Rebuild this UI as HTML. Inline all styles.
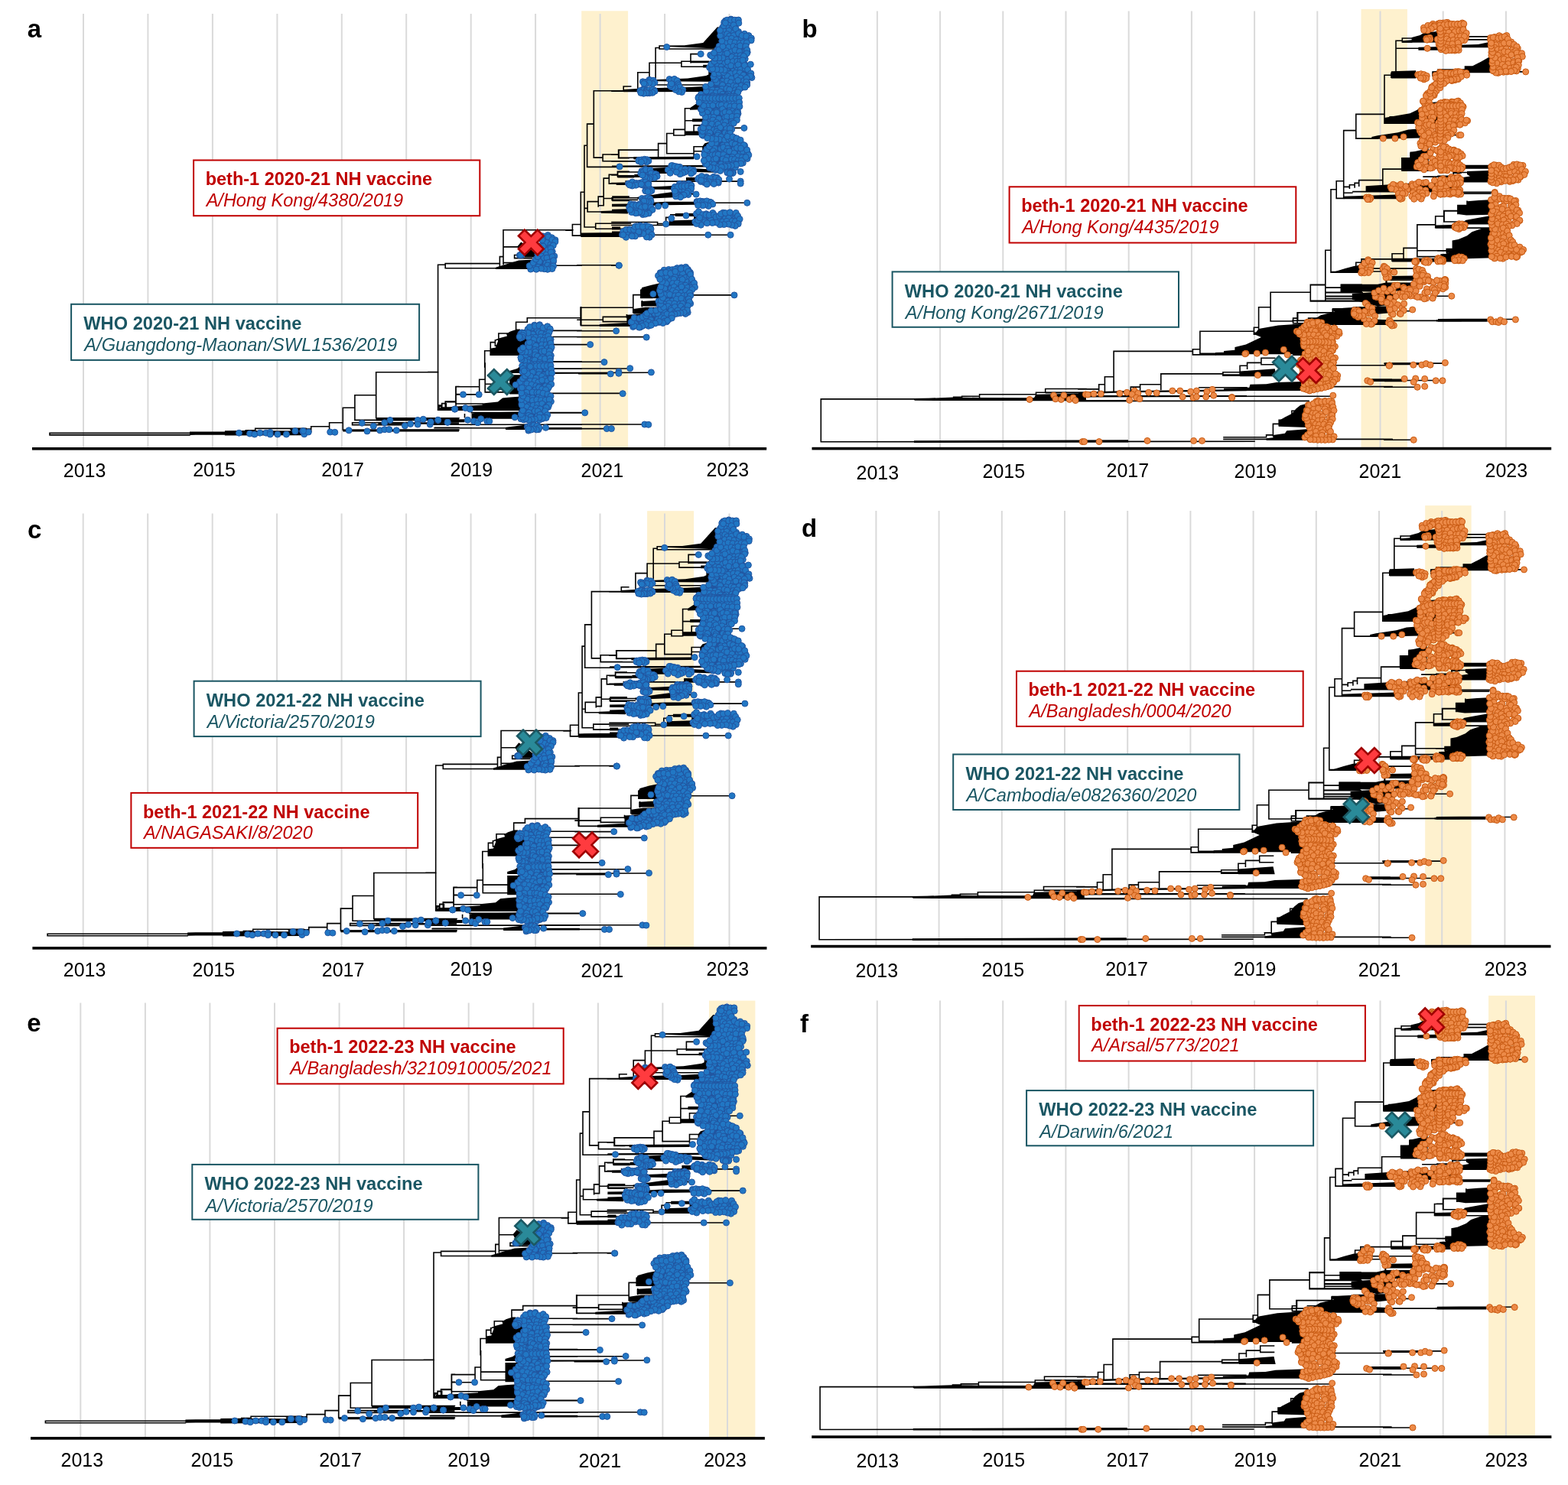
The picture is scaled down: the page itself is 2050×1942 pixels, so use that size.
<!DOCTYPE html>
<html><head><meta charset="utf-8"><title>Phylogenetic trees</title>
<style>
html,body{margin:0;padding:0;background:#fff;}
svg{display:block;}
text{font-family:"Liberation Sans",Arial,sans-serif;}
.yl{font-size:25px;fill:#000;}
.pl{font-size:33px;font-weight:bold;fill:#000;}
.b1{font-size:23.5px;font-weight:bold;}
.b2{font-size:23.5px;font-style:italic;}
</style></head><body>
<svg xmlns="http://www.w3.org/2000/svg" width="2050" height="1942" viewBox="0 0 2050 1942">
<rect width="2050" height="1942" fill="#fff"/>
<rect x="760.2" y="14.3" width="60.9" height="570.7" fill="#FEF1CE"/>
<line x1="109" y1="18.1" x2="109" y2="586.8" stroke="#DADADA" stroke-width="2"/>
<line x1="193.4" y1="18.1" x2="193.4" y2="586.8" stroke="#DADADA" stroke-width="2"/>
<line x1="277.9" y1="18.1" x2="277.9" y2="586.8" stroke="#DADADA" stroke-width="2"/>
<line x1="362.4" y1="18.1" x2="362.4" y2="586.8" stroke="#DADADA" stroke-width="2"/>
<line x1="446.8" y1="18.1" x2="446.8" y2="586.8" stroke="#DADADA" stroke-width="2"/>
<line x1="531.2" y1="18.1" x2="531.2" y2="586.8" stroke="#DADADA" stroke-width="2"/>
<line x1="615.7" y1="18.1" x2="615.7" y2="586.8" stroke="#DADADA" stroke-width="2"/>
<line x1="700.1" y1="18.1" x2="700.1" y2="586.8" stroke="#DADADA" stroke-width="2"/>
<line x1="784.6" y1="18.1" x2="784.6" y2="586.8" stroke="#DADADA" stroke-width="2"/>
<line x1="869.1" y1="18.1" x2="869.1" y2="586.8" stroke="#DADADA" stroke-width="2"/>
<line x1="953.5" y1="18.1" x2="953.5" y2="586.8" stroke="#DADADA" stroke-width="2"/>
<rect x="1779.5" y="11.9" width="60.4" height="572.9" fill="#FEF1CE"/>
<line x1="1146.9" y1="14.5" x2="1146.9" y2="586.6" stroke="#DADADA" stroke-width="2"/>
<line x1="1229.1" y1="14.5" x2="1229.1" y2="586.6" stroke="#DADADA" stroke-width="2"/>
<line x1="1311.3" y1="14.5" x2="1311.3" y2="586.6" stroke="#DADADA" stroke-width="2"/>
<line x1="1393.5" y1="14.5" x2="1393.5" y2="586.6" stroke="#DADADA" stroke-width="2"/>
<line x1="1475.7" y1="14.5" x2="1475.7" y2="586.6" stroke="#DADADA" stroke-width="2"/>
<line x1="1557.9" y1="14.5" x2="1557.9" y2="586.6" stroke="#DADADA" stroke-width="2"/>
<line x1="1640.1" y1="14.5" x2="1640.1" y2="586.6" stroke="#DADADA" stroke-width="2"/>
<line x1="1722.3" y1="14.5" x2="1722.3" y2="586.6" stroke="#DADADA" stroke-width="2"/>
<line x1="1804.5" y1="14.5" x2="1804.5" y2="586.6" stroke="#DADADA" stroke-width="2"/>
<line x1="1886.7" y1="14.5" x2="1886.7" y2="586.6" stroke="#DADADA" stroke-width="2"/>
<line x1="1968.9" y1="14.5" x2="1968.9" y2="586.6" stroke="#DADADA" stroke-width="2"/>
<rect x="846.1" y="668.2" width="61" height="569.9" fill="#FEF1CE"/>
<line x1="108.7" y1="671.5" x2="108.7" y2="1239.9" stroke="#DADADA" stroke-width="2"/>
<line x1="193.2" y1="671.5" x2="193.2" y2="1239.9" stroke="#DADADA" stroke-width="2"/>
<line x1="277.7" y1="671.5" x2="277.7" y2="1239.9" stroke="#DADADA" stroke-width="2"/>
<line x1="362.1" y1="671.5" x2="362.1" y2="1239.9" stroke="#DADADA" stroke-width="2"/>
<line x1="446.6" y1="671.5" x2="446.6" y2="1239.9" stroke="#DADADA" stroke-width="2"/>
<line x1="531.1" y1="671.5" x2="531.1" y2="1239.9" stroke="#DADADA" stroke-width="2"/>
<line x1="615.6" y1="671.5" x2="615.6" y2="1239.9" stroke="#DADADA" stroke-width="2"/>
<line x1="700.1" y1="671.5" x2="700.1" y2="1239.9" stroke="#DADADA" stroke-width="2"/>
<line x1="784.5" y1="671.5" x2="784.5" y2="1239.9" stroke="#DADADA" stroke-width="2"/>
<line x1="869" y1="671.5" x2="869" y2="1239.9" stroke="#DADADA" stroke-width="2"/>
<line x1="953.5" y1="671.5" x2="953.5" y2="1239.9" stroke="#DADADA" stroke-width="2"/>
<rect x="1863.2" y="661.1" width="60.4" height="574.7" fill="#FEF1CE"/>
<line x1="1145.4" y1="668" x2="1145.4" y2="1237.6" stroke="#DADADA" stroke-width="2"/>
<line x1="1227.6" y1="668" x2="1227.6" y2="1237.6" stroke="#DADADA" stroke-width="2"/>
<line x1="1309.8" y1="668" x2="1309.8" y2="1237.6" stroke="#DADADA" stroke-width="2"/>
<line x1="1392" y1="668" x2="1392" y2="1237.6" stroke="#DADADA" stroke-width="2"/>
<line x1="1474.2" y1="668" x2="1474.2" y2="1237.6" stroke="#DADADA" stroke-width="2"/>
<line x1="1556.4" y1="668" x2="1556.4" y2="1237.6" stroke="#DADADA" stroke-width="2"/>
<line x1="1638.6" y1="668" x2="1638.6" y2="1237.6" stroke="#DADADA" stroke-width="2"/>
<line x1="1720.8" y1="668" x2="1720.8" y2="1237.6" stroke="#DADADA" stroke-width="2"/>
<line x1="1803" y1="668" x2="1803" y2="1237.6" stroke="#DADADA" stroke-width="2"/>
<line x1="1885.2" y1="668" x2="1885.2" y2="1237.6" stroke="#DADADA" stroke-width="2"/>
<line x1="1967.4" y1="668" x2="1967.4" y2="1237.6" stroke="#DADADA" stroke-width="2"/>
<rect x="927" y="1308.6" width="60.4" height="570.5" fill="#FEF1CE"/>
<line x1="105.3" y1="1311.5" x2="105.3" y2="1880.9" stroke="#DADADA" stroke-width="2"/>
<line x1="189.9" y1="1311.5" x2="189.9" y2="1880.9" stroke="#DADADA" stroke-width="2"/>
<line x1="274.4" y1="1311.5" x2="274.4" y2="1880.9" stroke="#DADADA" stroke-width="2"/>
<line x1="359" y1="1311.5" x2="359" y2="1880.9" stroke="#DADADA" stroke-width="2"/>
<line x1="443.6" y1="1311.5" x2="443.6" y2="1880.9" stroke="#DADADA" stroke-width="2"/>
<line x1="528.1" y1="1311.5" x2="528.1" y2="1880.9" stroke="#DADADA" stroke-width="2"/>
<line x1="612.7" y1="1311.5" x2="612.7" y2="1880.9" stroke="#DADADA" stroke-width="2"/>
<line x1="697.3" y1="1311.5" x2="697.3" y2="1880.9" stroke="#DADADA" stroke-width="2"/>
<line x1="781.9" y1="1311.5" x2="781.9" y2="1880.9" stroke="#DADADA" stroke-width="2"/>
<line x1="866.4" y1="1311.5" x2="866.4" y2="1880.9" stroke="#DADADA" stroke-width="2"/>
<line x1="951" y1="1311.5" x2="951" y2="1880.9" stroke="#DADADA" stroke-width="2"/>
<rect x="1946.1" y="1302" width="60.9" height="575.3" fill="#FEF1CE"/>
<line x1="1146.8" y1="1308.4" x2="1146.8" y2="1879.1" stroke="#DADADA" stroke-width="2"/>
<line x1="1229" y1="1308.4" x2="1229" y2="1879.1" stroke="#DADADA" stroke-width="2"/>
<line x1="1311.2" y1="1308.4" x2="1311.2" y2="1879.1" stroke="#DADADA" stroke-width="2"/>
<line x1="1393.4" y1="1308.4" x2="1393.4" y2="1879.1" stroke="#DADADA" stroke-width="2"/>
<line x1="1475.6" y1="1308.4" x2="1475.6" y2="1879.1" stroke="#DADADA" stroke-width="2"/>
<line x1="1557.8" y1="1308.4" x2="1557.8" y2="1879.1" stroke="#DADADA" stroke-width="2"/>
<line x1="1640.1" y1="1308.4" x2="1640.1" y2="1879.1" stroke="#DADADA" stroke-width="2"/>
<line x1="1722.3" y1="1308.4" x2="1722.3" y2="1879.1" stroke="#DADADA" stroke-width="2"/>
<line x1="1804.5" y1="1308.4" x2="1804.5" y2="1879.1" stroke="#DADADA" stroke-width="2"/>
<line x1="1886.7" y1="1308.4" x2="1886.7" y2="1879.1" stroke="#DADADA" stroke-width="2"/>
<line x1="1968.9" y1="1308.4" x2="1968.9" y2="1879.1" stroke="#DADADA" stroke-width="2"/>
<defs>
<g id="tb">
<path d="M800 119.1 L815.2 119.1 M815.2 119.1 L815.2 113 L824.7 113 M833.8 117.1 L833.8 94.8 L849 94.8 M849 103.9 L849 82.2 L890.9 82.2 M890.9 80.2 L890.9 87.3 L919.7 87.3 M890.9 80.2 L903 80.2 M903 81.7 L903 70.6 L916.2 70.6 M857.1 103.9 L857.1 62.5 L862.1 62.5 M862.1 60 L862.1 64 L936.4 64 M862.1 60 L870.7 60 M859.6 111 L934.3 111 M951.5 122.1 L963.6 122.1 M971.7 84.2 L980.8 84.2 M800 202.3 L809.1 202.3 M809.1 196.2 L809.1 206.3 L907.1 206.3 M809.1 196.2 L860.6 196.2 M860.6 205.3 L860.6 187.6 L871.7 187.6 M871.7 200.8 L871.7 174.5 L880.8 174.5 M871.7 200.8 L907.1 200.8 M880.8 169.4 L880.8 177 L895.5 177 M880.8 169.4 L895.5 169.4 M895.5 176.5 L895.5 141.7 L903 141.7 M895.5 157.8 L905.1 157.8 M907.1 163.9 L907.1 172.5 L916.2 172.5 M907.1 163.9 L916.2 163.9 M907.1 204.8 L907.1 191.7 L918.2 191.7 M907.1 197.7 L921.2 197.7 M957.6 167.4 L971.7 167.4 M807.6 225 L807.6 231.1 L860.6 231.1 M807.6 225 L833.3 225 M818.2 237.1 L963.6 237.1 M800 239.6 L818.2 239.6 M800 210.9 L830.3 210.9 M800 229 L807.6 229 M800 258.7 L833.3 258.7 M800 261.4 L833.3 261.4 M935.4 265.3 L976.8 265.3 M876.8 280.9 L882.8 280.9 M870.7 289.5 L870.7 284.4 L876.8 284.4 M859.6 290.5 L859.6 294.5 L874.7 294.5 M859.6 292.5 L874.7 292.5 M800 290.5 L859.6 290.5 M800 294.5 L859.6 294.5 M830.3 307.2 L955.1 307.2 M800 347.1 L809.1 347.1 M901 253.6 L910.1 254.1 M740 301.1 L748.4 301.1 M759.3 293.5 L748.4 293.5 L748.4 308.1 L759.3 308.1 M759.3 308.1 L759.3 251.2 L764 251.2 M778.7 297 L764 297 L764 190.3 L767.6 190.3 M824.4 292.3 L778.7 292.3 L778.7 299.3 L824.4 299.3 M776.3 218.4 L767.6 218.4 L767.6 162.1 L776.3 162.1 M815 118.8 L776.3 118.8 L776.3 206.1 L788.1 206.1 M808.6 202 L788.1 202 L788.1 210.8 L816.2 210.8 M860.8 196.1 L808.6 196.1 L808.6 206.7 L822.1 206.7 M767.6 218.4 L805.7 218.4 M796.3 233.1 L789.2 233.1 L789.2 268.8 L782.2 268.8 M807.4 228.4 L796.3 228.4 L796.3 240.1 L805.7 240.1 M822.1 224.3 L807.4 224.3 L807.4 230.1 L822.1 230.1 M789.2 257.1 L782.2 257.1 L782.2 270 M801 259.5 L789.2 259.5 M822.1 257.1 L801 257.1 L801 262.4 L822.1 262.4 M782.2 263.6 L768.1 263.6 L768.1 277 L785.7 277 M764 272.4 L768.1 272.4 M572.6 400 L572.6 346.2 L582.2 346.2 M652.9 344.6 L582.2 344.6 L582.2 350.7 L648.9 350.7 M657.5 335.6 L653.4 335.6 L653.4 349.7 M748.9 300.7 L658 300.7 L658 345.7 M658 322.9 L676.2 322.9 M695.4 333.5 L672.6 333.5 L672.6 337.6 L695.4 337.6 M658 343.6 L678.2 343.6 M725.7 347.2 L760 347.2 M759.5 415.8 L689.3 415.8 L689.3 421.3 L674.6 421.3 L674.6 431.4 L679.2 431.4 M721.6 432.4 L760 432.4 M721.6 440.5 L760 440.5 M721.6 450.6 L760 450.6 M721.6 472.8 L760 472.8 M663 436 L651.9 436 L651.9 445.1 M647.4 445.1 L647.4 452.1 L661 452.1 M651.9 443.5 L647.4 445.1 M641.3 447.6 L641.3 464.2 M641.3 447.6 L647.4 447.6 M641.3 458.7 L633.7 458.7 L633.7 480 M560 486.6 L572.6 486.6 M572.6 475 L572.6 536.1 L681.2 536.1 M634.2 475 L634.2 512.9 L679.2 512.9 M634.2 502.3 L671.1 502.3 M634.2 496.2 L626.7 496.2 L626.7 513.4 M626.7 505.8 L595.9 505.8 L595.9 528 L630.7 528 M595.9 515.9 L625.7 515.9 M595.9 525 L582.2 525 L582.2 531.6 M582.2 527.5 L577.7 527.5 L577.7 532.6 M577.7 531.1 L574.1 531.1 L574.1 534.6 M616.6 539.6 L760 539.6 M607.5 541.7 L607.5 545.7 M560 555.3 L760 555.3 M568.1 559.8 L760 559.8 M721.6 482.1 L760 482.1 M721.6 488.1 L760 488.1 M721.6 514.4 L760 514.4 M716.6 560.9 L760 560.9 M755 346.7 L809.4 346.7 M827.8 402.2 L759.4 402.2 L759.4 425.6 L823.9 425.6 M837.8 385.6 L827.8 385.6 L827.8 408.9 M843.9 379.4 L837.8 379.4 L837.8 389.4 L852.8 389.4 M819.4 414.4 L788.3 414.4 L788.3 420.6 L821.7 420.6 M755 418.3 L788.3 418.3 M819.4 411.7 L819.4 415 M755 432.8 L805 432.8 M755 440.6 L845 440.6 M755 450.6 L771.7 450.6 M903.9 385.9 L959.4 385.9 M839.4 393.9 L839.4 400.6 M715 473.3 L789.4 473.3 M715 482 L823.3 482 M715 487.6 L851.1 487.2 M715 514.4 L813.9 514.4 M715 540 L764.4 540 M715 555 L847.2 555 M715 560.6 L799.4 560.6 M572.8 486.7 L491.7 486.7 L491.7 546.7 L600 546.7 M491.7 516.7 L463.9 516.7 L463.9 549.4 L535.6 549.4 M463.9 533.3 L448.3 533.3 L448.3 562.2 L600 562.2 M448.3 552.8 L430.6 552.8 L430.6 562.2 M460.6 552.8 L460.6 555.6 L535.6 555.6 M460.6 552.8 L535.6 552.8 M430.6 557.8 L406.7 557.8 L406.7 563.9 M380 561.1 L406.7 561.1 M380 564.4 L406.7 564.4 M568.9 559.4 L600 559.4 M573.9 536.1 L573.9 530 L577.8 530 L577.8 534.4 M577.8 527.8 L583.3 527.8 L583.3 532.2 M583.3 525.6 L595.6 525.6 M596.1 505.6 L596.1 532.2 M596.1 505.6 L600 505.6 M596.1 515.6 L600 515.6 M65 566.4 L248 566.4 M65 568.9 L248 568.9 M65 566.4 L65 568.9 M321.3 565.4 L321.3 562.7 L333.7 562.7 M333.7 562.7 L333.7 560.4 L400 560.4 M572.6 346.2 L572.6 536.1" fill="none" stroke="#000" stroke-width="1.6" stroke-linecap="square"/>
<path d="M870.7 59.5 L894.9 59.3 L919.2 56 L929.3 44.8 L937.9 35.3 L943.4 36.3 L946 62.5 L936.4 63.5 L911.1 62.5 L894.9 62 L870.7 61Z M926.3 80.7 L951.5 66.6 L951.5 97.9 L926.3 97.9Z M903 79.5 L927.3 79.5 L927.3 82.3 L903 82.3Z M919.2 84.7 L927.3 84.7 L927.3 88.4 L919.2 88.4Z M858.6 103.9 L899 102.4 L923.2 98.9 L927.3 96.9 L947.5 96.9 L947.5 107 L858.6 106.2Z M815.2 117.1 L840.4 115.6 L901 114 L919.2 113 L951.5 114 L951.5 120.1 L815.2 120.3Z M902 141.2 L911.1 135.1 L916.2 134.1 L917.2 143.2 L902 143.7Z M905.1 155.3 L921.2 155.3 L921.2 159.3 L905.1 159.3Z M895.5 171.5 L916.2 171.5 L916.2 177 L895.5 177Z M918.2 191.7 L921.2 187.6 L930.3 184.6 L931.3 199.7 L918.2 199.7Z M828.3 205.3 L907.1 204.8 L907.1 208.3 L828.3 208.6Z M800 216.4 L921.2 215.9 L921.2 218.4 L800 218.7Z M838.4 220.5 L870.7 218.9 L911.1 220.5 L941.4 222 L941.4 226 L911.1 225 L870.7 227 L838.4 227Z M897 232.1 L911.1 232.1 L911.1 236.1 L897 236.1Z M829.3 228 L860.6 228 L860.6 231.1 L829.3 231.1Z M843.4 244.5 L864.6 243.8 L879.8 243 L879.8 248.1 L843.4 247.6Z M833.3 257.7 L850.5 255.2 L864.6 253.1 L879.8 251.1 L879.8 258.2 L833.3 260.2Z M800 266.8 L820.2 266.5 L870.7 263.7 L909.1 263.7 L909.1 267.8 L870.7 268.3 L820.2 270.3 L800 270.3Z M800 273.8 L820.2 273.3 L820.2 278.4 L800 278.4Z M882.8 278.9 L907.1 278.9 L907.1 282.9 L882.8 282.9Z M874.7 288.5 L907.1 287.5 L907.1 295.1 L874.7 295.1Z M907.1 278.4 L943.4 280.4 L943.4 287.5 L907.1 287.5Z M800 302.6 L812.1 302.6 L812.1 309.2 L800 309.2Z M800 296.6 L811.1 296.6 L811.1 300.6 L800 300.6Z M759.3 304.6 L811.5 304 L811.5 309.9 L759.3 309.9Z M785.7 275.9 L820.9 274.7 L820.9 279.4 L785.7 278.8Z M805.7 238.9 L822.1 238.4 L822.1 241.9 L805.7 241.9Z M807.4 229 L829.1 229 L829.1 232.5 L807.4 232.5Z M647.9 349.7 L661 345.7 L678.2 340.6 L697.4 339.6 L697.4 351.9 L647.9 351.9Z M676.2 322.4 L681.2 316.4 L684.2 318.4 L699.4 330.5 L699.4 336.6 L686.3 336.6 L679.2 328.5Z M758.5 401.1 L760.5 401.1 L760.5 425.4 L758.5 425.4Z M662 436.5 L667.1 433.4 L673.1 431.4 L689.3 430.9 L689.3 464.9 L640.8 464.9 L640.8 455.7 L647.9 454.6 L650.9 446.6 L651.9 442.5 L663 439.5Z M679.2 476.9 L689.3 475.9 L689.3 480 L679.2 480Z M666.1 485.1 L676.2 482.1 L681.2 478 L684.2 476 L691.3 475 L691.3 488.1 L666.1 488.1Z M666.1 490.2 L686.3 490.2 L686.3 515.4 L666.1 515.4Z M630.7 527.5 L650.9 525.5 L657 520.5 L667.1 519.4 L681.2 518.4 L681.2 536.8 L573.1 536.8 L573.1 533.6 L596.4 531.6 L630.7 529.5Z M616.6 540.7 L624.6 539.6 L681.2 538.6 L681.2 547.7 L616.6 547.7Z M560 548.7 L607.5 548.2 L607.5 552.3 L560 552.6Z M661 558.8 L686.3 555.8 L686.3 562.1 L661 562.1Z M828.3 403.9 L843.9 401.7 L866.1 401.7 L866.1 410.6 L828.3 410.6Z M838.3 393.9 L860.6 392.8 L860.6 400.6 L838.3 400.6Z M837.8 379.4 L839.4 376.1 L851.7 372.8 L861.7 370.6 L862.8 361.7 L877.2 359.4 L877.2 390.6 L869.4 390.6 L837.8 389.4Z M783.9 423.9 L823.9 421.7 L823.9 426.9 L783.9 426.9Z M819.4 411.7 L841.7 410.6 L860.6 411.7 L860.6 422.8 L819.4 422.8Z M756.1 487.3 L795 487.3 L795 489.6 L756.1 489.6Z M448.3 561.7 L600 561.3 L600 564.4 L448.3 564.4Z M494.4 552.2 L600 552 L600 554.7 L494.4 554.7Z M491.7 546.4 L600 546.2 L600 550.2 L491.7 550.2Z M380 561.7 L406.7 561.7 L406.7 565 L380 565Z M575.6 532.2 L600 532.2 L600 536.7 L575.6 536.7Z M248 564.6 L293.9 564.3 L293.9 568.5 L248 568.9Z M293.9 563.2 L322.2 562.9 L400 563.6 L400 569.2 L293.9 569.6Z" fill="#000"/>
<path d="M950.5 22.6 L966.2 22.6 L966.7 26.7 L959.6 29.2 L962.6 34.2 L966.7 40.3 L971.7 43.3 L977.8 44.3 L984.8 47.4 L984.8 50.4 L978.8 53.4 L977.8 58.5 L979.8 63.5 L979.8 68.6 L975.8 72.6 L974.7 78.7 L976.8 86.8 L980.8 92.8 L984.8 97.9 L983.8 101.9 L978.8 104.9 L977.8 110 L978.8 114 L975.8 117.1 L967.7 120.1 L965.7 124.1 L961.6 130 L911.1 130 L914.1 126.2 L921.2 122.1 L920.2 116.1 L927.3 113 L935.4 111 L933.3 107 L930.3 102.9 L931.3 98.9 L944.4 97.9 L945.5 94.8 L928.3 91.8 L926.3 84.7 L930.3 80.7 L937.4 79.7 L941.4 74.6 L931.3 75.7 L927.3 72.6 L930.3 67.6 L937.4 62.5 L943.4 57.5 L942.4 50.4 L940.4 43.3 L940.4 36.3 L945.5 30.2Z M839.4 107 L844.4 104.9 L852.5 101.9 L857.6 103.9 L859.6 108 L856.6 111 L848.5 112 L840.4 112 L838.4 110Z M833.3 118.1 L838.4 116.1 L847.5 115.1 L856.6 116.1 L859.6 119.1 L856.6 122.1 L847.5 125.2 L838.4 124.1 L834.3 122.1Z M874.7 102.9 L880.8 99.9 L885.9 101.9 L888.9 107 L890.9 111 L891.9 115.1 L896 119.1 L893.9 123.1 L888.9 123.1 L882.8 121.1 L879.8 117.1 L875.8 115.1 L872.7 112 L874.7 108Z M911.1 125 L967.7 125 L968.7 136.1 L965.7 144.2 L965.7 154.3 L961.6 158.3 L956.6 165.4 L957.6 172.5 L954.5 177.5 L961.6 178.5 L971.7 183.6 L975.8 190.7 L971.7 195.7 L979.8 197.7 L981.8 204.8 L977.8 207.8 L971.7 212.9 L970.7 216.9 L957.6 219.9 L943.4 222 L941.4 227 L935.4 224 L926.3 222 L922.2 217.9 L918.2 212.9 L918.2 204.8 L921.2 197.7 L927.3 189.6 L932.3 182.6 L921.2 180.6 L914.1 175.5 L916.2 165.4 L919.2 158.3 L920.2 150.3 L916.2 145.2 L915.2 140.2 L918.2 135.1 L912.1 131.1Z M831.3 210.9 L835.4 207.8 L843.4 204.8 L849.5 207.8 L851.5 210.9 L848.5 213.9 L835.4 213.9Z M834.3 226 L842.4 218.9 L850.5 218.9 L853.5 224 L860.6 227 L862.6 231.1 L858.6 234.1 L851.5 235.1 L848.5 237.1 L843.4 236.1 L836.4 229Z M869.7 222 L874.7 214.9 L883.8 215.9 L890.9 217.9 L899 219.9 L907.1 222 L910.1 225 L907.1 228 L899 226 L894.9 229 L887.9 231.1 L880.8 226 L872.7 227Z M910.1 232.1 L914.1 229 L921.2 231.1 L931.3 231.1 L939.4 232.1 L943.4 235.1 L941.4 239.1 L931.3 241.2 L921.2 241.2 L913.1 236.1Z M818.2 240.2 L823.2 237.1 L828.3 239.1 L838.4 237.1 L847.5 237.1 L851.5 240.2 L847.5 243.2 L838.4 243.2 L823.2 244.2Z M878.8 245 L885.9 240.2 L896 238.1 L904 239.1 L907.1 242.2 L905.1 245Z M947.5 225 L953.5 222 L959.6 224 L961.6 227 L957.6 229 L951.5 229Z M840.4 250.1 L844.4 246.1 L851.5 245.1 L855.6 249.1 L852.5 253.1 L844.4 253.1Z M877.8 246.1 L883.8 242 L890.9 240 L907.1 241 L907.1 245.1 L903 250.1 L901 254.1 L896 258.2 L888.9 261.2 L880.8 259.2 L879.8 254.1 L878.8 250.1Z M837.4 261.2 L842.4 256.2 L848.5 255.2 L853.5 259.2 L854.5 264.2 L849.5 267.3 L842.4 266.3 L838.4 264.2Z M819.2 270.3 L824.2 266.3 L834.3 265.3 L840.4 268.3 L846.5 268.3 L854.5 270.3 L856.6 274.3 L851.5 280.4 L846.5 282.4 L840.4 281.4 L834.3 280.4 L828.3 280.9 L822.2 278.4 L820.2 274.3Z M908.1 264.2 L912.1 261.2 L926.3 260.2 L933.3 264.2 L935.4 267.3 L929.3 271.3 L916.2 271.3 L909.1 269.3Z M907.1 278.4 L910.1 275.4 L915.2 279.4 L924.2 279.4 L932.3 277.4 L937.4 280.4 L943.4 280.4 L945.5 277.4 L957.6 276.4 L965.7 277.4 L970.7 286.5 L968.7 293.5 L964.6 296.6 L955.6 294.5 L943.4 296.6 L937.4 294.5 L929.3 294.5 L921.2 293.5 L913.1 295.6 L907.1 293.5 L909.1 288.5 L911.1 284.4Z M811.1 302.6 L815.2 299.6 L825.3 298.6 L828.3 293.5 L834.3 292.5 L842.4 293.5 L850.5 294.5 L854.5 298.6 L851.5 303.6 L855.6 307.7 L852.5 311.7 L848.5 311.7 L844.4 306.7 L832.3 305.7 L828.3 311.7 L823.2 310.7 L815.2 311.7 L811.1 307.7Z M859.6 357.2 L864.6 353.1 L870.7 352.1 L879.8 352.1 L886.9 350.1 L893.9 348.1 L900 348.1 L903 352.1 L906.1 357.2 L905.1 360 L859.6 360Z M709.5 305.3 L717.6 306.3 L723.6 310.3 L728.2 313.3 L725.7 318.4 L722.6 322.4 L723.6 328.5 L725.7 336.6 L726.7 342.6 L725.7 350.7 L723.6 354.7 L716.6 355.8 L706.5 354.7 L699.4 355.3 L691.3 354.7 L689.3 349.7 L694.3 345.7 L697.4 340.6 L699.4 336.6 L703.4 330.5 L707.5 324.4 L709.5 318.4 L708.5 310.3Z M677.2 332.5 L680.2 329.5 L684.2 330.5 L685.3 335.1 L681.2 337.1 L677.7 335.6Z M688.3 427.4 L691.3 424.3 L699.4 422.8 L705.5 422.3 L711.5 425.4 L717.6 423.8 L721.6 427.4 L720.6 432.4 L719.6 437.5 L721.6 442.5 L723.6 448.6 L724.6 454.6 L721.6 460.7 L720.6 465.8 L721.6 470.8 L721.6 480 L689.3 480 L688.3 476.9 L679.2 472.8 L678.2 469.8 L685.3 466.8 L690.3 464.7 L689.3 462.7 L679.2 461.7 L677.2 458.7 L680.2 455.7 L688.3 454.6 L688.8 446.6 L688.3 438.5 L688.3 432.4Z M677.2 440.5 L680.2 437.5 L679.2 433.4 L683.2 431.4 L687.3 433.4 L687.3 438.5 L684.2 444.5 L679.2 445.6 L676.2 442.5Z M681.2 475 L721.6 475 L723.6 485.1 L722.6 492.2 L723.6 500.3 L720.6 504.3 L716.6 508.3 L713.5 513.4 L719.6 515.4 L723.6 518.4 L721.6 523.5 L720.6 531.6 L716.6 535.6 L714.5 540.7 L717.6 545.7 L715.6 549.7 L705.5 549.7 L699.4 551.8 L690.3 552.8 L681.2 548.7 L679.2 544.7 L681.2 539.6 L679.2 531.6 L678.2 523.5 L680.2 518.4 L678.2 513.4 L679.2 505.3 L677.2 497.2 L681.2 492.2 L688.3 485.1 L681.2 483.1 L682.2 479Z M686.3 557.8 L690.3 554.8 L699.4 552.8 L705.5 555.8 L708.5 559.8 L704.4 563.9 L692.3 564.9 L687.3 561.9Z M859.4 357.2 L863.9 353.9 L870.6 352.8 L877.2 353.9 L883.9 351.7 L891.7 348.3 L899.4 348.3 L905 356.1 L907.2 362.8 L910.6 368.3 L911.7 373.9 L908.3 377.2 L905 381.7 L906.1 386.1 L903.9 390.6 L905 395 L902.8 400.6 L901.7 407.2 L897.2 410.6 L888.3 412.8 L879.4 415 L879.4 419.4 L872.8 422.8 L866.1 426.1 L860.6 423.9 L855 426.1 L849.4 428.3 L841.7 427.2 L832.8 430.6 L826.1 428.3 L822.8 422.8 L826.1 417.2 L832.8 418.3 L841.7 415 L842.8 411.7 L848.3 408.3 L855 408.3 L861.7 407.2 L866.1 405 L860.6 399.4 L860.6 392.8 L863.9 387.2 L861.7 381.7 L860.6 377.2 L862.8 371.7 L865 365 L861.7 361.7Z" fill="#2255A0" stroke="none" transform="translate(0,0)"/>
<g fill="#2177C4" stroke="#2255A0" stroke-width="1"><circle cx="948.5" cy="27.1" r="4"/><circle cx="955.7" cy="25.1" r="4"/><circle cx="962.6" cy="28" r="4"/><circle cx="946.7" cy="29.2" r="4"/><circle cx="953.2" cy="30.7" r="4"/><circle cx="959.4" cy="31.8" r="4"/><circle cx="944.4" cy="36.3" r="4"/><circle cx="950.7" cy="36.3" r="4"/><circle cx="957.1" cy="36.6" r="4"/><circle cx="961.4" cy="35.9" r="4"/><circle cx="942.3" cy="42.9" r="4"/><circle cx="946.7" cy="40.7" r="4"/><circle cx="953.1" cy="40.3" r="4"/><circle cx="959.3" cy="42.6" r="4"/><circle cx="965.5" cy="41.5" r="4"/><circle cx="944.8" cy="45.5" r="4"/><circle cx="950.7" cy="44.6" r="4"/><circle cx="953.8" cy="47" r="4"/><circle cx="959.2" cy="46.5" r="4"/><circle cx="968.4" cy="46.3" r="4"/><circle cx="973.3" cy="44.3" r="4"/><circle cx="978.9" cy="46.6" r="4"/><circle cx="947.7" cy="53" r="4"/><circle cx="950.4" cy="50.9" r="4"/><circle cx="956.5" cy="50.3" r="4"/><circle cx="962.8" cy="51.8" r="4"/><circle cx="969.1" cy="49.9" r="4"/><circle cx="975.5" cy="49.4" r="4"/><circle cx="945" cy="55.6" r="4"/><circle cx="948.4" cy="56.6" r="4"/><circle cx="955" cy="54.9" r="4"/><circle cx="960.9" cy="55.9" r="4"/><circle cx="967.1" cy="56.3" r="4"/><circle cx="971.8" cy="55.7" r="4"/><circle cx="940.1" cy="60.4" r="4"/><circle cx="945.9" cy="63" r="4"/><circle cx="952.8" cy="61.7" r="4"/><circle cx="959" cy="60.8" r="4"/><circle cx="963.6" cy="61.9" r="4"/><circle cx="967.7" cy="60" r="4"/><circle cx="974.8" cy="60.2" r="4"/><circle cx="937.6" cy="65.3" r="4"/><circle cx="942.2" cy="66.4" r="4"/><circle cx="949.3" cy="66.5" r="4"/><circle cx="956.2" cy="67.8" r="4"/><circle cx="961" cy="65.5" r="4"/><circle cx="966.7" cy="67.5" r="4"/><circle cx="974.1" cy="67.5" r="4"/><circle cx="977.2" cy="68.3" r="4"/><circle cx="928.7" cy="72" r="4"/><circle cx="934.2" cy="70.2" r="4"/><circle cx="941.6" cy="69.3" r="4"/><circle cx="947.8" cy="71.4" r="4"/><circle cx="950.7" cy="69.8" r="4"/><circle cx="958.7" cy="72.8" r="4"/><circle cx="963" cy="73.2" r="4"/><circle cx="968.1" cy="72.7" r="4"/><circle cx="975.1" cy="69.6" r="4"/><circle cx="933.5" cy="75.4" r="4"/><circle cx="935.9" cy="74.5" r="4"/><circle cx="944.3" cy="76.6" r="4"/><circle cx="951.2" cy="78.1" r="4"/><circle cx="956.8" cy="74.5" r="4"/><circle cx="962" cy="77.1" r="4"/><circle cx="967.4" cy="77.2" r="4"/><circle cx="974.2" cy="76.9" r="4"/><circle cx="935.8" cy="80.7" r="4"/><circle cx="941.2" cy="79.5" r="4"/><circle cx="945.2" cy="83.3" r="4"/><circle cx="951.5" cy="80.9" r="4"/><circle cx="958.3" cy="80.5" r="4"/><circle cx="963.8" cy="80.3" r="4"/><circle cx="967.9" cy="80.1" r="4"/><circle cx="927.6" cy="88.3" r="4"/><circle cx="931.4" cy="86.3" r="4"/><circle cx="938.6" cy="86.1" r="4"/><circle cx="942.8" cy="87.3" r="4"/><circle cx="951" cy="88.1" r="4"/><circle cx="955.7" cy="85.9" r="4"/><circle cx="962.9" cy="86.9" r="4"/><circle cx="965.1" cy="84.7" r="4"/><circle cx="973.6" cy="84.6" r="4"/><circle cx="976.4" cy="85.9" r="4"/><circle cx="929.8" cy="91.1" r="4"/><circle cx="939.7" cy="92.5" r="4"/><circle cx="946.2" cy="90.8" r="4"/><circle cx="950.6" cy="92.9" r="4"/><circle cx="958.9" cy="93" r="4"/><circle cx="963.7" cy="92.1" r="4"/><circle cx="968.2" cy="91" r="4"/><circle cx="974.3" cy="89.6" r="4"/><circle cx="945.1" cy="96.4" r="4"/><circle cx="951.1" cy="95.7" r="4"/><circle cx="955.2" cy="96.4" r="4"/><circle cx="961.7" cy="95.2" r="4"/><circle cx="967.2" cy="95.3" r="4"/><circle cx="972" cy="98.3" r="4"/><circle cx="980" cy="97.7" r="4"/><circle cx="935.8" cy="102.7" r="4"/><circle cx="939" cy="99.8" r="4"/><circle cx="948" cy="99.6" r="4"/><circle cx="951.2" cy="99.6" r="4"/><circle cx="956.2" cy="102.8" r="4"/><circle cx="963.2" cy="100.1" r="4"/><circle cx="968.3" cy="102.1" r="4"/><circle cx="977.4" cy="101.5" r="4"/><circle cx="982.9" cy="101.5" r="4"/><circle cx="933.6" cy="105.3" r="4"/><circle cx="937.9" cy="106.9" r="4"/><circle cx="944.9" cy="106.4" r="4"/><circle cx="950.6" cy="106" r="4"/><circle cx="955.5" cy="107.9" r="4"/><circle cx="962.2" cy="107.1" r="4"/><circle cx="964.8" cy="105.2" r="4"/><circle cx="972.6" cy="105.5" r="4"/><circle cx="976.7" cy="107.9" r="4"/><circle cx="942" cy="109.7" r="4"/><circle cx="944.6" cy="111.2" r="4"/><circle cx="952.3" cy="112.9" r="4"/><circle cx="959" cy="112.2" r="4"/><circle cx="962.5" cy="113.4" r="4"/><circle cx="969.3" cy="111.9" r="4"/><circle cx="975" cy="109.7" r="4"/><circle cx="926.4" cy="115.9" r="4"/><circle cx="931.5" cy="117.6" r="4"/><circle cx="937.8" cy="118" r="4"/><circle cx="944" cy="116.4" r="4"/><circle cx="949.9" cy="115.9" r="4"/><circle cx="953.7" cy="117.2" r="4"/><circle cx="961.5" cy="117.7" r="4"/><circle cx="965.3" cy="118.2" r="4"/><circle cx="924.4" cy="120.3" r="4"/><circle cx="930.2" cy="121.3" r="4"/><circle cx="935.9" cy="121.4" r="4"/><circle cx="941.9" cy="119.8" r="4"/><circle cx="944.7" cy="123.3" r="4"/><circle cx="952.2" cy="123.1" r="4"/><circle cx="959.9" cy="122.2" r="4"/><circle cx="964.2" cy="120.4" r="4"/><circle cx="920.1" cy="126.8" r="4"/><circle cx="927.9" cy="128.3" r="4"/><circle cx="931.7" cy="125" r="4"/><circle cx="938.9" cy="127.5" r="4"/><circle cx="941.7" cy="126.3" r="4"/><circle cx="950.1" cy="124.7" r="4"/><circle cx="956.9" cy="128.4" r="4"/><circle cx="961.9" cy="124.9" r="4"/><circle cx="950.7" cy="26.2" r="4"/><circle cx="955.6" cy="26.2" r="4"/><circle cx="960.5" cy="26.2" r="4"/><circle cx="965.4" cy="26.1" r="4"/><circle cx="965.8" cy="30.2" r="4"/><circle cx="959.2" cy="32.8" r="4"/><circle cx="961.9" cy="37.7" r="4"/><circle cx="965.6" cy="43.7" r="4"/><circle cx="970.1" cy="46.5" r="4"/><circle cx="975.7" cy="47.3" r="4"/><circle cx="982.3" cy="50" r="4"/><circle cx="982.1" cy="52.8" r="4"/><circle cx="976.3" cy="56" r="4"/><circle cx="975" cy="60.8" r="4"/><circle cx="976.7" cy="65.3" r="4"/><circle cx="976.4" cy="69.9" r="4"/><circle cx="972.3" cy="73.5" r="4"/><circle cx="971.1" cy="78.7" r="4"/><circle cx="973.4" cy="85.6" r="4"/><circle cx="977.6" cy="91.1" r="4"/><circle cx="981.8" cy="96" r="4"/><circle cx="981" cy="99.7" r="4"/><circle cx="976.3" cy="102.3" r="4"/><circle cx="975.6" cy="107.1" r="4"/><circle cx="976.7" cy="111.1" r="4"/><circle cx="974" cy="114" r="4"/><circle cx="966.6" cy="116.7" r="4"/><circle cx="964.8" cy="120.6" r="4"/><circle cx="961.1" cy="126.4" r="4"/><circle cx="956.8" cy="126.4" r="4"/><circle cx="952.5" cy="126.4" r="4"/><circle cx="948.3" cy="126.4" r="4"/><circle cx="944" cy="126.5" r="4"/><circle cx="939.7" cy="126.5" r="4"/><circle cx="935.4" cy="126.6" r="4"/><circle cx="931" cy="126.7" r="4"/><circle cx="926.6" cy="126.9" r="4"/><circle cx="922.3" cy="127" r="4"/><circle cx="917.8" cy="127.1" r="4"/><circle cx="913.4" cy="127.2" r="4"/><circle cx="916.4" cy="123.4" r="4"/><circle cx="923.4" cy="119.2" r="4"/><circle cx="922.6" cy="113.4" r="4"/><circle cx="929.5" cy="110.2" r="4"/><circle cx="937.2" cy="107.9" r="4"/><circle cx="935.4" cy="104.1" r="4"/><circle cx="932.8" cy="100.3" r="4"/><circle cx="934" cy="96.5" r="4"/><circle cx="940.1" cy="95.6" r="4"/><circle cx="946" cy="94.7" r="4"/><circle cx="947.2" cy="91.6" r="4"/><circle cx="942.2" cy="91.2" r="4"/><circle cx="937" cy="90.7" r="4"/><circle cx="931.5" cy="90.1" r="4"/><circle cx="929.8" cy="83.9" r="4"/><circle cx="933.9" cy="80.4" r="4"/><circle cx="941" cy="79.4" r="4"/><circle cx="944.8" cy="75.7" r="4"/><circle cx="939.9" cy="75.8" r="4"/><circle cx="934.9" cy="76.1" r="4"/><circle cx="930.8" cy="73.4" r="4"/><circle cx="933.6" cy="69.1" r="4"/><circle cx="940" cy="65" r="4"/><circle cx="945" cy="60.7" r="4"/><circle cx="943.8" cy="53.7" r="4"/><circle cx="941.7" cy="46.7" r="4"/><circle cx="941.5" cy="39.7" r="4"/><circle cx="946.1" cy="33.7" r="4"/><circle cx="948.4" cy="30" r="4"/><circle cx="840.4" cy="106.8" r="4"/><circle cx="848.8" cy="104.4" r="4"/><circle cx="853.5" cy="105.2" r="4"/><circle cx="843" cy="107.3" r="4"/><circle cx="847.3" cy="107" r="4"/><circle cx="850.5" cy="104.9" r="4"/><circle cx="854.3" cy="105.3" r="4"/><circle cx="856" cy="108" r="4"/><circle cx="853.2" cy="109.7" r="4"/><circle cx="848.6" cy="108.4" r="4"/><circle cx="843.6" cy="110.4" r="4"/><circle cx="841.9" cy="109.3" r="4"/><circle cx="838.6" cy="120.4" r="4"/><circle cx="840.8" cy="116.9" r="4"/><circle cx="849.7" cy="119.5" r="4"/><circle cx="854.9" cy="117.8" r="4"/><circle cx="836.9" cy="118.6" r="4"/><circle cx="841.6" cy="117.7" r="4"/><circle cx="845" cy="118.6" r="4"/><circle cx="846.3" cy="118.5" r="4"/><circle cx="849.1" cy="117.6" r="4"/><circle cx="853.2" cy="117.3" r="4"/><circle cx="856" cy="119.3" r="4"/><circle cx="853.1" cy="121.3" r="4"/><circle cx="849" cy="121.8" r="4"/><circle cx="846.4" cy="121.8" r="4"/><circle cx="844.8" cy="121.5" r="4"/><circle cx="841.5" cy="122.3" r="4"/><circle cx="837.8" cy="121.4" r="4"/><circle cx="875.2" cy="103.6" r="4"/><circle cx="881.5" cy="103.8" r="4"/><circle cx="877.2" cy="109.8" r="4"/><circle cx="883.9" cy="107.4" r="4"/><circle cx="877.5" cy="113.4" r="4"/><circle cx="882.6" cy="112" r="4"/><circle cx="888.3" cy="114.9" r="4"/><circle cx="885.6" cy="116.7" r="4"/><circle cx="891.7" cy="118.8" r="4"/><circle cx="877.2" cy="105.5" r="4"/><circle cx="881.7" cy="103.4" r="4"/><circle cx="885.3" cy="105.5" r="4"/><circle cx="886.6" cy="109.7" r="4"/><circle cx="887.4" cy="111.8" r="4"/><circle cx="888.5" cy="114" r="4"/><circle cx="892.8" cy="117.4" r="4"/><circle cx="891.4" cy="120.5" r="4"/><circle cx="887.4" cy="119.8" r="4"/><circle cx="883.4" cy="117.5" r="4"/><circle cx="882.3" cy="114.5" r="4"/><circle cx="879.2" cy="114.1" r="4"/><circle cx="876.3" cy="112.2" r="4"/><circle cx="877.9" cy="109.6" r="4"/><circle cx="913.5" cy="126.9" r="4"/><circle cx="920" cy="127.1" r="4"/><circle cx="924.5" cy="128.1" r="4"/><circle cx="933.7" cy="129.7" r="4"/><circle cx="938.9" cy="127.4" r="4"/><circle cx="943.7" cy="127.6" r="4"/><circle cx="948.1" cy="126.9" r="4"/><circle cx="954.1" cy="130.2" r="4"/><circle cx="962.3" cy="129.7" r="4"/><circle cx="919" cy="131.9" r="4"/><circle cx="923.7" cy="134.2" r="4"/><circle cx="929.1" cy="132.2" r="4"/><circle cx="934.8" cy="131.9" r="4"/><circle cx="942.4" cy="135" r="4"/><circle cx="946.7" cy="132.7" r="4"/><circle cx="953.9" cy="133.8" r="4"/><circle cx="959.6" cy="134.9" r="4"/><circle cx="963.9" cy="133.2" r="4"/><circle cx="918.6" cy="139.1" r="4"/><circle cx="925.3" cy="138.7" r="4"/><circle cx="931.9" cy="137.9" r="4"/><circle cx="939.8" cy="137.3" r="4"/><circle cx="943.3" cy="137.4" r="4"/><circle cx="949.9" cy="137.7" r="4"/><circle cx="954.6" cy="139.5" r="4"/><circle cx="960.3" cy="138.8" r="4"/><circle cx="916.4" cy="142.9" r="4"/><circle cx="922" cy="143.4" r="4"/><circle cx="927.3" cy="144.4" r="4"/><circle cx="936.5" cy="145.4" r="4"/><circle cx="941.6" cy="145.4" r="4"/><circle cx="944.6" cy="142.7" r="4"/><circle cx="954.2" cy="144.7" r="4"/><circle cx="957.7" cy="145.3" r="4"/><circle cx="964.4" cy="144.8" r="4"/><circle cx="919.7" cy="146.6" r="4"/><circle cx="924.4" cy="147.3" r="4"/><circle cx="933.1" cy="148" r="4"/><circle cx="937" cy="147" r="4"/><circle cx="945.5" cy="148.3" r="4"/><circle cx="948.2" cy="146.8" r="4"/><circle cx="953.4" cy="147.3" r="4"/><circle cx="961.7" cy="147.2" r="4"/><circle cx="965" cy="148.6" r="4"/><circle cx="925.3" cy="153.5" r="4"/><circle cx="928.1" cy="153.3" r="4"/><circle cx="933" cy="153.3" r="4"/><circle cx="939.7" cy="155.2" r="4"/><circle cx="947.8" cy="153.6" r="4"/><circle cx="950.4" cy="152.6" r="4"/><circle cx="957.1" cy="152.4" r="4"/><circle cx="962.8" cy="155.1" r="4"/><circle cx="922" cy="159.3" r="4"/><circle cx="927.4" cy="159.6" r="4"/><circle cx="932" cy="157" r="4"/><circle cx="936.6" cy="160.1" r="4"/><circle cx="945.2" cy="160.3" r="4"/><circle cx="948.7" cy="159.3" r="4"/><circle cx="956.4" cy="159.2" r="4"/><circle cx="919.4" cy="165.5" r="4"/><circle cx="924" cy="161.8" r="4"/><circle cx="930.7" cy="162.2" r="4"/><circle cx="936.8" cy="164.3" r="4"/><circle cx="938.9" cy="162.3" r="4"/><circle cx="947" cy="163.9" r="4"/><circle cx="953.3" cy="165.4" r="4"/><circle cx="957" cy="161.7" r="4"/><circle cx="916.1" cy="168.9" r="4"/><circle cx="921.9" cy="167.5" r="4"/><circle cx="926.9" cy="168" r="4"/><circle cx="933.6" cy="169.8" r="4"/><circle cx="937.7" cy="168.8" r="4"/><circle cx="941.7" cy="166.8" r="4"/><circle cx="949.8" cy="168.6" r="4"/><circle cx="956.7" cy="169.1" r="4"/><circle cx="917.7" cy="173.2" r="4"/><circle cx="924.4" cy="172.9" r="4"/><circle cx="928" cy="173.7" r="4"/><circle cx="936.8" cy="172.1" r="4"/><circle cx="939.2" cy="174.2" r="4"/><circle cx="948" cy="173.8" r="4"/><circle cx="952" cy="175.1" r="4"/><circle cx="919.1" cy="177.3" r="4"/><circle cx="926.2" cy="178.1" r="4"/><circle cx="932.2" cy="180.3" r="4"/><circle cx="938.6" cy="176.8" r="4"/><circle cx="942.8" cy="178.9" r="4"/><circle cx="949.3" cy="179.6" r="4"/><circle cx="960" cy="180.1" r="4"/><circle cx="936" cy="184.2" r="4"/><circle cx="940.5" cy="182.3" r="4"/><circle cx="947.6" cy="183.2" r="4"/><circle cx="952.9" cy="182.3" r="4"/><circle cx="956.4" cy="182.3" r="4"/><circle cx="965.1" cy="182.5" r="4"/><circle cx="931.3" cy="188" r="4"/><circle cx="935.9" cy="186.9" r="4"/><circle cx="945.4" cy="190.1" r="4"/><circle cx="950.6" cy="190" r="4"/><circle cx="957" cy="187.4" r="4"/><circle cx="961.3" cy="188.8" r="4"/><circle cx="967.1" cy="190.5" r="4"/><circle cx="973.6" cy="190.6" r="4"/><circle cx="923.8" cy="195.1" r="4"/><circle cx="928.3" cy="195.5" r="4"/><circle cx="934.5" cy="194.2" r="4"/><circle cx="942.3" cy="194.6" r="4"/><circle cx="945.7" cy="192.7" r="4"/><circle cx="951.6" cy="194.3" r="4"/><circle cx="960.1" cy="195.4" r="4"/><circle cx="963.5" cy="193.4" r="4"/><circle cx="971" cy="192.9" r="4"/><circle cx="921.2" cy="199.3" r="4"/><circle cx="925.7" cy="200.6" r="4"/><circle cx="932.5" cy="197.4" r="4"/><circle cx="936.1" cy="200.7" r="4"/><circle cx="945.6" cy="200.5" r="4"/><circle cx="949.8" cy="198.1" r="4"/><circle cx="953.6" cy="197.9" r="4"/><circle cx="959.9" cy="200.5" r="4"/><circle cx="968.4" cy="199.9" r="4"/><circle cx="971.2" cy="197.8" r="4"/><circle cx="977.6" cy="200.6" r="4"/><circle cx="924" cy="204" r="4"/><circle cx="930.9" cy="202.9" r="4"/><circle cx="935" cy="202.5" r="4"/><circle cx="939.1" cy="202" r="4"/><circle cx="945.8" cy="202.3" r="4"/><circle cx="950.5" cy="205.8" r="4"/><circle cx="957.3" cy="205.4" r="4"/><circle cx="964.7" cy="204.8" r="4"/><circle cx="970.3" cy="205.7" r="4"/><circle cx="977" cy="204.7" r="4"/><circle cx="921.3" cy="209.1" r="4"/><circle cx="926.2" cy="207.5" r="4"/><circle cx="933.4" cy="208.8" r="4"/><circle cx="936.1" cy="207.5" r="4"/><circle cx="945.1" cy="207.9" r="4"/><circle cx="949" cy="209.6" r="4"/><circle cx="956.6" cy="208.2" r="4"/><circle cx="960.5" cy="208.6" r="4"/><circle cx="964.9" cy="210.4" r="4"/><circle cx="970.7" cy="210.7" r="4"/><circle cx="977" cy="207.5" r="4"/><circle cx="922.2" cy="214.1" r="4"/><circle cx="929" cy="214.8" r="4"/><circle cx="933.6" cy="215.2" r="4"/><circle cx="942.7" cy="214.7" r="4"/><circle cx="948.2" cy="215.6" r="4"/><circle cx="951.8" cy="215.3" r="4"/><circle cx="959.4" cy="214.2" r="4"/><circle cx="962.3" cy="214.4" r="4"/><circle cx="971.3" cy="213.1" r="4"/><circle cx="927.6" cy="219.6" r="4"/><circle cx="931.2" cy="220.5" r="4"/><circle cx="938.3" cy="218.3" r="4"/><circle cx="944.9" cy="220.5" r="4"/><circle cx="951" cy="220.4" r="4"/><circle cx="955.8" cy="219.7" r="4"/><circle cx="961.4" cy="219" r="4"/><circle cx="935.7" cy="222.4" r="4"/><circle cx="912.9" cy="128.1" r="4"/><circle cx="917.4" cy="128.2" r="4"/><circle cx="921.9" cy="128.3" r="4"/><circle cx="926.4" cy="128.4" r="4"/><circle cx="930.8" cy="128.5" r="4"/><circle cx="935.3" cy="128.6" r="4"/><circle cx="939.7" cy="128.6" r="4"/><circle cx="944.1" cy="128.6" r="4"/><circle cx="948.5" cy="128.6" r="4"/><circle cx="952.9" cy="128.5" r="4"/><circle cx="957.4" cy="128.5" r="4"/><circle cx="961.8" cy="128.4" r="4"/><circle cx="966.3" cy="128.3" r="4"/><circle cx="966.6" cy="133.8" r="4"/><circle cx="966.9" cy="139.2" r="4"/><circle cx="963.8" cy="147.3" r="4"/><circle cx="963.6" cy="152.2" r="4"/><circle cx="963.4" cy="157.1" r="4"/><circle cx="959.3" cy="161.1" r="4"/><circle cx="954.3" cy="168.1" r="4"/><circle cx="954.5" cy="174.3" r="4"/><circle cx="951" cy="178.4" r="4"/><circle cx="958" cy="178.9" r="4"/><circle cx="963.1" cy="180.9" r="4"/><circle cx="968.1" cy="183.2" r="4"/><circle cx="972.4" cy="189.6" r="4"/><circle cx="968.6" cy="194" r="4"/><circle cx="976.6" cy="196.1" r="4"/><circle cx="978.8" cy="202.8" r="4"/><circle cx="975" cy="205.5" r="4"/><circle cx="969.4" cy="210.2" r="4"/><circle cx="968.6" cy="214" r="4"/><circle cx="962.5" cy="215.2" r="4"/><circle cx="956.4" cy="216.5" r="4"/><circle cx="952.1" cy="217.1" r="4"/><circle cx="947.8" cy="217.7" r="4"/><circle cx="943.4" cy="218.4" r="4"/><circle cx="941.6" cy="223.4" r="4"/><circle cx="936.1" cy="220.5" r="4"/><circle cx="931.9" cy="219.6" r="4"/><circle cx="927.7" cy="218.7" r="4"/><circle cx="924" cy="214.8" r="4"/><circle cx="920.4" cy="210.1" r="4"/><circle cx="920.8" cy="202.3" r="4"/><circle cx="924.1" cy="195.5" r="4"/><circle cx="927.2" cy="191.6" r="4"/><circle cx="930.4" cy="187.8" r="4"/><circle cx="935.8" cy="181.9" r="4"/><circle cx="930.3" cy="181.3" r="4"/><circle cx="924.8" cy="180.5" r="4"/><circle cx="917.7" cy="176.1" r="4"/><circle cx="918.6" cy="171.6" r="4"/><circle cx="919.4" cy="167.1" r="4"/><circle cx="921.9" cy="160.7" r="4"/><circle cx="922.4" cy="153.1" r="4"/><circle cx="918.4" cy="148" r="4"/><circle cx="917.3" cy="143.1" r="4"/><circle cx="920" cy="138.2" r="4"/><circle cx="914.1" cy="134.1" r="4"/><circle cx="835.3" cy="209.3" r="4"/><circle cx="841.8" cy="210.1" r="4"/><circle cx="847.4" cy="210" r="4"/><circle cx="834.9" cy="210.6" r="4"/><circle cx="838.8" cy="208.9" r="4"/><circle cx="842.6" cy="208.3" r="4"/><circle cx="846.1" cy="208.8" r="4"/><circle cx="847.9" cy="210.6" r="4"/><circle cx="845.4" cy="212" r="4"/><circle cx="842.1" cy="210.3" r="4"/><circle cx="838.5" cy="212.1" r="4"/><circle cx="839" cy="223.7" r="4"/><circle cx="843.5" cy="221.4" r="4"/><circle cx="847.4" cy="223.1" r="4"/><circle cx="840.2" cy="228.5" r="4"/><circle cx="845.6" cy="228.6" r="4"/><circle cx="853.2" cy="227.1" r="4"/><circle cx="858.3" cy="228.2" r="4"/><circle cx="844.8" cy="231.5" r="4"/><circle cx="850.6" cy="233.2" r="4"/><circle cx="856.6" cy="231.8" r="4"/><circle cx="837.8" cy="226.7" r="4"/><circle cx="841.5" cy="224.3" r="4"/><circle cx="844.5" cy="221.9" r="4"/><circle cx="850.1" cy="222.5" r="4"/><circle cx="851.1" cy="226.7" r="4"/><circle cx="857" cy="227.6" r="4"/><circle cx="859.1" cy="230.5" r="4"/><circle cx="855.5" cy="232.3" r="4"/><circle cx="850.3" cy="231.7" r="4"/><circle cx="848.8" cy="233.5" r="4"/><circle cx="845.7" cy="233.3" r="4"/><circle cx="843.2" cy="231.2" r="4"/><circle cx="840" cy="229" r="4"/><circle cx="879.6" cy="216.7" r="4"/><circle cx="884.9" cy="217.9" r="4"/><circle cx="888.8" cy="218.4" r="4"/><circle cx="875.8" cy="224.7" r="4"/><circle cx="880.4" cy="222.3" r="4"/><circle cx="888.2" cy="225.2" r="4"/><circle cx="893.8" cy="223" r="4"/><circle cx="901.2" cy="221.6" r="4"/><circle cx="906.5" cy="222.6" r="4"/><circle cx="873.3" cy="222.2" r="4"/><circle cx="877.9" cy="216.6" r="4"/><circle cx="882.2" cy="217.5" r="4"/><circle cx="886.2" cy="218.6" r="4"/><circle cx="890.7" cy="221.5" r="4"/><circle cx="895.7" cy="221.3" r="4"/><circle cx="903.5" cy="222.3" r="4"/><circle cx="906.5" cy="224.7" r="4"/><circle cx="903.6" cy="227" r="4"/><circle cx="895.6" cy="225" r="4"/><circle cx="892.7" cy="226.2" r="4"/><circle cx="889.1" cy="227.7" r="4"/><circle cx="884.3" cy="225.1" r="4"/><circle cx="876.2" cy="226.3" r="4"/><circle cx="912.5" cy="234.3" r="4"/><circle cx="917.9" cy="233.3" r="4"/><circle cx="923.5" cy="231.5" r="4"/><circle cx="933" cy="231.3" r="4"/><circle cx="937.4" cy="232.3" r="4"/><circle cx="916.3" cy="237.5" r="4"/><circle cx="921.1" cy="238.8" r="4"/><circle cx="926.5" cy="236.5" r="4"/><circle cx="932" cy="236.6" r="4"/><circle cx="939.3" cy="239.1" r="4"/><circle cx="913.7" cy="232.7" r="4"/><circle cx="917.4" cy="230.5" r="4"/><circle cx="924.2" cy="233.1" r="4"/><circle cx="926.6" cy="234.7" r="4"/><circle cx="928.5" cy="233.3" r="4"/><circle cx="935.9" cy="232.8" r="4"/><circle cx="939.8" cy="235" r="4"/><circle cx="937.9" cy="238.1" r="4"/><circle cx="933.2" cy="238.4" r="4"/><circle cx="929.2" cy="238.3" r="4"/><circle cx="926.5" cy="237.6" r="4"/><circle cx="923.5" cy="238.5" r="4"/><circle cx="920.5" cy="237.3" r="4"/><circle cx="916.7" cy="235.8" r="4"/><circle cx="821.6" cy="240.1" r="4"/><circle cx="826.1" cy="242.1" r="4"/><circle cx="831.3" cy="240.6" r="4"/><circle cx="840.7" cy="238.9" r="4"/><circle cx="845.1" cy="241.1" r="4"/><circle cx="821.8" cy="240.2" r="4"/><circle cx="826.7" cy="238" r="4"/><circle cx="831.9" cy="239.6" r="4"/><circle cx="835.7" cy="240.8" r="4"/><circle cx="835.8" cy="239.6" r="4"/><circle cx="839.6" cy="238.4" r="4"/><circle cx="844" cy="238" r="4"/><circle cx="847.9" cy="240.2" r="4"/><circle cx="844" cy="242.3" r="4"/><circle cx="839.6" cy="241.9" r="4"/><circle cx="835.8" cy="240.7" r="4"/><circle cx="835" cy="240.4" r="4"/><circle cx="831.4" cy="242.2" r="4"/><circle cx="826.6" cy="243" r="4"/><circle cx="888.4" cy="240.4" r="4"/><circle cx="895.2" cy="242.9" r="4"/><circle cx="900.3" cy="240.2" r="4"/><circle cx="882.3" cy="244.3" r="4"/><circle cx="889.5" cy="240.7" r="4"/><circle cx="894.2" cy="240.7" r="4"/><circle cx="896.2" cy="241.7" r="4"/><circle cx="900.6" cy="240.2" r="4"/><circle cx="903.5" cy="242" r="4"/><circle cx="901.7" cy="243.7" r="4"/><circle cx="897.2" cy="242.6" r="4"/><circle cx="896.1" cy="241.7" r="4"/><circle cx="892.5" cy="243.4" r="4"/><circle cx="887.5" cy="244" r="4"/><circle cx="950.8" cy="225.7" r="4"/><circle cx="958.5" cy="225.4" r="4"/><circle cx="951.1" cy="225.5" r="4"/><circle cx="954.9" cy="225.3" r="4"/><circle cx="956.3" cy="225.5" r="4"/><circle cx="958" cy="226.4" r="4"/><circle cx="955.4" cy="226.2" r="4"/><circle cx="954.3" cy="226.7" r="4"/><circle cx="843.8" cy="249.2" r="4"/><circle cx="850.4" cy="247.2" r="4"/><circle cx="844" cy="249.8" r="4"/><circle cx="847.1" cy="248.5" r="4"/><circle cx="849.3" cy="247.9" r="4"/><circle cx="852" cy="249.3" r="4"/><circle cx="849.7" cy="250.8" r="4"/><circle cx="847" cy="250.6" r="4"/><circle cx="887.8" cy="244.9" r="4"/><circle cx="891.6" cy="242.4" r="4"/><circle cx="897.3" cy="242.4" r="4"/><circle cx="885.1" cy="247" r="4"/><circle cx="890.1" cy="247.4" r="4"/><circle cx="895" cy="248.2" r="4"/><circle cx="903" cy="249" r="4"/><circle cx="885.7" cy="255" r="4"/><circle cx="894.1" cy="254.8" r="4"/><circle cx="900" cy="254.5" r="4"/><circle cx="881.3" cy="247.1" r="4"/><circle cx="886.2" cy="244.6" r="4"/><circle cx="891" cy="243.6" r="4"/><circle cx="894.6" cy="243.5" r="4"/><circle cx="899" cy="243.1" r="4"/><circle cx="904" cy="242.8" r="4"/><circle cx="903.7" cy="246.2" r="4"/><circle cx="899.4" cy="250.1" r="4"/><circle cx="897.7" cy="252.7" r="4"/><circle cx="894.2" cy="255.1" r="4"/><circle cx="889.6" cy="257.7" r="4"/><circle cx="883.5" cy="256.8" r="4"/><circle cx="883.2" cy="252.9" r="4"/><circle cx="882.4" cy="250.1" r="4"/><circle cx="839.3" cy="259.5" r="4"/><circle cx="847.3" cy="260.5" r="4"/><circle cx="842.9" cy="262.7" r="4"/><circle cx="850.5" cy="264.4" r="4"/><circle cx="841" cy="261.4" r="4"/><circle cx="844.3" cy="259.3" r="4"/><circle cx="847.1" cy="258.5" r="4"/><circle cx="850.1" cy="260.3" r="4"/><circle cx="851" cy="263.2" r="4"/><circle cx="847.5" cy="264.3" r="4"/><circle cx="844.6" cy="263.4" r="4"/><circle cx="841.8" cy="263.1" r="4"/><circle cx="824.6" cy="266.8" r="4"/><circle cx="829.4" cy="267.4" r="4"/><circle cx="836.2" cy="266.9" r="4"/><circle cx="841.6" cy="269.5" r="4"/><circle cx="847.3" cy="270.8" r="4"/><circle cx="826.4" cy="272.9" r="4"/><circle cx="830.5" cy="272.7" r="4"/><circle cx="838.6" cy="275.3" r="4"/><circle cx="844.2" cy="272.7" r="4"/><circle cx="850.5" cy="273.9" r="4"/><circle cx="828.2" cy="277.2" r="4"/><circle cx="834.6" cy="278.3" r="4"/><circle cx="840.4" cy="280.6" r="4"/><circle cx="846.5" cy="278.5" r="4"/><circle cx="822.7" cy="271.1" r="4"/><circle cx="827.2" cy="268.2" r="4"/><circle cx="831.7" cy="268.5" r="4"/><circle cx="835.4" cy="268.7" r="4"/><circle cx="838.7" cy="271.5" r="4"/><circle cx="843.5" cy="270.3" r="4"/><circle cx="851" cy="271.1" r="4"/><circle cx="853" cy="274.3" r="4"/><circle cx="848.2" cy="279" r="4"/><circle cx="843.8" cy="280.1" r="4"/><circle cx="838.9" cy="278.1" r="4"/><circle cx="835.8" cy="277.1" r="4"/><circle cx="831.2" cy="278.8" r="4"/><circle cx="825.7" cy="277.5" r="4"/><circle cx="823.8" cy="274.3" r="4"/><circle cx="911" cy="263.6" r="4"/><circle cx="917.1" cy="263.5" r="4"/><circle cx="922.8" cy="264.3" r="4"/><circle cx="928" cy="264.2" r="4"/><circle cx="911.7" cy="264.7" r="4"/><circle cx="915.3" cy="262.9" r="4"/><circle cx="919.1" cy="263.6" r="4"/><circle cx="921.3" cy="264.1" r="4"/><circle cx="924" cy="262.9" r="4"/><circle cx="929.7" cy="264.8" r="4"/><circle cx="931.8" cy="267" r="4"/><circle cx="926.3" cy="269.4" r="4"/><circle cx="921.7" cy="267.8" r="4"/><circle cx="918.7" cy="268.7" r="4"/><circle cx="912.6" cy="268.4" r="4"/><circle cx="910.7" cy="280.1" r="4"/><circle cx="923.3" cy="279.7" r="4"/><circle cx="931.9" cy="278.4" r="4"/><circle cx="945.4" cy="278.2" r="4"/><circle cx="952.6" cy="280.7" r="4"/><circle cx="956.6" cy="280.9" r="4"/><circle cx="961" cy="280.2" r="4"/><circle cx="915" cy="282.5" r="4"/><circle cx="920.1" cy="284.2" r="4"/><circle cx="926.9" cy="282.8" r="4"/><circle cx="931.1" cy="285.5" r="4"/><circle cx="937.3" cy="283.2" r="4"/><circle cx="940.8" cy="285.7" r="4"/><circle cx="948.2" cy="285.9" r="4"/><circle cx="952.7" cy="285.2" r="4"/><circle cx="961.2" cy="285.6" r="4"/><circle cx="963.8" cy="283.4" r="4"/><circle cx="908.8" cy="290" r="4"/><circle cx="915.8" cy="290.8" r="4"/><circle cx="921.7" cy="290" r="4"/><circle cx="929.5" cy="287.9" r="4"/><circle cx="934" cy="290.8" r="4"/><circle cx="939.7" cy="288.4" r="4"/><circle cx="944.5" cy="290.1" r="4"/><circle cx="950" cy="289.4" r="4"/><circle cx="957.2" cy="289.2" r="4"/><circle cx="961.3" cy="289.6" r="4"/><circle cx="910.6" cy="279.4" r="4"/><circle cx="913.4" cy="276.8" r="4"/><circle cx="918.6" cy="280.6" r="4"/><circle cx="923" cy="280.8" r="4"/><circle cx="927.3" cy="281.3" r="4"/><circle cx="933.4" cy="280.8" r="4"/><circle cx="936" cy="283.7" r="4"/><circle cx="940.4" cy="282.4" r="4"/><circle cx="942.7" cy="279.7" r="4"/><circle cx="948.4" cy="278.6" r="4"/><circle cx="954.3" cy="277.8" r="4"/><circle cx="962.2" cy="278.4" r="4"/><circle cx="964.6" cy="282.4" r="4"/><circle cx="967.1" cy="286.5" r="4"/><circle cx="965.2" cy="292.7" r="4"/><circle cx="961.2" cy="295.4" r="4"/><circle cx="956.7" cy="294.3" r="4"/><circle cx="952.3" cy="293.1" r="4"/><circle cx="946.5" cy="293.6" r="4"/><circle cx="941.1" cy="293.8" r="4"/><circle cx="936.4" cy="291" r="4"/><circle cx="931.3" cy="291.5" r="4"/><circle cx="924.4" cy="291.8" r="4"/><circle cx="916.4" cy="294.2" r="4"/><circle cx="910.6" cy="292.6" r="4"/><circle cx="912.7" cy="288.2" r="4"/><circle cx="914.7" cy="284.7" r="4"/><circle cx="831.9" cy="295.8" r="4"/><circle cx="836.9" cy="295" r="4"/><circle cx="844.4" cy="295.3" r="4"/><circle cx="850.1" cy="297.1" r="4"/><circle cx="819" cy="302.8" r="4"/><circle cx="822.2" cy="300" r="4"/><circle cx="830" cy="301.3" r="4"/><circle cx="833.7" cy="301.7" r="4"/><circle cx="842.2" cy="302.4" r="4"/><circle cx="845.4" cy="300.2" r="4"/><circle cx="850.3" cy="302.9" r="4"/><circle cx="813.5" cy="307" r="4"/><circle cx="820.6" cy="306.4" r="4"/><circle cx="826.3" cy="307.3" r="4"/><circle cx="832.4" cy="305.3" r="4"/><circle cx="836.3" cy="306" r="4"/><circle cx="845.3" cy="304.6" r="4"/><circle cx="850.1" cy="306.6" r="4"/><circle cx="814.7" cy="302.7" r="4"/><circle cx="818.7" cy="300.3" r="4"/><circle cx="823.7" cy="300.1" r="4"/><circle cx="828.5" cy="300.3" r="4"/><circle cx="830.2" cy="296.5" r="4"/><circle cx="834.4" cy="296.1" r="4"/><circle cx="840.2" cy="296.3" r="4"/><circle cx="847.4" cy="296.3" r="4"/><circle cx="851" cy="299.5" r="4"/><circle cx="847.9" cy="303.6" r="4"/><circle cx="852.1" cy="307" r="4"/><circle cx="849.2" cy="310.2" r="4"/><circle cx="845.4" cy="309.9" r="4"/><circle cx="841" cy="305.6" r="4"/><circle cx="835.5" cy="304" r="4"/><circle cx="834.9" cy="303.2" r="4"/><circle cx="830.5" cy="308.9" r="4"/><circle cx="826.2" cy="308.8" r="4"/><circle cx="818.5" cy="310.3" r="4"/><circle cx="814.6" cy="307.1" r="4"/><circle cx="874.3" cy="353.6" r="4"/><circle cx="885.3" cy="350.6" r="4"/><circle cx="891.4" cy="350.7" r="4"/><circle cx="896.3" cy="350.9" r="4"/><circle cx="865.2" cy="356.9" r="4"/><circle cx="870.6" cy="354.9" r="4"/><circle cx="876.4" cy="356.8" r="4"/><circle cx="883" cy="357.6" r="4"/><circle cx="890.4" cy="356.3" r="4"/><circle cx="893.4" cy="357.5" r="4"/><circle cx="901.8" cy="356.2" r="4"/><circle cx="863.2" cy="356.7" r="4"/><circle cx="868.2" cy="353.2" r="4"/><circle cx="874.3" cy="352.5" r="4"/><circle cx="878.8" cy="352.7" r="4"/><circle cx="883.2" cy="353.2" r="4"/><circle cx="884.9" cy="353.1" r="4"/><circle cx="890.8" cy="349.9" r="4"/><circle cx="896.6" cy="349.3" r="4"/><circle cx="899.4" cy="352.4" r="4"/><circle cx="902.5" cy="356.6" r="4"/><circle cx="901.7" cy="358.9" r="4"/><circle cx="897.2" cy="358.7" r="4"/><circle cx="892.8" cy="358.3" r="4"/><circle cx="888.8" cy="357.6" r="4"/><circle cx="885.6" cy="356.6" r="4"/><circle cx="883.5" cy="356.6" r="4"/><circle cx="880.4" cy="357.5" r="4"/><circle cx="876.4" cy="358.2" r="4"/><circle cx="872" cy="358.7" r="4"/><circle cx="867.6" cy="358.9" r="4"/><circle cx="863.1" cy="359.1" r="4"/><circle cx="711.8" cy="310.3" r="4"/><circle cx="716.3" cy="307.5" r="4"/><circle cx="721.4" cy="310.8" r="4"/><circle cx="714.7" cy="313.2" r="4"/><circle cx="718.6" cy="314.3" r="4"/><circle cx="725.9" cy="313.8" r="4"/><circle cx="709.3" cy="319.6" r="4"/><circle cx="714.7" cy="317.3" r="4"/><circle cx="719.9" cy="319.7" r="4"/><circle cx="711.6" cy="324.5" r="4"/><circle cx="719.3" cy="323.7" r="4"/><circle cx="705.9" cy="329.7" r="4"/><circle cx="712.2" cy="329.2" r="4"/><circle cx="715.4" cy="327.4" r="4"/><circle cx="722.2" cy="329" r="4"/><circle cx="702.9" cy="332.4" r="4"/><circle cx="708.8" cy="331.9" r="4"/><circle cx="713.7" cy="333.2" r="4"/><circle cx="719.8" cy="335.7" r="4"/><circle cx="724.8" cy="335" r="4"/><circle cx="703.7" cy="337.2" r="4"/><circle cx="711.2" cy="337.3" r="4"/><circle cx="715" cy="337.3" r="4"/><circle cx="722.4" cy="338.1" r="4"/><circle cx="700.4" cy="344" r="4"/><circle cx="705.3" cy="342.1" r="4"/><circle cx="713.8" cy="344.1" r="4"/><circle cx="717.4" cy="343.2" r="4"/><circle cx="723.2" cy="343.1" r="4"/><circle cx="692.4" cy="347.9" r="4"/><circle cx="697.4" cy="347.9" r="4"/><circle cx="703.6" cy="349.2" r="4"/><circle cx="711.7" cy="349.6" r="4"/><circle cx="715.8" cy="347" r="4"/><circle cx="720.6" cy="349.5" r="4"/><circle cx="709.8" cy="308.9" r="4"/><circle cx="716.9" cy="309.8" r="4"/><circle cx="722" cy="313.5" r="4"/><circle cx="725.9" cy="316.1" r="4"/><circle cx="723.3" cy="321" r="4"/><circle cx="720.1" cy="325" r="4"/><circle cx="720.3" cy="329.9" r="4"/><circle cx="722.2" cy="335.8" r="4"/><circle cx="723.7" cy="340.7" r="4"/><circle cx="723.5" cy="347.9" r="4"/><circle cx="721.9" cy="351.5" r="4"/><circle cx="715.9" cy="352.3" r="4"/><circle cx="711.6" cy="351.7" r="4"/><circle cx="707.4" cy="351.2" r="4"/><circle cx="701.2" cy="352.2" r="4"/><circle cx="693.8" cy="352.1" r="4"/><circle cx="692.2" cy="347.6" r="4"/><circle cx="697.2" cy="343.6" r="4"/><circle cx="700.6" cy="339" r="4"/><circle cx="702.9" cy="335.7" r="4"/><circle cx="706.8" cy="331.6" r="4"/><circle cx="709.1" cy="327.6" r="4"/><circle cx="710.1" cy="322" r="4"/><circle cx="709" cy="313.9" r="4"/><circle cx="679.4" cy="333.8" r="4"/><circle cx="680.7" cy="333.3" r="4"/><circle cx="680.9" cy="333" r="4"/><circle cx="681.5" cy="332.9" r="4"/><circle cx="682" cy="333.8" r="4"/><circle cx="681" cy="333.5" r="4"/><circle cx="680.7" cy="333.6" r="4"/><circle cx="698.7" cy="425.2" r="4"/><circle cx="705.5" cy="424.7" r="4"/><circle cx="715.9" cy="427.5" r="4"/><circle cx="690.9" cy="431.2" r="4"/><circle cx="694.4" cy="429.6" r="4"/><circle cx="702.4" cy="431.2" r="4"/><circle cx="708.6" cy="431.9" r="4"/><circle cx="714.4" cy="431.1" r="4"/><circle cx="719.2" cy="431.3" r="4"/><circle cx="694.1" cy="436.4" r="4"/><circle cx="696.7" cy="437.1" r="4"/><circle cx="704.6" cy="434.6" r="4"/><circle cx="707.9" cy="436" r="4"/><circle cx="713.6" cy="437.5" r="4"/><circle cx="691.1" cy="440.1" r="4"/><circle cx="694.7" cy="441.2" r="4"/><circle cx="700.2" cy="441.3" r="4"/><circle cx="707" cy="440.6" r="4"/><circle cx="713.3" cy="441" r="4"/><circle cx="716.8" cy="442.9" r="4"/><circle cx="694.1" cy="445.9" r="4"/><circle cx="697.7" cy="444.3" r="4"/><circle cx="705.5" cy="444.6" r="4"/><circle cx="709.9" cy="445.3" r="4"/><circle cx="714.8" cy="445.3" r="4"/><circle cx="720.1" cy="444" r="4"/><circle cx="690" cy="449.7" r="4"/><circle cx="696" cy="449.1" r="4"/><circle cx="700.6" cy="452.2" r="4"/><circle cx="708.5" cy="450.8" r="4"/><circle cx="714" cy="450.9" r="4"/><circle cx="718.5" cy="451.3" r="4"/><circle cx="682.7" cy="456.9" r="4"/><circle cx="686.4" cy="456.8" r="4"/><circle cx="692.9" cy="455.4" r="4"/><circle cx="699.2" cy="457.2" r="4"/><circle cx="704.3" cy="457.7" r="4"/><circle cx="707.8" cy="455.9" r="4"/><circle cx="716" cy="455.3" r="4"/><circle cx="720" cy="456.7" r="4"/><circle cx="683.3" cy="460" r="4"/><circle cx="694.6" cy="459.4" r="4"/><circle cx="699.9" cy="460" r="4"/><circle cx="708.3" cy="459.7" r="4"/><circle cx="711.7" cy="459.3" r="4"/><circle cx="718.3" cy="459.8" r="4"/><circle cx="688.2" cy="467.3" r="4"/><circle cx="690.5" cy="465.5" r="4"/><circle cx="699.5" cy="464.1" r="4"/><circle cx="702.7" cy="465.9" r="4"/><circle cx="709.2" cy="467" r="4"/><circle cx="716.4" cy="465.8" r="4"/><circle cx="720.3" cy="464.9" r="4"/><circle cx="682.7" cy="469.3" r="4"/><circle cx="690.1" cy="469.6" r="4"/><circle cx="696.8" cy="471.6" r="4"/><circle cx="699.2" cy="471" r="4"/><circle cx="707.2" cy="469.2" r="4"/><circle cx="712.5" cy="469.1" r="4"/><circle cx="719.5" cy="469" r="4"/><circle cx="687.9" cy="475" r="4"/><circle cx="692.4" cy="474.6" r="4"/><circle cx="697.5" cy="477.5" r="4"/><circle cx="705.2" cy="474.1" r="4"/><circle cx="709.2" cy="476.6" r="4"/><circle cx="714.2" cy="477.2" r="4"/><circle cx="690" cy="430.6" r="4"/><circle cx="692.5" cy="427.7" r="4"/><circle cx="699.6" cy="426.4" r="4"/><circle cx="704.9" cy="425.8" r="4"/><circle cx="710.1" cy="428.7" r="4"/><circle cx="715.7" cy="426.8" r="4"/><circle cx="719.2" cy="430.1" r="4"/><circle cx="717.9" cy="434.8" r="4"/><circle cx="716.6" cy="439.5" r="4"/><circle cx="718.2" cy="443.8" r="4"/><circle cx="720" cy="448.9" r="4"/><circle cx="721.1" cy="454" r="4"/><circle cx="718.4" cy="459.1" r="4"/><circle cx="717.8" cy="463.6" r="4"/><circle cx="719" cy="468.3" r="4"/><circle cx="719.3" cy="472.6" r="4"/><circle cx="719.5" cy="477.1" r="4"/><circle cx="715.3" cy="476.8" r="4"/><circle cx="711.1" cy="476.6" r="4"/><circle cx="706.9" cy="476.5" r="4"/><circle cx="702.8" cy="476.4" r="4"/><circle cx="698.8" cy="476.4" r="4"/><circle cx="694.7" cy="476.5" r="4"/><circle cx="690.6" cy="476.6" r="4"/><circle cx="689.8" cy="473.6" r="4"/><circle cx="685.8" cy="471.9" r="4"/><circle cx="681.7" cy="470.2" r="4"/><circle cx="680.9" cy="467.4" r="4"/><circle cx="687.8" cy="464.2" r="4"/><circle cx="692.4" cy="461.8" r="4"/><circle cx="691.7" cy="460" r="4"/><circle cx="687.2" cy="460.1" r="4"/><circle cx="682.4" cy="460" r="4"/><circle cx="680.6" cy="457.5" r="4"/><circle cx="683.7" cy="454.8" r="4"/><circle cx="691.7" cy="453.4" r="4"/><circle cx="692.2" cy="447.7" r="4"/><circle cx="690.9" cy="441" r="4"/><circle cx="690.4" cy="435.4" r="4"/><circle cx="681.4" cy="436.7" r="4"/><circle cx="684.2" cy="438.3" r="4"/><circle cx="680.5" cy="439.1" r="4"/><circle cx="683" cy="439.8" r="4"/><circle cx="680.7" cy="436.7" r="4"/><circle cx="682.4" cy="434.9" r="4"/><circle cx="684.6" cy="435.8" r="4"/><circle cx="683.7" cy="438.6" r="4"/><circle cx="682.7" cy="441.2" r="4"/><circle cx="680.3" cy="442.2" r="4"/><circle cx="679.1" cy="440.4" r="4"/><circle cx="685.2" cy="480.5" r="4"/><circle cx="691.1" cy="479.2" r="4"/><circle cx="696.5" cy="479.5" r="4"/><circle cx="702.5" cy="479.3" r="4"/><circle cx="710.6" cy="479.6" r="4"/><circle cx="715.3" cy="480" r="4"/><circle cx="685.6" cy="482" r="4"/><circle cx="689.5" cy="485.4" r="4"/><circle cx="696.2" cy="483.3" r="4"/><circle cx="700.2" cy="485.3" r="4"/><circle cx="705.1" cy="484.6" r="4"/><circle cx="714" cy="482.2" r="4"/><circle cx="717.7" cy="482.7" r="4"/><circle cx="688.1" cy="490.2" r="4"/><circle cx="691.6" cy="490.1" r="4"/><circle cx="696.4" cy="486.9" r="4"/><circle cx="704.6" cy="489.7" r="4"/><circle cx="711" cy="490.5" r="4"/><circle cx="716.9" cy="487.6" r="4"/><circle cx="684.6" cy="495.3" r="4"/><circle cx="687.8" cy="493.5" r="4"/><circle cx="693.8" cy="492.1" r="4"/><circle cx="700.9" cy="494.2" r="4"/><circle cx="708.7" cy="492.1" r="4"/><circle cx="712.6" cy="495.6" r="4"/><circle cx="719.5" cy="493.7" r="4"/><circle cx="679.7" cy="499.1" r="4"/><circle cx="685.5" cy="499.2" r="4"/><circle cx="692.9" cy="498.2" r="4"/><circle cx="699.3" cy="498.2" r="4"/><circle cx="703.8" cy="499.9" r="4"/><circle cx="708.7" cy="497.3" r="4"/><circle cx="715.8" cy="498.3" r="4"/><circle cx="685.1" cy="502.6" r="4"/><circle cx="688.9" cy="501.8" r="4"/><circle cx="695" cy="502.9" r="4"/><circle cx="700.8" cy="504.7" r="4"/><circle cx="704.9" cy="505.6" r="4"/><circle cx="713.4" cy="504.9" r="4"/><circle cx="718.6" cy="503.9" r="4"/><circle cx="680.3" cy="508.2" r="4"/><circle cx="685.4" cy="507.8" r="4"/><circle cx="691.5" cy="508" r="4"/><circle cx="699.7" cy="509.8" r="4"/><circle cx="704.5" cy="506.7" r="4"/><circle cx="708.7" cy="508.8" r="4"/><circle cx="716.3" cy="508.3" r="4"/><circle cx="684.1" cy="515.3" r="4"/><circle cx="688.5" cy="513.2" r="4"/><circle cx="696.2" cy="512.9" r="4"/><circle cx="701.9" cy="513.2" r="4"/><circle cx="704.9" cy="513.5" r="4"/><circle cx="710.9" cy="514.8" r="4"/><circle cx="682.3" cy="517.5" r="4"/><circle cx="686.3" cy="517.4" r="4"/><circle cx="690.5" cy="520" r="4"/><circle cx="696.3" cy="520.4" r="4"/><circle cx="704.1" cy="519.5" r="4"/><circle cx="707.9" cy="520.3" r="4"/><circle cx="716.7" cy="517.1" r="4"/><circle cx="682.3" cy="522.3" r="4"/><circle cx="689.4" cy="522" r="4"/><circle cx="696.4" cy="523.7" r="4"/><circle cx="701.8" cy="522.7" r="4"/><circle cx="707.4" cy="523.5" r="4"/><circle cx="713.2" cy="523.3" r="4"/><circle cx="720.4" cy="525.1" r="4"/><circle cx="682" cy="528.1" r="4"/><circle cx="685.3" cy="527.3" r="4"/><circle cx="690.8" cy="530.6" r="4"/><circle cx="697.2" cy="530.2" r="4"/><circle cx="702.8" cy="529.2" r="4"/><circle cx="708.7" cy="528" r="4"/><circle cx="716.5" cy="529.2" r="4"/><circle cx="685.4" cy="532.7" r="4"/><circle cx="688.5" cy="532" r="4"/><circle cx="694.1" cy="535.7" r="4"/><circle cx="701.3" cy="533.7" r="4"/><circle cx="706.2" cy="534.8" r="4"/><circle cx="713.4" cy="532.4" r="4"/><circle cx="716.6" cy="532.4" r="4"/><circle cx="682" cy="539.7" r="4"/><circle cx="685.4" cy="537.7" r="4"/><circle cx="691.5" cy="539.5" r="4"/><circle cx="699.1" cy="537.7" r="4"/><circle cx="703.2" cy="537.7" r="4"/><circle cx="711.5" cy="539" r="4"/><circle cx="684.1" cy="544.1" r="4"/><circle cx="691.1" cy="543.3" r="4"/><circle cx="694.1" cy="545.1" r="4"/><circle cx="702.8" cy="543.8" r="4"/><circle cx="706.1" cy="542.1" r="4"/><circle cx="712.4" cy="545.5" r="4"/><circle cx="681" cy="547.8" r="4"/><circle cx="684.9" cy="548.9" r="4"/><circle cx="694.2" cy="550.3" r="4"/><circle cx="697.3" cy="550" r="4"/><circle cx="705.2" cy="549.2" r="4"/><circle cx="709.1" cy="547.6" r="4"/><circle cx="682.7" cy="478.3" r="4"/><circle cx="687.4" cy="478.4" r="4"/><circle cx="692.1" cy="478.5" r="4"/><circle cx="696.7" cy="478.6" r="4"/><circle cx="701.3" cy="478.6" r="4"/><circle cx="705.9" cy="478.6" r="4"/><circle cx="710.6" cy="478.5" r="4"/><circle cx="715.3" cy="478.4" r="4"/><circle cx="720" cy="478.2" r="4"/><circle cx="720.7" cy="483.1" r="4"/><circle cx="721.5" cy="488" r="4"/><circle cx="720.2" cy="494.9" r="4"/><circle cx="720.7" cy="502.4" r="4"/><circle cx="717.5" cy="506.2" r="4"/><circle cx="713.4" cy="509.9" r="4"/><circle cx="710" cy="514.3" r="4"/><circle cx="716" cy="515.6" r="4"/><circle cx="720" cy="518.1" r="4"/><circle cx="718.2" cy="522.4" r="4"/><circle cx="717.7" cy="529.4" r="4"/><circle cx="714.3" cy="532.9" r="4"/><circle cx="712.7" cy="537.6" r="4"/><circle cx="715.8" cy="542.6" r="4"/><circle cx="714.1" cy="546.4" r="4"/><circle cx="709.5" cy="546.3" r="4"/><circle cx="705" cy="546.1" r="4"/><circle cx="699.5" cy="548.2" r="4"/><circle cx="695.4" cy="548.7" r="4"/><circle cx="691.3" cy="549.3" r="4"/><circle cx="687.2" cy="547.4" r="4"/><circle cx="683.1" cy="545.6" r="4"/><circle cx="681.4" cy="541.8" r="4"/><circle cx="683.5" cy="536.8" r="4"/><circle cx="682.1" cy="529.5" r="4"/><circle cx="681.6" cy="522.4" r="4"/><circle cx="683.8" cy="518.1" r="4"/><circle cx="681.8" cy="513.9" r="4"/><circle cx="682.4" cy="507" r="4"/><circle cx="680" cy="499.5" r="4"/><circle cx="683.4" cy="495" r="4"/><circle cx="686.5" cy="491.8" r="4"/><circle cx="689.6" cy="488.5" r="4"/><circle cx="683" cy="486.2" r="4"/><circle cx="683.8" cy="482.2" r="4"/><circle cx="689.3" cy="558" r="4"/><circle cx="697" cy="555.2" r="4"/><circle cx="702.9" cy="556.8" r="4"/><circle cx="690.9" cy="563.1" r="4"/><circle cx="697.5" cy="560.5" r="4"/><circle cx="704" cy="561.7" r="4"/><circle cx="689.9" cy="558.2" r="4"/><circle cx="693.3" cy="556.8" r="4"/><circle cx="696.1" cy="557.2" r="4"/><circle cx="698" cy="556.1" r="4"/><circle cx="702.1" cy="557" r="4"/><circle cx="704.9" cy="559.5" r="4"/><circle cx="701.4" cy="561.9" r="4"/><circle cx="697.3" cy="560.9" r="4"/><circle cx="694.5" cy="562" r="4"/><circle cx="690.7" cy="560.8" r="4"/><circle cx="882.8" cy="352.2" r="4"/><circle cx="891.5" cy="353.6" r="4"/><circle cx="895.4" cy="353.1" r="4"/><circle cx="899.8" cy="353.7" r="4"/><circle cx="865.8" cy="356.4" r="4"/><circle cx="869.5" cy="356.9" r="4"/><circle cx="873.8" cy="355.1" r="4"/><circle cx="881.6" cy="357.7" r="4"/><circle cx="885.4" cy="356.4" r="4"/><circle cx="892.5" cy="357.9" r="4"/><circle cx="900.8" cy="355.2" r="4"/><circle cx="868.6" cy="362.6" r="4"/><circle cx="872.1" cy="361.7" r="4"/><circle cx="878.1" cy="360" r="4"/><circle cx="882.5" cy="362.1" r="4"/><circle cx="890.2" cy="363.7" r="4"/><circle cx="896.4" cy="363.1" r="4"/><circle cx="901.6" cy="362.2" r="4"/><circle cx="869.8" cy="368.6" r="4"/><circle cx="876.2" cy="367.1" r="4"/><circle cx="881" cy="365.3" r="4"/><circle cx="889.1" cy="366.6" r="4"/><circle cx="892.2" cy="365.5" r="4"/><circle cx="899.2" cy="368.8" r="4"/><circle cx="904.2" cy="368.1" r="4"/><circle cx="868.6" cy="372.7" r="4"/><circle cx="871.1" cy="370.7" r="4"/><circle cx="879.5" cy="370.5" r="4"/><circle cx="885.2" cy="370" r="4"/><circle cx="890.6" cy="372.6" r="4"/><circle cx="896.1" cy="373.1" r="4"/><circle cx="903.5" cy="373.8" r="4"/><circle cx="905.7" cy="371.8" r="4"/><circle cx="863" cy="378" r="4"/><circle cx="868.9" cy="377.5" r="4"/><circle cx="877.5" cy="377.2" r="4"/><circle cx="881.3" cy="375.1" r="4"/><circle cx="886.2" cy="378.7" r="4"/><circle cx="891.2" cy="375.1" r="4"/><circle cx="899.2" cy="376.1" r="4"/><circle cx="905" cy="375.8" r="4"/><circle cx="868.5" cy="383.9" r="4"/><circle cx="873.7" cy="383.7" r="4"/><circle cx="879.7" cy="380.2" r="4"/><circle cx="883.8" cy="382.5" r="4"/><circle cx="890.9" cy="383" r="4"/><circle cx="896.7" cy="380.4" r="4"/><circle cx="901.3" cy="383.7" r="4"/><circle cx="865.7" cy="387.6" r="4"/><circle cx="869.2" cy="385.5" r="4"/><circle cx="875.6" cy="385.2" r="4"/><circle cx="882.5" cy="386.8" r="4"/><circle cx="887" cy="386.2" r="4"/><circle cx="893.8" cy="386.7" r="4"/><circle cx="898.6" cy="385.8" r="4"/><circle cx="902.9" cy="385.3" r="4"/><circle cx="860.9" cy="393.9" r="4"/><circle cx="866.9" cy="391.1" r="4"/><circle cx="873.4" cy="393.8" r="4"/><circle cx="879" cy="393.7" r="4"/><circle cx="884.5" cy="391.2" r="4"/><circle cx="890.7" cy="390.3" r="4"/><circle cx="897.8" cy="392" r="4"/><circle cx="899.8" cy="391.2" r="4"/><circle cx="862.1" cy="398.4" r="4"/><circle cx="869.3" cy="398" r="4"/><circle cx="875" cy="396.5" r="4"/><circle cx="881.8" cy="397.1" r="4"/><circle cx="888.9" cy="397.4" r="4"/><circle cx="892.4" cy="397.2" r="4"/><circle cx="899.8" cy="398" r="4"/><circle cx="902.7" cy="397.1" r="4"/><circle cx="866.7" cy="400.7" r="4"/><circle cx="873.2" cy="400.6" r="4"/><circle cx="877.1" cy="403.8" r="4"/><circle cx="882.4" cy="401.4" r="4"/><circle cx="890.1" cy="400.4" r="4"/><circle cx="895.3" cy="403.6" r="4"/><circle cx="863.2" cy="408.9" r="4"/><circle cx="868" cy="406.5" r="4"/><circle cx="877.5" cy="406.1" r="4"/><circle cx="882.1" cy="408.5" r="4"/><circle cx="886.1" cy="405.9" r="4"/><circle cx="893.7" cy="405.3" r="4"/><circle cx="899.2" cy="408.6" r="4"/><circle cx="843.8" cy="411.8" r="4"/><circle cx="848.2" cy="413.4" r="4"/><circle cx="856" cy="410.2" r="4"/><circle cx="859.9" cy="410.2" r="4"/><circle cx="867.1" cy="412.9" r="4"/><circle cx="872.1" cy="410.8" r="4"/><circle cx="878.1" cy="412.5" r="4"/><circle cx="882.5" cy="410.4" r="4"/><circle cx="896.2" cy="410.4" r="4"/><circle cx="828.2" cy="418.9" r="4"/><circle cx="842.8" cy="416.9" r="4"/><circle cx="845.9" cy="416.2" r="4"/><circle cx="851" cy="418.4" r="4"/><circle cx="860" cy="417.5" r="4"/><circle cx="864.5" cy="415.5" r="4"/><circle cx="868.1" cy="416.6" r="4"/><circle cx="873.8" cy="417.9" r="4"/><circle cx="825.2" cy="421.3" r="4"/><circle cx="830.5" cy="423.5" r="4"/><circle cx="839.4" cy="423.5" r="4"/><circle cx="845.3" cy="420.2" r="4"/><circle cx="847.9" cy="421.3" r="4"/><circle cx="853.9" cy="422.8" r="4"/><circle cx="861.5" cy="421.5" r="4"/><circle cx="868.9" cy="420.2" r="4"/><circle cx="871.5" cy="420.8" r="4"/><circle cx="827.6" cy="427.4" r="4"/><circle cx="836.9" cy="428" r="4"/><circle cx="840.2" cy="426.2" r="4"/><circle cx="847.8" cy="426.3" r="4"/><circle cx="860.5" cy="360.6" r="4"/><circle cx="864.6" cy="357.4" r="4"/><circle cx="870.7" cy="356.4" r="4"/><circle cx="876.7" cy="357.5" r="4"/><circle cx="882.9" cy="355.1" r="4"/><circle cx="890.2" cy="351.6" r="4"/><circle cx="897.5" cy="351.4" r="4"/><circle cx="900" cy="355.1" r="4"/><circle cx="902.6" cy="358.8" r="4"/><circle cx="904.5" cy="365.1" r="4"/><circle cx="907.6" cy="370.2" r="4"/><circle cx="908.5" cy="375.5" r="4"/><circle cx="905" cy="378.6" r="4"/><circle cx="901.6" cy="382.9" r="4"/><circle cx="902.6" cy="386.8" r="4"/><circle cx="900.3" cy="390.9" r="4"/><circle cx="901.4" cy="394.8" r="4"/><circle cx="899.3" cy="399.8" r="4"/><circle cx="898.4" cy="405.7" r="4"/><circle cx="894.2" cy="408.6" r="4"/><circle cx="890" cy="409.4" r="4"/><circle cx="885.9" cy="410.1" r="4"/><circle cx="882" cy="410.8" r="4"/><circle cx="878.2" cy="411.6" r="4"/><circle cx="878.3" cy="416" r="4"/><circle cx="872.6" cy="419.2" r="4"/><circle cx="866.7" cy="422.5" r="4"/><circle cx="861.8" cy="420.5" r="4"/><circle cx="856.6" cy="422.9" r="4"/><circle cx="851.3" cy="425.3" r="4"/><circle cx="844.1" cy="424.5" r="4"/><circle cx="839.7" cy="426.3" r="4"/><circle cx="835.4" cy="428.1" r="4"/><circle cx="829" cy="426.1" r="4"/><circle cx="825.9" cy="420.9" r="4"/><circle cx="829.3" cy="415.5" r="4"/><circle cx="835.8" cy="416.3" r="4"/><circle cx="840.2" cy="414.6" r="4"/><circle cx="844.6" cy="412.9" r="4"/><circle cx="845.8" cy="409.8" r="4"/><circle cx="851.3" cy="406.3" r="4"/><circle cx="857.7" cy="405.9" r="4"/><circle cx="863.8" cy="404.3" r="4"/><circle cx="867.6" cy="401.7" r="4"/><circle cx="863.7" cy="397.6" r="4"/><circle cx="864.2" cy="393" r="4"/><circle cx="866.7" cy="389.5" r="4"/><circle cx="864" cy="384.5" r="4"/><circle cx="862.6" cy="380.2" r="4"/><circle cx="864.1" cy="375" r="4"/><circle cx="865.8" cy="368.5" r="4"/><circle cx="862.8" cy="365.1" r="4"/><circle cx="871.7" cy="61.5" r="4"/><circle cx="916.2" cy="70.6" r="4"/><circle cx="981.3" cy="84.2" r="4"/><circle cx="968.2" cy="224.5" r="4"/><circle cx="953.5" cy="234.1" r="4"/><circle cx="968.2" cy="237.1" r="4"/><circle cx="810.1" cy="217.9" r="4"/><circle cx="972.9" cy="167.4" r="4"/><circle cx="911.1" cy="204.8" r="4"/><circle cx="910.1" cy="254.1" r="4"/><circle cx="860.6" cy="269.8" r="4"/><circle cx="869.7" cy="268.8" r="4"/><circle cx="976.8" cy="265.3" r="4"/><circle cx="897" cy="281.9" r="4"/><circle cx="877.8" cy="285.5" r="4"/><circle cx="870.7" cy="293" r="4"/><circle cx="925.8" cy="307.2" r="4"/><circle cx="955.1" cy="307.2" r="4"/><circle cx="809.1" cy="347.1" r="4"/><circle cx="823.2" cy="242" r="4"/><circle cx="838.4" cy="241" r="4"/><circle cx="847.5" cy="241" r="4"/><circle cx="924.2" cy="241" r="4"/><circle cx="933.3" cy="240.5" r="4"/><circle cx="968.2" cy="240" r="4"/><circle cx="713.5" cy="559.3" r="4"/><circle cx="673.1" cy="545.7" r="4"/><circle cx="674.1" cy="503.3" r="4"/><circle cx="685.3" cy="485.1" r="4"/><circle cx="693.3" cy="479.5" r="4"/><circle cx="594.8" cy="535.1" r="4"/><circle cx="608.5" cy="533.6" r="4"/><circle cx="614.5" cy="535.1" r="4"/><circle cx="605.5" cy="515.9" r="4"/><circle cx="626.2" cy="515.9" r="4"/><circle cx="563" cy="552.3" r="4"/><circle cx="572.6" cy="549.2" r="4"/><circle cx="585.3" cy="552.3" r="4"/><circle cx="611.5" cy="549.2" r="4"/><circle cx="619.6" cy="550.8" r="4"/><circle cx="624.6" cy="552.8" r="4"/><circle cx="628.7" cy="547.7" r="4"/><circle cx="636.8" cy="550.8" r="4"/><circle cx="639.8" cy="550.8" r="4"/><circle cx="809.4" cy="347.2" r="4"/><circle cx="853.9" cy="384.4" r="4"/><circle cx="805.6" cy="432.8" r="4"/><circle cx="845.2" cy="441.1" r="4"/><circle cx="771.7" cy="450.6" r="4"/><circle cx="960" cy="385.9" r="4"/><circle cx="790" cy="473.6" r="4"/><circle cx="823.7" cy="481.7" r="4"/><circle cx="798.3" cy="488.9" r="4"/><circle cx="808.9" cy="486.1" r="4"/><circle cx="808.9" cy="488.3" r="4"/><circle cx="851.4" cy="486.9" r="4"/><circle cx="814.2" cy="514.7" r="4"/><circle cx="764.7" cy="539.8" r="4"/><circle cx="842.8" cy="555" r="4"/><circle cx="847.8" cy="555.3" r="4"/><circle cx="793.3" cy="560.6" r="4"/><circle cx="799.4" cy="560.6" r="4"/><circle cx="386.1" cy="563.9" r="4"/><circle cx="395.6" cy="563.9" r="4"/><circle cx="397.8" cy="567.8" r="4"/><circle cx="403.3" cy="565" r="4"/><circle cx="431.7" cy="565" r="4"/><circle cx="437.8" cy="565.3" r="4"/><circle cx="456.1" cy="562.8" r="4"/><circle cx="473.3" cy="553.3" r="4"/><circle cx="480" cy="563.9" r="4"/><circle cx="488.3" cy="557.2" r="4"/><circle cx="496.7" cy="562.8" r="4"/><circle cx="502.8" cy="552.8" r="4"/><circle cx="502.8" cy="561.7" r="4"/><circle cx="510" cy="549.4" r="4"/><circle cx="508.9" cy="561.7" r="4"/><circle cx="518.3" cy="562.8" r="4"/><circle cx="529.4" cy="556.7" r="4"/><circle cx="536.7" cy="554.4" r="4"/><circle cx="546.1" cy="549.4" r="4"/><circle cx="546.1" cy="555" r="4"/><circle cx="553.3" cy="548.3" r="4"/><circle cx="562.2" cy="555" r="4"/><circle cx="563.3" cy="551.7" r="4"/><circle cx="572.8" cy="549.4" r="4"/><circle cx="585" cy="552.2" r="4"/><circle cx="594.4" cy="535" r="4"/><circle cx="312.5" cy="566.2" r="4"/><circle cx="326.6" cy="567.1" r="4"/><circle cx="332.8" cy="568" r="4"/><circle cx="339.9" cy="566.2" r="4"/><circle cx="347.9" cy="566.2" r="4"/><circle cx="353.2" cy="565.4" r="4"/><circle cx="353.2" cy="568" r="4"/><circle cx="362.9" cy="568" r="4"/><circle cx="374.4" cy="568" r="4"/><circle cx="385.9" cy="563.6" r="4"/><circle cx="396.5" cy="563.6" r="4"/></g>
</g>
<g id="to">
<path d="M1810 140 L1810 98.3 L1818.9 98.3 M1828.9 95.6 L1818.9 95.6 L1818.9 101.1 L1851.1 101.1 M1825 97.8 L1825 53.3 L1833.3 53.3 M1825 63.3 L1854.4 63.3 M1845.6 50 L1833.3 50 L1833.3 55 L1845.6 55 M1884.4 91.1 L1910 91.1 M1917.2 47.9 L1960.8 47.9 M1915.6 51.9 L1946.3 51.9 M1972.9 71.7 L1979.4 71.7 M1982.6 93.9 L1994.7 93.9 M1880 91.1 L1914.7 91.1 M1810 135 L1810 161.1 L1852.2 161.1 M1810 149.4 L1772.8 149.4 L1772.8 181.1 L1801.1 181.1 M1772.8 170.6 L1756.7 170.6 L1756.7 255 M1756.7 236.7 L1747.2 236.7 L1747.2 255 M1747.2 247.8 L1740 247.8 L1740 255 M1832.2 221.1 L1807.8 221.1 L1807.8 241.7 M1832.8 221.7 L1832.8 206.7 L1844.4 206.7 M1844.4 206.1 L1844.4 199.4 L1856.7 199.4 M1807.8 235.6 L1776.7 235.6 L1776.7 243.3 M1776.7 239.4 L1771.1 239.4 L1771.1 245 M1771.1 241.7 L1764.4 241.7 L1764.4 246.1 M1764.4 244.4 L1756.7 244.4 M1817.2 152.8 L1843.3 152.8 M1817.2 156.1 L1828.9 156.1 M1861.1 231.1 L1910 231.1 M1900 226.1 L1910 226.1 M1768.9 250.6 L1910 250.6 M1897.8 176.7 L1907.8 176.7 M1832.2 221.1 L1851.1 221.1 M1900.2 176.6 L1909.9 176.6 M1946.3 217.4 L1977 217.4 M1918 225.5 L1900.2 225.5 L1900.2 229.5 M1880 230.4 L1900.2 230.4 M1880 251.4 L1954.3 251.4 M1880 221.9 L1912.3 221.9 M1740 250 L1740 356.1 L1776.7 356.1 M1740 327.2 L1732.8 327.2 L1732.8 370 M1747.2 250 L1747.2 259.4 L1756.7 259.4 M1756.7 250 L1756.7 258.9 L1826.7 258.3 M1756.7 252.2 L1767.8 252.2 M1876.7 293.9 L1852.8 293.9 L1852.8 335.6 L1910 335.6 M1887.8 282.8 L1876.7 282.8 L1876.7 297.8 L1898.9 297.8 M1906.1 275.6 L1887.8 275.6 L1887.8 290 L1910 290 M1910 268.9 L1906.1 268.9 L1906.1 278.9 L1910 278.9 M1852.8 324.4 L1835 324.4 L1835 338.9 M1835 331.7 L1820 331.7 L1820 341.1 L1910 341.1 M1820 338.9 L1780 338.9 L1780 343.3 M1780 343.3 L1772.8 343.3 L1772.8 350 M1852.8 327.8 L1891.1 327.8 M1910 325.6 L1891.7 325.6 L1891.7 330 M1795.6 351.1 L1850 351.1 M1794.4 355 L1818.9 355 M1886.7 366.1 L1812.2 366.1 L1812.2 370 M1880 282.7 L1888.1 282.7 M1905.9 275.9 L1888.1 275.9 L1888.1 290 L1915.6 290 M1918 268.6 L1905.9 268.6 L1905.9 279.5 M1918 263.3 L1918 271 M1887.3 253.2 L1948.7 253.2 M1918.8 298.1 L1951.1 298.1 M1880 328 L1891.3 328 M1891.3 325.6 L1891.3 330.8 M1975.4 334.8 L1979.4 334.8 M1977 326.4 L1981.8 326.4 M1880 366 L1888.1 366 M1732.8 365 L1732.8 391.7 M1732.8 372.8 L1713.3 372.8 L1713.3 393.3 L1781.1 393.3 M1690 382.2 L1713.3 382.2 M1732.8 376.1 L1753.3 376.1 M1762.2 372.2 L1753.3 372.2 L1753.3 380 L1778.9 380 M1732.8 382.8 L1781.1 382.8 M1732.8 387.2 L1812.2 387.2 M1732.8 390.6 L1781.1 390.6 M1812.8 365 L1812.8 369.4 M1878.9 387.2 L1897.8 387.2 M1742.8 408.9 L1696.1 408.9 L1696.1 422.8 M1778.9 403.9 L1742.8 403.9 L1742.8 410.6 M1727.8 412.8 L1756.7 412.8 M1710.6 416.1 L1727.8 416.1 M1690 419.4 L1910 419.4 M1831.1 406.7 L1845.6 406.7 M1726.7 477.8 L1812.2 477.8 M1812.2 475 L1889.4 475 M1730 433.3 L1750 433.3 M1968.9 417.5 L1981.4 417.5 M1600 433.3 L1639.4 433.3 L1639.4 430 M1639.4 433.3 L1639.4 436.7 L1666.7 436.7 M1600 490 L1621.1 490 L1621.1 478.3 L1630.6 478.3 M1630.6 482.2 L1630.6 474.4 L1648.9 474.4 M1666.7 468.3 L1648.9 468.3 L1648.9 476.7 L1666.7 476.7 M1600 486.7 L1621.1 486.7 M1744.4 477.8 L1815.6 477.8 M1743.3 505.6 L1820 505.6 M1600 518.3 L1738.9 518.3 M1600 524.4 L1711.1 524.4 M1600 574.4 L1820 574.4 M1600 571.7 L1655.6 571.7 L1655.6 568.9 L1664.4 568.9 M1664.4 570 L1664.4 554.4 L1672.2 554.4 M1672.2 556.7 L1672.2 549.4 L1677.8 549.4 M1677.8 547.8 L1688.9 547.8 L1688.9 537.2 L1694.4 537.2 M1810 475.2 L1889.2 475.2 M1810 497.5 L1886 497.5 M1810 506.3 L1849.6 506.3 M1810 575.3 L1848.2 575.3 M1180 521.8 L1195.8 521.8 M1354.5 515.8 L1280.6 515.8 L1280.6 520.6 M1257.6 518.2 L1280.6 518.2 M1246.7 519.4 L1257.6 519.4 M1354.5 517 L1354.5 513.3 L1366.7 513.3 L1366.7 508.5 L1420 508.5 M1366.7 513.3 L1420 513.3 M1456.1 511.1 L1456.1 459.4 L1559.4 459.4 M1568.9 456.7 L1559.4 456.7 L1559.4 463.9 L1588.9 463.9 M1568.9 462.2 L1568.9 433.3 L1630 433.3 M1568.9 462.2 L1588.9 462.2 M1456.1 492.8 L1444.4 492.8 L1444.4 512.2 M1444.4 502.8 L1436.7 502.8 L1436.7 512.2 M1410 508.9 L1436.7 508.9 M1517.8 509.4 L1517.8 488.9 L1598.9 488.9 M1598.9 486.7 L1598.9 491.1 L1621.1 491.1 M1598.9 486.7 L1621.1 486.7 M1621.1 491.1 L1621.1 478.3 L1630 478.3 M1517.8 502.8 L1490.6 502.8 L1490.6 510 M1490.6 506.1 L1478.3 506.1 L1478.3 511.1 M1567.8 506.7 L1630 506.7 M1410 524.4 L1630 524.4 M1568.9 450 L1568.9 433.3 L1639.4 433.3 M1645.6 428.3 L1639.4 428.3 L1639.4 437.2 L1660 437.2 M1645.6 430 L1645.6 401.7 L1661.1 401.7 M1713.3 382.2 L1661.1 382.2 L1661.1 420 L1690.6 420 M1696.7 416.1 L1690.6 416.1 L1690.6 422.8 L1704.4 422.8 M1696.7 418.9 L1696.7 408.9 L1742.2 408.9 M1742.2 404.4 L1742.2 410 L1760 410 M1732.8 372.2 L1713.3 372.2 L1713.3 393.9 L1780 393.9 M1732.8 330 L1732.8 393.3 M1740 330 L1740 355.6 L1780 355.6 M1732.8 376.1 L1753.3 376.1 M1780 372.2 L1753.3 372.2 L1753.3 380.6 L1780 380.6 M1732.8 382.2 L1780 382.2 M1732.8 387.8 L1780 387.8 M1196 521.9 L1073.3 521.9 L1073.3 577.8 L1640 577.3" fill="none" stroke="#000" stroke-width="1.6" stroke-linecap="square"/>
<path d="M1818.9 93.3 L1851.1 92.2 L1851.1 102.4 L1818.9 102.4Z M1845.6 48.9 L1856.7 46.1 L1861.1 43.3 L1894.4 38.9 L1894.4 55.6 L1833.3 55.8 L1833.3 53.3 L1845.6 52.2Z M1854.4 61.7 L1883.3 61.1 L1883.3 65.8 L1854.4 65.8Z M1872.2 93.3 L1910 91.1 L1910 96.7 L1872.2 100Z M1863.3 134.4 L1910 131.1 L1910 140 L1863.3 140Z M1914.7 86.3 L1925.3 86.3 L1930.1 83.8 L1936.6 80.6 L1947.9 74.1 L1951.1 76.6 L1951.1 95.2 L1920.4 95.2 L1914.7 92.7Z M1932.5 58 L1944.6 55.6 L1947.1 55.6 L1947.1 62.2 L1907.5 62.2 L1907.5 58.8Z M1810 153.9 L1843.3 148.3 L1852.2 143.9 L1858.9 139.4 L1867.8 135 L1910 135 L1910 161.9 L1810 161.9Z M1793.3 178.9 L1801.1 177.2 L1827.8 173.3 L1841.1 169.4 L1856.7 168.3 L1856.7 180.6 L1793.3 181.9Z M1843.3 199.4 L1867.8 193.9 L1867.8 223.9 L1832.2 223.9 L1832.2 207.2 L1843.3 206.1Z M1785.6 243.3 L1845.6 239.4 L1910 238.3 L1910 250.6 L1785.6 250.6Z M1913.1 215.8 L1946.3 215.8 L1946.3 220.7 L1913.1 220.7Z M1918 223.9 L1946.3 223.1 L1946.3 238.4 L1912.3 238.4 L1912.3 232 L1922 230.4 L1918 227.9Z M1756.7 256.7 L1826.7 254.4 L1826.7 260.2 L1756.7 260.2Z M1758.9 352.2 L1770 348.9 L1773.3 347.8 L1776.7 346.7 L1776.7 356.9 L1740 356.9 L1740 355 L1758.9 354.4Z M1876.7 294.4 L1898.9 293.9 L1898.9 298.6 L1876.7 298.6Z M1883.3 332.2 L1910 331.1 L1910 338.9 L1883.3 338.9Z M1820 337.8 L1910 337.8 L1910 342.4 L1820 342.4Z M1891.1 325.6 L1910 324.4 L1910 331.1 L1891.1 330Z M1816.7 361.1 L1850 360.6 L1850 365.2 L1816.7 365.2Z M1898.9 314.4 L1910 313.3 L1910 323.3 L1898.9 323.3Z M1918 263.3 L1933.3 262.1 L1947.9 261.3 L1947.9 280.7 L1917.2 281.5 L1905.9 279.9 L1905.9 268.6 L1918 268.6Z M1915.6 288 L1933.3 284.7 L1947.9 282.3 L1947.9 293.6 L1915.6 293.6Z M1880 295.3 L1898.6 295.3 L1898.6 298.6 L1880 298.6Z M1898.6 314.6 L1906.7 313 L1918 308.2 L1924.4 303.3 L1938.2 298.5 L1951.1 297.7 L1951.1 337.3 L1891.3 338.9 L1891.3 326 L1898.6 325.2Z M1753.3 371.7 L1801.1 371.7 L1812.2 369.4 L1847.8 369.4 L1847.8 379.4 L1801.1 381.7 L1753.3 380.6Z M1767.8 383.9 L1801.1 381.7 L1823.3 381.7 L1823.3 398.3 L1801.1 400.6 L1767.8 391.7Z M1743.3 403.9 L1756.7 402.8 L1790 400.6 L1814.4 400.6 L1814.4 409.4 L1790 411.7 L1743.3 407.2Z M1710 418.3 L1767.8 416.1 L1812.2 418.3 L1812.2 425 L1710 425Z M1690 423.9 L1704.4 422.8 L1704.4 465 L1690 465Z M1877.8 418.3 L1910 418.1 L1910 420.6 L1877.8 420.6Z M1880 417.1 L1910.7 416.7 L1944.6 416.7 L1944.6 420.8 L1880 420.8Z M1639.4 434.4 L1705.6 433.3 L1706.7 463.3 L1600 463.3 L1600 458.9 L1614.4 457.8 L1614.4 453.9 L1628.9 450.6 L1648.9 441.1 L1639.4 436.9Z M1621.1 485.6 L1666.7 482.2 L1668.9 492.2 L1621.1 492.2Z M1793.3 495.3 L1820 495.3 L1820 499.1 L1793.3 499.1Z M1600 507.8 L1633.3 506.7 L1634.4 502.8 L1655.6 502.2 L1668.9 500 L1703.3 498.9 L1703.3 511.1 L1600 511.1Z M1664.4 568.9 L1680 566.7 L1682.2 563.3 L1711.1 561.1 L1711.1 575.8 L1655.6 575.8 L1655.6 573.3 L1664.4 572.2Z M1672.2 550 L1680 545.6 L1688.9 541.1 L1694.4 534.4 L1700 530 L1708.9 527.8 L1708.9 558.9 L1672.2 557.8Z M1810 474.5 L1873.6 474.5 L1873.6 477.3 L1810 477.3Z M1810 495.4 L1838.3 495.4 L1838.3 499.3 L1810 499.3Z M1195.8 521.2 L1223.6 520.4 L1246.7 519.6 L1280.6 520 L1420 520.6 L1420 524 L1195.8 524Z M1354.5 515.8 L1420 514.5 L1420 524.2 L1349.7 524.2Z M1366.7 512.7 L1420 512.7 L1420 514.5 L1366.7 514.5Z M1588.9 461.1 L1630 460 L1630 464.7 L1588.9 464.7Z M1621.1 486.1 L1630 485.6 L1630 491.1 L1621.1 491.1Z M1410 512.8 L1476.7 511.1 L1630 508.9 L1630 511.3 L1476.7 513.3 L1410 515.3Z M1410 516.9 L1630 516.9 L1630 519.1 L1410 519.4Z M1410 523.3 L1472.2 523.1 L1472.2 525.3 L1410 525.3Z M1645.6 430 L1671.1 425.6 L1704.4 423.3 L1704.4 438 L1639.4 438Z M1648.9 441.1 L1671.1 440 L1702.2 438.9 L1702.2 450 L1648.9 450Z M1726.7 412.2 L1771.1 401.1 L1780 401.1 L1780 424.4 L1715.6 424.4 L1715.6 418.9Z M1758.9 351.1 L1771.1 347.8 L1780 347.8 L1780 356.7 L1740 356.7Z M1767.8 386.1 L1780 385.6 L1780 390 L1767.8 390Z M1195 521 L1223 520.6 L1223 523.4 L1195 523.2Z M1195 576.3 L1475 575.3 L1475 578.6 L1195 578.9Z" fill="#000"/>
<g fill="#EC8A48" stroke="#C85A12" stroke-width="1"><circle cx="1873.3" cy="31.4" r="4"/><circle cx="1880.4" cy="31" r="4"/><circle cx="1885.2" cy="32.1" r="4"/><circle cx="1892.9" cy="31.8" r="4"/><circle cx="1863.4" cy="38" r="4"/><circle cx="1870.8" cy="36" r="4"/><circle cx="1861.4" cy="36.3" r="4"/><circle cx="1866.8" cy="33.4" r="4"/><circle cx="1871.5" cy="33.3" r="4"/><circle cx="1874.6" cy="34" r="4"/><circle cx="1876.7" cy="32.6" r="4"/><circle cx="1881.4" cy="30.8" r="4"/><circle cx="1886.7" cy="30" r="4"/><circle cx="1892.2" cy="29.4" r="4"/><circle cx="1892" cy="35.5" r="4"/><circle cx="1886.4" cy="35.6" r="4"/><circle cx="1880.8" cy="35.7" r="4"/><circle cx="1875.7" cy="35.3" r="4"/><circle cx="1875.1" cy="34.7" r="4"/><circle cx="1871.2" cy="37.6" r="4"/><circle cx="1866.4" cy="39.9" r="4"/><circle cx="1861.7" cy="39.4" r="4"/><circle cx="1893.9" cy="38.5" r="4"/><circle cx="1899" cy="39.4" r="4"/><circle cx="1907.7" cy="35.7" r="4"/><circle cx="1886.9" cy="42.3" r="4"/><circle cx="1890" cy="42.5" r="4"/><circle cx="1895.2" cy="41.7" r="4"/><circle cx="1902.9" cy="42.8" r="4"/><circle cx="1887" cy="47.8" r="4"/><circle cx="1893.3" cy="46.1" r="4"/><circle cx="1901.5" cy="48.2" r="4"/><circle cx="1906.7" cy="46.7" r="4"/><circle cx="1881.1" cy="54.6" r="4"/><circle cx="1883.6" cy="52.5" r="4"/><circle cx="1892" cy="54" r="4"/><circle cx="1898.8" cy="52.9" r="4"/><circle cx="1904.4" cy="53.9" r="4"/><circle cx="1881.3" cy="58.7" r="4"/><circle cx="1889.6" cy="59.8" r="4"/><circle cx="1894.1" cy="58.7" r="4"/><circle cx="1898.2" cy="57.4" r="4"/><circle cx="1907.3" cy="58" r="4"/><circle cx="1885.9" cy="64.3" r="4"/><circle cx="1890.6" cy="63.3" r="4"/><circle cx="1897.1" cy="64.7" r="4"/><circle cx="1903.2" cy="63.1" r="4"/><circle cx="1883.6" cy="44.8" r="4"/><circle cx="1888.5" cy="42.4" r="4"/><circle cx="1894.6" cy="39" r="4"/><circle cx="1898.7" cy="36.6" r="4"/><circle cx="1903.1" cy="34.1" r="4"/><circle cx="1907.7" cy="31.7" r="4"/><circle cx="1907.4" cy="36.2" r="4"/><circle cx="1907" cy="40.7" r="4"/><circle cx="1906.7" cy="45" r="4"/><circle cx="1906.5" cy="49" r="4"/><circle cx="1906.4" cy="53" r="4"/><circle cx="1906.6" cy="57" r="4"/><circle cx="1906.9" cy="61.2" r="4"/><circle cx="1907.2" cy="65.5" r="4"/><circle cx="1902.1" cy="66.1" r="4"/><circle cx="1897.9" cy="65.9" r="4"/><circle cx="1893.9" cy="65.7" r="4"/><circle cx="1890.1" cy="65.8" r="4"/><circle cx="1885.1" cy="61.3" r="4"/><circle cx="1881.1" cy="56.4" r="4"/><circle cx="1879.2" cy="51.4" r="4"/><circle cx="1884.5" cy="50.1" r="4"/><circle cx="1866.4" cy="52" r="4"/><circle cx="1864.7" cy="50.4" r="4"/><circle cx="1866.9" cy="50" r="4"/><circle cx="1869.3" cy="49.3" r="4"/><circle cx="1869.8" cy="51.4" r="4"/><circle cx="1867.4" cy="51.1" r="4"/><circle cx="1865.2" cy="52" r="4"/><circle cx="1853.6" cy="97.6" r="4"/><circle cx="1860.1" cy="97.8" r="4"/><circle cx="1858.1" cy="100.9" r="4"/><circle cx="1861.7" cy="103.9" r="4"/><circle cx="1854.6" cy="98.6" r="4"/><circle cx="1857.8" cy="96.7" r="4"/><circle cx="1861.6" cy="97.6" r="4"/><circle cx="1865.3" cy="99.3" r="4"/><circle cx="1864.7" cy="102.5" r="4"/><circle cx="1860.6" cy="102" r="4"/><circle cx="1857.3" cy="102.2" r="4"/><circle cx="1882.4" cy="94.3" r="4"/><circle cx="1887.1" cy="95.3" r="4"/><circle cx="1896.5" cy="96.9" r="4"/><circle cx="1901.9" cy="94.6" r="4"/><circle cx="1906.9" cy="94.8" r="4"/><circle cx="1878.5" cy="99.3" r="4"/><circle cx="1884.7" cy="102.6" r="4"/><circle cx="1893.1" cy="102.1" r="4"/><circle cx="1899" cy="99.7" r="4"/><circle cx="1903" cy="101.4" r="4"/><circle cx="1876.9" cy="98.2" r="4"/><circle cx="1882.1" cy="95" r="4"/><circle cx="1886.9" cy="95.9" r="4"/><circle cx="1890.4" cy="96.9" r="4"/><circle cx="1893.4" cy="96.2" r="4"/><circle cx="1898" cy="95.2" r="4"/><circle cx="1906.6" cy="93.5" r="4"/><circle cx="1906.4" cy="98.6" r="4"/><circle cx="1906.5" cy="103.6" r="4"/><circle cx="1902.2" cy="104.7" r="4"/><circle cx="1898.2" cy="105.6" r="4"/><circle cx="1893.7" cy="104.7" r="4"/><circle cx="1890.3" cy="104.2" r="4"/><circle cx="1886.9" cy="104" r="4"/><circle cx="1882.1" cy="104" r="4"/><circle cx="1876.9" cy="101.7" r="4"/><circle cx="1874.3" cy="111.9" r="4"/><circle cx="1877.4" cy="110.1" r="4"/><circle cx="1871.9" cy="113.8" r="4"/><circle cx="1876.2" cy="114.4" r="4"/><circle cx="1866.4" cy="122.3" r="4"/><circle cx="1874.4" cy="119.2" r="4"/><circle cx="1864.8" cy="124.3" r="4"/><circle cx="1868.3" cy="127.3" r="4"/><circle cx="1875.1" cy="124.6" r="4"/><circle cx="1860.5" cy="132.8" r="4"/><circle cx="1867.5" cy="131.7" r="4"/><circle cx="1865.9" cy="135.4" r="4"/><circle cx="1877.3" cy="109.9" r="4"/><circle cx="1883.1" cy="110.4" r="4"/><circle cx="1880.7" cy="114.6" r="4"/><circle cx="1878.1" cy="118.7" r="4"/><circle cx="1875.4" cy="122.1" r="4"/><circle cx="1873.3" cy="124.4" r="4"/><circle cx="1870.4" cy="127.5" r="4"/><circle cx="1868.5" cy="134.3" r="4"/><circle cx="1862.9" cy="136.9" r="4"/><circle cx="1860.6" cy="132.1" r="4"/><circle cx="1864.5" cy="125.6" r="4"/><circle cx="1869.5" cy="122.3" r="4"/><circle cx="1870.1" cy="119.1" r="4"/><circle cx="1871.8" cy="114.7" r="4"/><circle cx="1883.6" cy="135.9" r="4"/><circle cx="1888.3" cy="133.6" r="4"/><circle cx="1892.4" cy="135.3" r="4"/><circle cx="1900.3" cy="135.6" r="4"/><circle cx="1905.9" cy="135.7" r="4"/><circle cx="1882.5" cy="135.5" r="4"/><circle cx="1888" cy="134.3" r="4"/><circle cx="1893.1" cy="134" r="4"/><circle cx="1894.8" cy="135.2" r="4"/><circle cx="1898" cy="133" r="4"/><circle cx="1906.5" cy="132" r="4"/><circle cx="1906.6" cy="138.9" r="4"/><circle cx="1901.6" cy="138.4" r="4"/><circle cx="1897.1" cy="137.4" r="4"/><circle cx="1894.7" cy="136.4" r="4"/><circle cx="1891.9" cy="137.6" r="4"/><circle cx="1887.3" cy="138.5" r="4"/><circle cx="1882.3" cy="138.9" r="4"/><circle cx="1882.8" cy="30.2" r="4"/><circle cx="1890.1" cy="29.9" r="4"/><circle cx="1895.6" cy="31.1" r="4"/><circle cx="1899.7" cy="31.6" r="4"/><circle cx="1905.6" cy="31.3" r="4"/><circle cx="1911.8" cy="30" r="4"/><circle cx="1886.2" cy="38.1" r="4"/><circle cx="1891" cy="35.7" r="4"/><circle cx="1899" cy="38.6" r="4"/><circle cx="1904.8" cy="36.4" r="4"/><circle cx="1912.4" cy="35" r="4"/><circle cx="1882.1" cy="40.5" r="4"/><circle cx="1888.7" cy="43.3" r="4"/><circle cx="1894.2" cy="42.3" r="4"/><circle cx="1902.1" cy="41.5" r="4"/><circle cx="1907.7" cy="40.2" r="4"/><circle cx="1911.7" cy="40.8" r="4"/><circle cx="1887.2" cy="46.9" r="4"/><circle cx="1891.8" cy="47.5" r="4"/><circle cx="1898.3" cy="46.4" r="4"/><circle cx="1905.7" cy="48" r="4"/><circle cx="1909.5" cy="47.5" r="4"/><circle cx="1916.6" cy="48.7" r="4"/><circle cx="1884.4" cy="51.5" r="4"/><circle cx="1891.4" cy="50.9" r="4"/><circle cx="1895.2" cy="53.4" r="4"/><circle cx="1900.1" cy="52.3" r="4"/><circle cx="1905.7" cy="53.1" r="4"/><circle cx="1914.6" cy="52.7" r="4"/><circle cx="1888" cy="56.8" r="4"/><circle cx="1893.3" cy="58" r="4"/><circle cx="1898.8" cy="57.4" r="4"/><circle cx="1905.9" cy="59.4" r="4"/><circle cx="1884.1" cy="64.7" r="4"/><circle cx="1890.8" cy="61.9" r="4"/><circle cx="1895" cy="63.5" r="4"/><circle cx="1899.6" cy="62.6" r="4"/><circle cx="1906.2" cy="61.2" r="4"/><circle cx="1882.7" cy="32.9" r="4"/><circle cx="1887.7" cy="32.5" r="4"/><circle cx="1892.5" cy="32.1" r="4"/><circle cx="1897.2" cy="31.6" r="4"/><circle cx="1901.3" cy="31.7" r="4"/><circle cx="1905.4" cy="31.7" r="4"/><circle cx="1909.5" cy="31.5" r="4"/><circle cx="1913.8" cy="31.2" r="4"/><circle cx="1913.2" cy="38.8" r="4"/><circle cx="1917.2" cy="43.4" r="4"/><circle cx="1914.5" cy="47.5" r="4"/><circle cx="1910.5" cy="52.9" r="4"/><circle cx="1906.2" cy="55.9" r="4"/><circle cx="1907" cy="62" r="4"/><circle cx="1903.9" cy="64.9" r="4"/><circle cx="1899.5" cy="65.2" r="4"/><circle cx="1895" cy="65.8" r="4"/><circle cx="1890.3" cy="66.4" r="4"/><circle cx="1886.1" cy="63.1" r="4"/><circle cx="1883.1" cy="61.8" r="4"/><circle cx="1883.4" cy="57.6" r="4"/><circle cx="1883.6" cy="53.6" r="4"/><circle cx="1883.6" cy="49.6" r="4"/><circle cx="1883.5" cy="45.6" r="4"/><circle cx="1883.3" cy="41.5" r="4"/><circle cx="1883" cy="37.3" r="4"/><circle cx="1948.7" cy="49.5" r="4"/><circle cx="1954.3" cy="48.5" r="4"/><circle cx="1960.1" cy="46.7" r="4"/><circle cx="1969.8" cy="46.5" r="4"/><circle cx="1951.2" cy="51.8" r="4"/><circle cx="1956.9" cy="52" r="4"/><circle cx="1964.4" cy="54.5" r="4"/><circle cx="1970.3" cy="51.4" r="4"/><circle cx="1975.8" cy="54.9" r="4"/><circle cx="1949.2" cy="58.9" r="4"/><circle cx="1955.8" cy="58.7" r="4"/><circle cx="1963.4" cy="58.4" r="4"/><circle cx="1966.4" cy="56.3" r="4"/><circle cx="1975.6" cy="58" r="4"/><circle cx="1978.6" cy="59.9" r="4"/><circle cx="1954.3" cy="62.4" r="4"/><circle cx="1958.2" cy="64.8" r="4"/><circle cx="1963.3" cy="64.3" r="4"/><circle cx="1969.2" cy="64" r="4"/><circle cx="1977.6" cy="65.1" r="4"/><circle cx="1984.2" cy="63.3" r="4"/><circle cx="1949.9" cy="68.5" r="4"/><circle cx="1954.1" cy="70.1" r="4"/><circle cx="1961.8" cy="69.3" r="4"/><circle cx="1966.7" cy="67.5" r="4"/><circle cx="1971.8" cy="67.9" r="4"/><circle cx="1978.9" cy="68.2" r="4"/><circle cx="1985.3" cy="69.8" r="4"/><circle cx="1954.4" cy="72.4" r="4"/><circle cx="1958.4" cy="72.3" r="4"/><circle cx="1965.5" cy="75.6" r="4"/><circle cx="1969.6" cy="74.7" r="4"/><circle cx="1976" cy="71.7" r="4"/><circle cx="1983.9" cy="73" r="4"/><circle cx="1987.5" cy="73.4" r="4"/><circle cx="1955.6" cy="78.5" r="4"/><circle cx="1962.2" cy="78" r="4"/><circle cx="1966.2" cy="77.2" r="4"/><circle cx="1972.2" cy="79" r="4"/><circle cx="1979.2" cy="80.1" r="4"/><circle cx="1985.8" cy="79.7" r="4"/><circle cx="1954.7" cy="82.3" r="4"/><circle cx="1956.9" cy="82.6" r="4"/><circle cx="1964.3" cy="84.4" r="4"/><circle cx="1971.8" cy="83.5" r="4"/><circle cx="1978.7" cy="82.1" r="4"/><circle cx="1984.1" cy="82.9" r="4"/><circle cx="1951.7" cy="90.3" r="4"/><circle cx="1957.8" cy="89.6" r="4"/><circle cx="1960.5" cy="91.1" r="4"/><circle cx="1967.6" cy="87.6" r="4"/><circle cx="1974.2" cy="89.3" r="4"/><circle cx="1979.7" cy="87.9" r="4"/><circle cx="1984.3" cy="89.6" r="4"/><circle cx="1952.6" cy="93" r="4"/><circle cx="1958.6" cy="95.4" r="4"/><circle cx="1965.7" cy="94.3" r="4"/><circle cx="1970.4" cy="93.9" r="4"/><circle cx="1975.7" cy="93.3" r="4"/><circle cx="1982.6" cy="92.9" r="4"/><circle cx="1948.7" cy="52.6" r="4"/><circle cx="1952.2" cy="49" r="4"/><circle cx="1958.8" cy="50.1" r="4"/><circle cx="1963" cy="49" r="4"/><circle cx="1967.2" cy="47.8" r="4"/><circle cx="1971.3" cy="51" r="4"/><circle cx="1973.1" cy="56.4" r="4"/><circle cx="1979.4" cy="58.3" r="4"/><circle cx="1983" cy="60.9" r="4"/><circle cx="1981.7" cy="66.6" r="4"/><circle cx="1983.2" cy="69.2" r="4"/><circle cx="1989.5" cy="69.7" r="4"/><circle cx="1990.3" cy="73.9" r="4"/><circle cx="1984" cy="75.2" r="4"/><circle cx="1985" cy="80" r="4"/><circle cx="1985.3" cy="85.1" r="4"/><circle cx="1982.5" cy="87.8" r="4"/><circle cx="1979.8" cy="92.2" r="4"/><circle cx="1975.6" cy="93.5" r="4"/><circle cx="1968.6" cy="93.2" r="4"/><circle cx="1961.6" cy="94.1" r="4"/><circle cx="1955.8" cy="95.1" r="4"/><circle cx="1951.7" cy="92.3" r="4"/><circle cx="1952" cy="87.7" r="4"/><circle cx="1950.9" cy="82.6" r="4"/><circle cx="1951.2" cy="79.1" r="4"/><circle cx="1954.6" cy="75.6" r="4"/><circle cx="1949.9" cy="72.5" r="4"/><circle cx="1951.4" cy="68.5" r="4"/><circle cx="1950.3" cy="63.7" r="4"/><circle cx="1949.3" cy="60.1" r="4"/><circle cx="1949.7" cy="56.4" r="4"/><circle cx="1883.4" cy="94.9" r="4"/><circle cx="1888.1" cy="96.9" r="4"/><circle cx="1893.5" cy="95.4" r="4"/><circle cx="1903.1" cy="93.7" r="4"/><circle cx="1907.7" cy="95.9" r="4"/><circle cx="1911.7" cy="94.9" r="4"/><circle cx="1887.3" cy="100.4" r="4"/><circle cx="1893.4" cy="99.2" r="4"/><circle cx="1897.5" cy="99" r="4"/><circle cx="1904.5" cy="102.3" r="4"/><circle cx="1881.9" cy="105" r="4"/><circle cx="1890.2" cy="106.7" r="4"/><circle cx="1895.2" cy="104.1" r="4"/><circle cx="1900.6" cy="104.6" r="4"/><circle cx="1883.4" cy="95.4" r="4"/><circle cx="1891.2" cy="95.4" r="4"/><circle cx="1896.4" cy="95.9" r="4"/><circle cx="1900.3" cy="96.3" r="4"/><circle cx="1904.2" cy="95.3" r="4"/><circle cx="1909.4" cy="94.1" r="4"/><circle cx="1917" cy="95.4" r="4"/><circle cx="1917.6" cy="98.2" r="4"/><circle cx="1910.3" cy="100.3" r="4"/><circle cx="1903.9" cy="100.9" r="4"/><circle cx="1905.1" cy="103.2" r="4"/><circle cx="1900.7" cy="103.7" r="4"/><circle cx="1897" cy="104.7" r="4"/><circle cx="1891.3" cy="105.7" r="4"/><circle cx="1887.8" cy="109.3" r="4"/><circle cx="1882.8" cy="114.8" r="4"/><circle cx="1883.1" cy="110.7" r="4"/><circle cx="1883.4" cy="106.8" r="4"/><circle cx="1883.6" cy="103" r="4"/><circle cx="1883.6" cy="99.2" r="4"/><circle cx="1883.8" cy="134.7" r="4"/><circle cx="1889.8" cy="133.8" r="4"/><circle cx="1896.8" cy="136.3" r="4"/><circle cx="1902.1" cy="133.6" r="4"/><circle cx="1907.6" cy="134.3" r="4"/><circle cx="1883.6" cy="134.8" r="4"/><circle cx="1891.6" cy="133.9" r="4"/><circle cx="1897.1" cy="135.8" r="4"/><circle cx="1899.2" cy="133.8" r="4"/><circle cx="1904.9" cy="132.6" r="4"/><circle cx="1909.5" cy="134.8" r="4"/><circle cx="1909.7" cy="139" r="4"/><circle cx="1905.1" cy="138.6" r="4"/><circle cx="1900.7" cy="137.9" r="4"/><circle cx="1897.6" cy="136.7" r="4"/><circle cx="1896" cy="136.9" r="4"/><circle cx="1892.5" cy="138.1" r="4"/><circle cx="1888.1" cy="138.7" r="4"/><circle cx="1883.5" cy="139" r="4"/><circle cx="1866.6" cy="138.8" r="4"/><circle cx="1871.3" cy="138.5" r="4"/><circle cx="1879.1" cy="139.7" r="4"/><circle cx="1883" cy="137.7" r="4"/><circle cx="1889" cy="139.7" r="4"/><circle cx="1897.4" cy="136.7" r="4"/><circle cx="1904.5" cy="140.4" r="4"/><circle cx="1858.2" cy="144.2" r="4"/><circle cx="1862.2" cy="141.8" r="4"/><circle cx="1869.7" cy="141.9" r="4"/><circle cx="1874.4" cy="142.7" r="4"/><circle cx="1879.7" cy="143.6" r="4"/><circle cx="1887.4" cy="145.1" r="4"/><circle cx="1893.7" cy="144.3" r="4"/><circle cx="1899.6" cy="144.3" r="4"/><circle cx="1905.4" cy="142.8" r="4"/><circle cx="1862" cy="149.7" r="4"/><circle cx="1865.9" cy="147.8" r="4"/><circle cx="1871.8" cy="147.2" r="4"/><circle cx="1879.7" cy="148.5" r="4"/><circle cx="1886" cy="148.4" r="4"/><circle cx="1892.4" cy="150.3" r="4"/><circle cx="1894.6" cy="147.7" r="4"/><circle cx="1904.2" cy="148.8" r="4"/><circle cx="1859.5" cy="153.7" r="4"/><circle cx="1861.9" cy="154.6" r="4"/><circle cx="1870.7" cy="153.2" r="4"/><circle cx="1873.9" cy="153.4" r="4"/><circle cx="1883.5" cy="155.1" r="4"/><circle cx="1886.1" cy="153.1" r="4"/><circle cx="1892" cy="152.3" r="4"/><circle cx="1900.8" cy="152.8" r="4"/><circle cx="1905.8" cy="153.9" r="4"/><circle cx="1853.4" cy="160.2" r="4"/><circle cx="1859.1" cy="159.9" r="4"/><circle cx="1865.1" cy="159" r="4"/><circle cx="1871.5" cy="158.4" r="4"/><circle cx="1880.5" cy="160.5" r="4"/><circle cx="1883.8" cy="160.8" r="4"/><circle cx="1889.4" cy="158.9" r="4"/><circle cx="1898" cy="159.9" r="4"/><circle cx="1901" cy="161.2" r="4"/><circle cx="1856.5" cy="163.5" r="4"/><circle cx="1864.7" cy="163.8" r="4"/><circle cx="1868.8" cy="162.8" r="4"/><circle cx="1874" cy="164.8" r="4"/><circle cx="1880.6" cy="164.9" r="4"/><circle cx="1887.1" cy="164.3" r="4"/><circle cx="1895.4" cy="164.4" r="4"/><circle cx="1856.2" cy="170.9" r="4"/><circle cx="1859.6" cy="168.4" r="4"/><circle cx="1867.6" cy="171.4" r="4"/><circle cx="1871.4" cy="171.5" r="4"/><circle cx="1880.1" cy="170.1" r="4"/><circle cx="1884.3" cy="168.1" r="4"/><circle cx="1888.8" cy="171.5" r="4"/><circle cx="1895.6" cy="170.5" r="4"/><circle cx="1858" cy="174" r="4"/><circle cx="1862.3" cy="175.8" r="4"/><circle cx="1867.9" cy="173.8" r="4"/><circle cx="1875.8" cy="176.3" r="4"/><circle cx="1882.1" cy="174" r="4"/><circle cx="1889.3" cy="173.7" r="4"/><circle cx="1891.7" cy="173.9" r="4"/><circle cx="1899.4" cy="173.1" r="4"/><circle cx="1860" cy="181.6" r="4"/><circle cx="1868.5" cy="180.7" r="4"/><circle cx="1873.4" cy="180.4" r="4"/><circle cx="1877.2" cy="178.2" r="4"/><circle cx="1882.7" cy="181.7" r="4"/><circle cx="1856.9" cy="187.3" r="4"/><circle cx="1861.9" cy="185.4" r="4"/><circle cx="1870.5" cy="186.9" r="4"/><circle cx="1876.5" cy="186.1" r="4"/><circle cx="1860.9" cy="190.9" r="4"/><circle cx="1864.9" cy="191" r="4"/><circle cx="1858.7" cy="144.7" r="4"/><circle cx="1863.7" cy="142.8" r="4"/><circle cx="1868.6" cy="140.7" r="4"/><circle cx="1873.5" cy="139.7" r="4"/><circle cx="1878.5" cy="138.6" r="4"/><circle cx="1883.1" cy="138.5" r="4"/><circle cx="1887.9" cy="138.3" r="4"/><circle cx="1892.6" cy="138.1" r="4"/><circle cx="1897.5" cy="137.9" r="4"/><circle cx="1902.4" cy="137.7" r="4"/><circle cx="1907.4" cy="137.5" r="4"/><circle cx="1907.2" cy="142.6" r="4"/><circle cx="1907" cy="147.7" r="4"/><circle cx="1906.8" cy="152.7" r="4"/><circle cx="1906.6" cy="157.6" r="4"/><circle cx="1906.5" cy="162.4" r="4"/><circle cx="1897.6" cy="163.6" r="4"/><circle cx="1893.1" cy="167.5" r="4"/><circle cx="1897.6" cy="173.2" r="4"/><circle cx="1893.4" cy="176.9" r="4"/><circle cx="1887.4" cy="180.4" r="4"/><circle cx="1882.6" cy="181.4" r="4"/><circle cx="1878.1" cy="182.6" r="4"/><circle cx="1870.9" cy="183.7" r="4"/><circle cx="1868.9" cy="188.3" r="4"/><circle cx="1862.7" cy="194" r="4"/><circle cx="1857.8" cy="191" r="4"/><circle cx="1859.3" cy="183.6" r="4"/><circle cx="1861.9" cy="177.4" r="4"/><circle cx="1858" cy="171.2" r="4"/><circle cx="1854.7" cy="166.5" r="4"/><circle cx="1855.5" cy="160.8" r="4"/><circle cx="1859.3" cy="154.2" r="4"/><circle cx="1859" cy="149.5" r="4"/><circle cx="1873.4" cy="195.7" r="4"/><circle cx="1882.5" cy="194.6" r="4"/><circle cx="1888.8" cy="194.9" r="4"/><circle cx="1900.8" cy="196.1" r="4"/><circle cx="1870.2" cy="199.7" r="4"/><circle cx="1879.7" cy="197.8" r="4"/><circle cx="1882.8" cy="202.2" r="4"/><circle cx="1892" cy="198.1" r="4"/><circle cx="1901.4" cy="202.4" r="4"/><circle cx="1904.1" cy="199.8" r="4"/><circle cx="1861.1" cy="204.5" r="4"/><circle cx="1868.5" cy="204" r="4"/><circle cx="1872.9" cy="207.8" r="4"/><circle cx="1881" cy="205.8" r="4"/><circle cx="1889" cy="206.1" r="4"/><circle cx="1894.9" cy="203.9" r="4"/><circle cx="1903.6" cy="208.6" r="4"/><circle cx="1859.4" cy="213.1" r="4"/><circle cx="1863.3" cy="211.6" r="4"/><circle cx="1872" cy="213.2" r="4"/><circle cx="1876.1" cy="211" r="4"/><circle cx="1884.3" cy="212.3" r="4"/><circle cx="1893.6" cy="212.3" r="4"/><circle cx="1896.6" cy="213.9" r="4"/><circle cx="1905.7" cy="212.4" r="4"/><circle cx="1852.1" cy="218" r="4"/><circle cx="1859.9" cy="219.7" r="4"/><circle cx="1865.5" cy="218.6" r="4"/><circle cx="1872.9" cy="219.3" r="4"/><circle cx="1879.2" cy="217.2" r="4"/><circle cx="1887.7" cy="219" r="4"/><circle cx="1893.3" cy="218.1" r="4"/><circle cx="1901" cy="217.3" r="4"/><circle cx="1853.6" cy="212.5" r="4"/><circle cx="1858" cy="208.6" r="4"/><circle cx="1864.4" cy="204.3" r="4"/><circle cx="1870" cy="200" r="4"/><circle cx="1878.7" cy="196.4" r="4"/><circle cx="1886.2" cy="193.8" r="4"/><circle cx="1892.9" cy="197.4" r="4"/><circle cx="1900.2" cy="196.9" r="4"/><circle cx="1906.7" cy="198.6" r="4"/><circle cx="1906.4" cy="206.3" r="4"/><circle cx="1906.4" cy="213.8" r="4"/><circle cx="1906.6" cy="221.5" r="4"/><circle cx="1897.7" cy="218.1" r="4"/><circle cx="1887.6" cy="221.2" r="4"/><circle cx="1884" cy="222.9" r="4"/><circle cx="1878.6" cy="215.8" r="4"/><circle cx="1870.1" cy="220" r="4"/><circle cx="1861.8" cy="221.8" r="4"/><circle cx="1856.6" cy="219.2" r="4"/><circle cx="1854.6" cy="216.3" r="4"/><circle cx="1888.1" cy="236" r="4"/><circle cx="1899.4" cy="235.6" r="4"/><circle cx="1907.5" cy="235.3" r="4"/><circle cx="1824.1" cy="242.5" r="4"/><circle cx="1828.7" cy="242.8" r="4"/><circle cx="1846.2" cy="240.7" r="4"/><circle cx="1853.2" cy="240.7" r="4"/><circle cx="1861" cy="239.1" r="4"/><circle cx="1871.5" cy="242.5" r="4"/><circle cx="1880.3" cy="242" r="4"/><circle cx="1886.2" cy="242.3" r="4"/><circle cx="1892.1" cy="241.9" r="4"/><circle cx="1901.6" cy="239.4" r="4"/><circle cx="1824.7" cy="247.8" r="4"/><circle cx="1834.4" cy="247.4" r="4"/><circle cx="1840.1" cy="247.9" r="4"/><circle cx="1848.6" cy="246.6" r="4"/><circle cx="1856.4" cy="247.3" r="4"/><circle cx="1863.8" cy="248.7" r="4"/><circle cx="1876.2" cy="247.4" r="4"/><circle cx="1883" cy="250.1" r="4"/><circle cx="1887.6" cy="246.2" r="4"/><circle cx="1899.4" cy="249.6" r="4"/><circle cx="1906.6" cy="246.3" r="4"/><circle cx="1818" cy="244.3" r="4"/><circle cx="1821.4" cy="241.3" r="4"/><circle cx="1831.4" cy="241" r="4"/><circle cx="1838" cy="243.7" r="4"/><circle cx="1846.9" cy="242.9" r="4"/><circle cx="1851.4" cy="240.5" r="4"/><circle cx="1855" cy="238.2" r="4"/><circle cx="1864.4" cy="238.5" r="4"/><circle cx="1875.5" cy="236" r="4"/><circle cx="1886.5" cy="233.7" r="4"/><circle cx="1897.6" cy="231.5" r="4"/><circle cx="1906.5" cy="231.4" r="4"/><circle cx="1906.4" cy="242.8" r="4"/><circle cx="1906.5" cy="254.3" r="4"/><circle cx="1896" cy="254.1" r="4"/><circle cx="1885.5" cy="253.9" r="4"/><circle cx="1875.1" cy="253.5" r="4"/><circle cx="1865" cy="252.8" r="4"/><circle cx="1855.5" cy="251.6" r="4"/><circle cx="1847.3" cy="251.9" r="4"/><circle cx="1837.4" cy="253" r="4"/><circle cx="1831" cy="253.4" r="4"/><circle cx="1830.2" cy="249.6" r="4"/><circle cx="1824.6" cy="247.7" r="4"/><circle cx="1819.2" cy="246.8" r="4"/><circle cx="1881.9" cy="139.3" r="4"/><circle cx="1890.1" cy="140.3" r="4"/><circle cx="1894.6" cy="137.5" r="4"/><circle cx="1902.4" cy="139.1" r="4"/><circle cx="1906.7" cy="139.2" r="4"/><circle cx="1913.1" cy="139.6" r="4"/><circle cx="1885" cy="142.6" r="4"/><circle cx="1894.1" cy="143.1" r="4"/><circle cx="1897.5" cy="144.9" r="4"/><circle cx="1905" cy="142.3" r="4"/><circle cx="1910.7" cy="144.4" r="4"/><circle cx="1882" cy="148.2" r="4"/><circle cx="1887.8" cy="147.7" r="4"/><circle cx="1897.4" cy="148.5" r="4"/><circle cx="1903.5" cy="148.6" r="4"/><circle cx="1907.9" cy="150.4" r="4"/><circle cx="1886.9" cy="154.6" r="4"/><circle cx="1891.2" cy="152.5" r="4"/><circle cx="1900" cy="154.1" r="4"/><circle cx="1903.3" cy="153.9" r="4"/><circle cx="1909.4" cy="155.3" r="4"/><circle cx="1884.8" cy="157.6" r="4"/><circle cx="1888.6" cy="157.4" r="4"/><circle cx="1896.5" cy="157.7" r="4"/><circle cx="1901.6" cy="157.7" r="4"/><circle cx="1907.4" cy="160" r="4"/><circle cx="1913.6" cy="159.1" r="4"/><circle cx="1886.4" cy="164.2" r="4"/><circle cx="1898.4" cy="163.4" r="4"/><circle cx="1908.8" cy="163.1" r="4"/><circle cx="1881.6" cy="170.5" r="4"/><circle cx="1891.3" cy="169.4" r="4"/><circle cx="1894.9" cy="170" r="4"/><circle cx="1885.5" cy="174.4" r="4"/><circle cx="1890.6" cy="174.1" r="4"/><circle cx="1882.3" cy="179" r="4"/><circle cx="1891" cy="179.1" r="4"/><circle cx="1882.1" cy="137.9" r="4"/><circle cx="1886.5" cy="138.2" r="4"/><circle cx="1890.8" cy="138.4" r="4"/><circle cx="1895" cy="138.5" r="4"/><circle cx="1899.1" cy="138.6" r="4"/><circle cx="1903.3" cy="138.6" r="4"/><circle cx="1907.4" cy="138.5" r="4"/><circle cx="1911.7" cy="138.3" r="4"/><circle cx="1911.4" cy="143.4" r="4"/><circle cx="1911.1" cy="148.5" r="4"/><circle cx="1909.8" cy="153.8" r="4"/><circle cx="1911" cy="156.5" r="4"/><circle cx="1918.6" cy="157.9" r="4"/><circle cx="1915.3" cy="160.8" r="4"/><circle cx="1908.7" cy="162.9" r="4"/><circle cx="1900.8" cy="163.8" r="4"/><circle cx="1901.4" cy="163.7" r="4"/><circle cx="1899" cy="162.4" r="4"/><circle cx="1894.8" cy="162.5" r="4"/><circle cx="1894.7" cy="166" r="4"/><circle cx="1900.3" cy="164.2" r="4"/><circle cx="1900.8" cy="170.2" r="4"/><circle cx="1897.2" cy="175.1" r="4"/><circle cx="1893.1" cy="177.2" r="4"/><circle cx="1892.8" cy="180.2" r="4"/><circle cx="1888.4" cy="183.6" r="4"/><circle cx="1882.4" cy="184" r="4"/><circle cx="1882.7" cy="179.6" r="4"/><circle cx="1883" cy="175.3" r="4"/><circle cx="1883.3" cy="171.2" r="4"/><circle cx="1883.5" cy="167.2" r="4"/><circle cx="1883.6" cy="163.3" r="4"/><circle cx="1883.5" cy="159.4" r="4"/><circle cx="1883.2" cy="155.4" r="4"/><circle cx="1882.9" cy="151.2" r="4"/><circle cx="1882.6" cy="146.9" r="4"/><circle cx="1882.3" cy="142.4" r="4"/><circle cx="1885.4" cy="191.4" r="4"/><circle cx="1890.4" cy="192" r="4"/><circle cx="1885.5" cy="197.9" r="4"/><circle cx="1893.3" cy="197.7" r="4"/><circle cx="1897.6" cy="197.5" r="4"/><circle cx="1905.9" cy="200.1" r="4"/><circle cx="1885.2" cy="203.8" r="4"/><circle cx="1888.4" cy="203.6" r="4"/><circle cx="1895.2" cy="202.1" r="4"/><circle cx="1901.8" cy="203.2" r="4"/><circle cx="1907.8" cy="205.5" r="4"/><circle cx="1883.3" cy="194.7" r="4"/><circle cx="1887.5" cy="192.2" r="4"/><circle cx="1894" cy="194.7" r="4"/><circle cx="1897.6" cy="196.4" r="4"/><circle cx="1900.7" cy="197" r="4"/><circle cx="1904.3" cy="198" r="4"/><circle cx="1910.3" cy="201.3" r="4"/><circle cx="1912.1" cy="203.8" r="4"/><circle cx="1908.2" cy="205.5" r="4"/><circle cx="1903.8" cy="205.5" r="4"/><circle cx="1899.1" cy="203" r="4"/><circle cx="1897.4" cy="203.4" r="4"/><circle cx="1894.5" cy="205" r="4"/><circle cx="1889.5" cy="206.6" r="4"/><circle cx="1883.4" cy="206.5" r="4"/><circle cx="1883.6" cy="202.5" r="4"/><circle cx="1883.5" cy="198.7" r="4"/><circle cx="1882.9" cy="213.6" r="4"/><circle cx="1889.2" cy="213.5" r="4"/><circle cx="1895.1" cy="214.3" r="4"/><circle cx="1900.5" cy="214.2" r="4"/><circle cx="1905.5" cy="212.9" r="4"/><circle cx="1885.8" cy="217.5" r="4"/><circle cx="1893.5" cy="218.1" r="4"/><circle cx="1899.7" cy="220.7" r="4"/><circle cx="1903.5" cy="220.5" r="4"/><circle cx="1911.7" cy="219.6" r="4"/><circle cx="1883.4" cy="213" r="4"/><circle cx="1889.4" cy="212.4" r="4"/><circle cx="1893.5" cy="213.5" r="4"/><circle cx="1896.5" cy="214.6" r="4"/><circle cx="1901.6" cy="213.4" r="4"/><circle cx="1904.9" cy="214.4" r="4"/><circle cx="1908.8" cy="215.7" r="4"/><circle cx="1912" cy="218.1" r="4"/><circle cx="1910.4" cy="220.8" r="4"/><circle cx="1905.6" cy="220.8" r="4"/><circle cx="1901.1" cy="220.5" r="4"/><circle cx="1897.1" cy="219" r="4"/><circle cx="1895.3" cy="219.6" r="4"/><circle cx="1892.1" cy="222.9" r="4"/><circle cx="1888" cy="222.3" r="4"/><circle cx="1883.5" cy="221.4" r="4"/><circle cx="1883.6" cy="217.2" r="4"/><circle cx="1883.6" cy="235.1" r="4"/><circle cx="1896.6" cy="234.7" r="4"/><circle cx="1902.1" cy="232.3" r="4"/><circle cx="1905.6" cy="233.4" r="4"/><circle cx="1887.5" cy="238.1" r="4"/><circle cx="1892.5" cy="238.4" r="4"/><circle cx="1899.9" cy="240.9" r="4"/><circle cx="1904.1" cy="241.1" r="4"/><circle cx="1881.7" cy="245.5" r="4"/><circle cx="1891" cy="242.9" r="4"/><circle cx="1883.5" cy="235.2" r="4"/><circle cx="1888.7" cy="235.6" r="4"/><circle cx="1893.5" cy="236.3" r="4"/><circle cx="1896.4" cy="234" r="4"/><circle cx="1900.2" cy="233.4" r="4"/><circle cx="1905.3" cy="232.4" r="4"/><circle cx="1909.6" cy="234.6" r="4"/><circle cx="1909.5" cy="239" r="4"/><circle cx="1905.1" cy="240.1" r="4"/><circle cx="1901.1" cy="240.8" r="4"/><circle cx="1897.5" cy="240" r="4"/><circle cx="1895.4" cy="240.9" r="4"/><circle cx="1890.5" cy="245.4" r="4"/><circle cx="1883.2" cy="244.9" r="4"/><circle cx="1883.6" cy="240" r="4"/><circle cx="1895.5" cy="250" r="4"/><circle cx="1901.4" cy="249.8" r="4"/><circle cx="1906.6" cy="249" r="4"/><circle cx="1883.6" cy="251.3" r="4"/><circle cx="1889" cy="250.4" r="4"/><circle cx="1894.3" cy="250" r="4"/><circle cx="1897.9" cy="251.2" r="4"/><circle cx="1901.2" cy="248.4" r="4"/><circle cx="1908.8" cy="248.7" r="4"/><circle cx="1909.6" cy="254" r="4"/><circle cx="1905" cy="253.7" r="4"/><circle cx="1900.7" cy="252.9" r="4"/><circle cx="1897.9" cy="251.5" r="4"/><circle cx="1896.4" cy="252.2" r="4"/><circle cx="1892.6" cy="253.3" r="4"/><circle cx="1888.1" cy="253.9" r="4"/><circle cx="1883.5" cy="254.1" r="4"/><circle cx="1950.5" cy="217.2" r="4"/><circle cx="1955.9" cy="216.1" r="4"/><circle cx="1961.4" cy="218.1" r="4"/><circle cx="1979.1" cy="215.2" r="4"/><circle cx="1984.2" cy="215.4" r="4"/><circle cx="1991" cy="216.4" r="4"/><circle cx="1951.6" cy="219.6" r="4"/><circle cx="1957.6" cy="221.5" r="4"/><circle cx="1964.4" cy="222.2" r="4"/><circle cx="1972" cy="221" r="4"/><circle cx="1975.2" cy="222.2" r="4"/><circle cx="1983.8" cy="220.9" r="4"/><circle cx="1989.4" cy="220.5" r="4"/><circle cx="1951" cy="228.3" r="4"/><circle cx="1954.7" cy="226.7" r="4"/><circle cx="1962.7" cy="227.7" r="4"/><circle cx="1967.4" cy="225" r="4"/><circle cx="1974.3" cy="224.9" r="4"/><circle cx="1980.6" cy="224.5" r="4"/><circle cx="1985.6" cy="226.4" r="4"/><circle cx="1990.3" cy="226.4" r="4"/><circle cx="1952.8" cy="231.2" r="4"/><circle cx="1960.4" cy="233.2" r="4"/><circle cx="1966.4" cy="230.7" r="4"/><circle cx="1968.9" cy="231.2" r="4"/><circle cx="1975.3" cy="232.5" r="4"/><circle cx="1981.9" cy="230.2" r="4"/><circle cx="1987.9" cy="231.3" r="4"/><circle cx="1949" cy="237.6" r="4"/><circle cx="1954" cy="235.7" r="4"/><circle cx="1962.5" cy="237.9" r="4"/><circle cx="1966.2" cy="235.1" r="4"/><circle cx="1973.8" cy="237.5" r="4"/><circle cx="1977.9" cy="236.6" r="4"/><circle cx="1984.9" cy="235.2" r="4"/><circle cx="1949.6" cy="218.1" r="4"/><circle cx="1953.2" cy="215.6" r="4"/><circle cx="1959.8" cy="216.2" r="4"/><circle cx="1962.8" cy="218.8" r="4"/><circle cx="1965.4" cy="220.7" r="4"/><circle cx="1969.1" cy="220.2" r="4"/><circle cx="1973.4" cy="218.8" r="4"/><circle cx="1976.9" cy="217.6" r="4"/><circle cx="1983.1" cy="214.9" r="4"/><circle cx="1987.6" cy="216" r="4"/><circle cx="1989.6" cy="221.6" r="4"/><circle cx="1994.4" cy="224.3" r="4"/><circle cx="1992.8" cy="228.5" r="4"/><circle cx="1987.2" cy="231.2" r="4"/><circle cx="1982" cy="235" r="4"/><circle cx="1978.2" cy="235.3" r="4"/><circle cx="1972.2" cy="235.9" r="4"/><circle cx="1967.5" cy="236.5" r="4"/><circle cx="1962.7" cy="235.4" r="4"/><circle cx="1959.8" cy="237.3" r="4"/><circle cx="1956.7" cy="239.8" r="4"/><circle cx="1951.6" cy="238.8" r="4"/><circle cx="1949.6" cy="235.3" r="4"/><circle cx="1949.8" cy="231.2" r="4"/><circle cx="1949.9" cy="227.1" r="4"/><circle cx="1949.8" cy="223" r="4"/><circle cx="1788.8" cy="258.8" r="4"/><circle cx="1786.6" cy="258.1" r="4"/><circle cx="1789.7" cy="258" r="4"/><circle cx="1792" cy="259.1" r="4"/><circle cx="1790.8" cy="260.7" r="4"/><circle cx="1788.1" cy="260.7" r="4"/><circle cx="1828.5" cy="254.4" r="4"/><circle cx="1828.5" cy="253.1" r="4"/><circle cx="1833.7" cy="253.1" r="4"/><circle cx="1833.1" cy="259.6" r="4"/><circle cx="1831.1" cy="260.3" r="4"/><circle cx="1829.5" cy="258.8" r="4"/><circle cx="1851.3" cy="256" r="4"/><circle cx="1845.8" cy="256.8" r="4"/><circle cx="1850.6" cy="254.5" r="4"/><circle cx="1859.5" cy="252.3" r="4"/><circle cx="1859.7" cy="256.2" r="4"/><circle cx="1858.1" cy="260.1" r="4"/><circle cx="1853.9" cy="257.5" r="4"/><circle cx="1848.7" cy="260.3" r="4"/><circle cx="1904.1" cy="295.3" r="4"/><circle cx="1907" cy="297" r="4"/><circle cx="1902.3" cy="295.6" r="4"/><circle cx="1904.3" cy="294.7" r="4"/><circle cx="1907.6" cy="292.7" r="4"/><circle cx="1906.4" cy="296.2" r="4"/><circle cx="1907.5" cy="299.6" r="4"/><circle cx="1904" cy="297.6" r="4"/><circle cx="1902.1" cy="297.3" r="4"/><circle cx="1851.3" cy="343" r="4"/><circle cx="1850.3" cy="341.6" r="4"/><circle cx="1850.7" cy="341.3" r="4"/><circle cx="1851.5" cy="341.1" r="4"/><circle cx="1852" cy="341.8" r="4"/><circle cx="1850.8" cy="342" r="4"/><circle cx="1849.7" cy="342.4" r="4"/><circle cx="1861.8" cy="342.3" r="4"/><circle cx="1862.4" cy="340.9" r="4"/><circle cx="1865.6" cy="340.3" r="4"/><circle cx="1868.6" cy="341.5" r="4"/><circle cx="1867.3" cy="343.3" r="4"/><circle cx="1863.8" cy="343.3" r="4"/><circle cx="1880.3" cy="337.6" r="4"/><circle cx="1879.1" cy="339.7" r="4"/><circle cx="1883.2" cy="339.2" r="4"/><circle cx="1886.5" cy="339.8" r="4"/><circle cx="1886.6" cy="342" r="4"/><circle cx="1883.2" cy="340.8" r="4"/><circle cx="1880" cy="342" r="4"/><circle cx="1902" cy="337.8" r="4"/><circle cx="1901.4" cy="338.8" r="4"/><circle cx="1904.6" cy="338" r="4"/><circle cx="1907.5" cy="335.8" r="4"/><circle cx="1907.3" cy="340.9" r="4"/><circle cx="1903.3" cy="340.4" r="4"/><circle cx="1788.7" cy="339.7" r="4"/><circle cx="1782.4" cy="348" r="4"/><circle cx="1791.8" cy="346.8" r="4"/><circle cx="1779.7" cy="356.9" r="4"/><circle cx="1786.4" cy="353.6" r="4"/><circle cx="1780.2" cy="348.5" r="4"/><circle cx="1784" cy="344.2" r="4"/><circle cx="1789.2" cy="341.3" r="4"/><circle cx="1794.1" cy="343.5" r="4"/><circle cx="1792.1" cy="348.6" r="4"/><circle cx="1791.6" cy="353.3" r="4"/><circle cx="1789.1" cy="356.5" r="4"/><circle cx="1783.8" cy="356.8" r="4"/><circle cx="1780.7" cy="354.6" r="4"/><circle cx="1809.3" cy="348.3" r="4"/><circle cx="1814.8" cy="355" r="4"/><circle cx="1808" cy="351.6" r="4"/><circle cx="1810.7" cy="349.1" r="4"/><circle cx="1813.4" cy="351.3" r="4"/><circle cx="1812.1" cy="356.3" r="4"/><circle cx="1814.2" cy="358.5" r="4"/><circle cx="1815.9" cy="362.5" r="4"/><circle cx="1812.1" cy="363.1" r="4"/><circle cx="1810.9" cy="358.1" r="4"/><circle cx="1810.1" cy="355.6" r="4"/><circle cx="1851.5" cy="351.3" r="4"/><circle cx="1857" cy="353.2" r="4"/><circle cx="1853.9" cy="358.1" r="4"/><circle cx="1862.8" cy="360" r="4"/><circle cx="1853.7" cy="366.1" r="4"/><circle cx="1861.8" cy="368.7" r="4"/><circle cx="1851.8" cy="354.4" r="4"/><circle cx="1854.9" cy="352.1" r="4"/><circle cx="1859.6" cy="353.6" r="4"/><circle cx="1861" cy="357.2" r="4"/><circle cx="1859.9" cy="360.1" r="4"/><circle cx="1866.5" cy="361.4" r="4"/><circle cx="1867.1" cy="365.7" r="4"/><circle cx="1861.9" cy="366.7" r="4"/><circle cx="1851.4" cy="367.4" r="4"/><circle cx="1851.4" cy="360.7" r="4"/><circle cx="1955.4" cy="259" r="4"/><circle cx="1960.4" cy="256.7" r="4"/><circle cx="1966.7" cy="259.3" r="4"/><circle cx="1972.4" cy="259.3" r="4"/><circle cx="1952.5" cy="265.5" r="4"/><circle cx="1957.2" cy="261.6" r="4"/><circle cx="1966.6" cy="263.1" r="4"/><circle cx="1969.6" cy="262.8" r="4"/><circle cx="1976.3" cy="265.3" r="4"/><circle cx="1981.6" cy="262.4" r="4"/><circle cx="1951.6" cy="270" r="4"/><circle cx="1955.2" cy="267.5" r="4"/><circle cx="1963.1" cy="270.6" r="4"/><circle cx="1965.9" cy="269.6" r="4"/><circle cx="1975.3" cy="269.3" r="4"/><circle cx="1978.7" cy="269.9" r="4"/><circle cx="1953.4" cy="272.8" r="4"/><circle cx="1957" cy="273.2" r="4"/><circle cx="1964.1" cy="273.5" r="4"/><circle cx="1971.4" cy="275.2" r="4"/><circle cx="1978.6" cy="275.8" r="4"/><circle cx="1984.8" cy="275" r="4"/><circle cx="1950.3" cy="279.3" r="4"/><circle cx="1956.5" cy="277.5" r="4"/><circle cx="1960.6" cy="280.8" r="4"/><circle cx="1968.2" cy="279.9" r="4"/><circle cx="1972.2" cy="278.7" r="4"/><circle cx="1981.4" cy="279.7" r="4"/><circle cx="1952.6" cy="285.5" r="4"/><circle cx="1958.6" cy="285.4" r="4"/><circle cx="1965" cy="282.8" r="4"/><circle cx="1969.2" cy="286.2" r="4"/><circle cx="1975.3" cy="283.1" r="4"/><circle cx="1982.1" cy="285.1" r="4"/><circle cx="1949.8" cy="290.6" r="4"/><circle cx="1954.9" cy="289" r="4"/><circle cx="1962.3" cy="290" r="4"/><circle cx="1966" cy="287.9" r="4"/><circle cx="1972.4" cy="290.4" r="4"/><circle cx="1980.6" cy="291.4" r="4"/><circle cx="1986.9" cy="288.5" r="4"/><circle cx="1953.9" cy="296.6" r="4"/><circle cx="1958.2" cy="292.7" r="4"/><circle cx="1964.3" cy="293.8" r="4"/><circle cx="1969.5" cy="292.9" r="4"/><circle cx="1951.1" cy="299.1" r="4"/><circle cx="1954.5" cy="299.7" r="4"/><circle cx="1962.6" cy="300" r="4"/><circle cx="1969.2" cy="299.5" r="4"/><circle cx="1951.3" cy="306.2" r="4"/><circle cx="1959.8" cy="306.8" r="4"/><circle cx="1965.6" cy="305.4" r="4"/><circle cx="1969.5" cy="306.5" r="4"/><circle cx="1950.6" cy="310.4" r="4"/><circle cx="1954.8" cy="311.4" r="4"/><circle cx="1962.7" cy="311.6" r="4"/><circle cx="1965.9" cy="310.7" r="4"/><circle cx="1954.1" cy="315" r="4"/><circle cx="1957.6" cy="314.3" r="4"/><circle cx="1964.2" cy="316.2" r="4"/><circle cx="1970.3" cy="316.5" r="4"/><circle cx="1975.1" cy="314.5" r="4"/><circle cx="1948.9" cy="319.4" r="4"/><circle cx="1953.9" cy="320.6" r="4"/><circle cx="1961" cy="320.5" r="4"/><circle cx="1965.8" cy="318.7" r="4"/><circle cx="1973.3" cy="321.7" r="4"/><circle cx="1953.9" cy="324.8" r="4"/><circle cx="1959.2" cy="327.2" r="4"/><circle cx="1965" cy="325.1" r="4"/><circle cx="1969.2" cy="326.1" r="4"/><circle cx="1975.6" cy="325.3" r="4"/><circle cx="1983" cy="327.6" r="4"/><circle cx="1951.2" cy="330.3" r="4"/><circle cx="1955.4" cy="331.8" r="4"/><circle cx="1962" cy="329.9" r="4"/><circle cx="1967.4" cy="332.3" r="4"/><circle cx="1972.8" cy="331.9" r="4"/><circle cx="1978" cy="332.9" r="4"/><circle cx="1986.5" cy="330.3" r="4"/><circle cx="1954.7" cy="337.4" r="4"/><circle cx="1957" cy="335.2" r="4"/><circle cx="1964.8" cy="338.2" r="4"/><circle cx="1969.4" cy="334.4" r="4"/><circle cx="1976.1" cy="334.4" r="4"/><circle cx="1982.4" cy="336.4" r="4"/><circle cx="1949.5" cy="261.3" r="4"/><circle cx="1953.9" cy="258.2" r="4"/><circle cx="1961.4" cy="260" r="4"/><circle cx="1965.1" cy="259.3" r="4"/><circle cx="1969.9" cy="259.7" r="4"/><circle cx="1974.8" cy="260" r="4"/><circle cx="1979.8" cy="263.1" r="4"/><circle cx="1981.9" cy="267.8" r="4"/><circle cx="1977.4" cy="271.2" r="4"/><circle cx="1983.1" cy="274.8" r="4"/><circle cx="1986.6" cy="278.5" r="4"/><circle cx="1982.6" cy="283.3" r="4"/><circle cx="1986.7" cy="288.1" r="4"/><circle cx="1983.3" cy="292.5" r="4"/><circle cx="1976.8" cy="294.9" r="4"/><circle cx="1972.2" cy="296.1" r="4"/><circle cx="1968.2" cy="298.1" r="4"/><circle cx="1965.3" cy="298.2" r="4"/><circle cx="1970.7" cy="302.1" r="4"/><circle cx="1973.2" cy="307.9" r="4"/><circle cx="1975.4" cy="313.9" r="4"/><circle cx="1977.7" cy="316.3" r="4"/><circle cx="1975.8" cy="320.9" r="4"/><circle cx="1980.1" cy="320.4" r="4"/><circle cx="1986.9" cy="323.1" r="4"/><circle cx="1991.6" cy="326.5" r="4"/><circle cx="1988" cy="330.2" r="4"/><circle cx="1983.7" cy="335.6" r="4"/><circle cx="1976.2" cy="335.4" r="4"/><circle cx="1968.8" cy="336.1" r="4"/><circle cx="1961.4" cy="337.7" r="4"/><circle cx="1953.9" cy="337.9" r="4"/><circle cx="1950.2" cy="335.6" r="4"/><circle cx="1949.8" cy="327.7" r="4"/><circle cx="1950.1" cy="321.9" r="4"/><circle cx="1950.4" cy="316.1" r="4"/><circle cx="1949.3" cy="311" r="4"/><circle cx="1953.6" cy="305.1" r="4"/><circle cx="1954.7" cy="299.7" r="4"/><circle cx="1950.6" cy="294.4" r="4"/><circle cx="1949.6" cy="290.3" r="4"/><circle cx="1950.8" cy="286" r="4"/><circle cx="1949.6" cy="280.1" r="4"/><circle cx="1951.6" cy="275.5" r="4"/><circle cx="1949.8" cy="269.3" r="4"/><circle cx="1907.3" cy="295.5" r="4"/><circle cx="1914.1" cy="294.8" r="4"/><circle cx="1902.2" cy="296.1" r="4"/><circle cx="1905.6" cy="294" r="4"/><circle cx="1908.5" cy="294.8" r="4"/><circle cx="1911.4" cy="293" r="4"/><circle cx="1915.3" cy="294.4" r="4"/><circle cx="1913.7" cy="297.5" r="4"/><circle cx="1910.2" cy="297.6" r="4"/><circle cx="1908.5" cy="298.1" r="4"/><circle cx="1904.2" cy="298.4" r="4"/><circle cx="1883.9" cy="339.9" r="4"/><circle cx="1882.6" cy="338.2" r="4"/><circle cx="1884.7" cy="339.6" r="4"/><circle cx="1886.1" cy="340.2" r="4"/><circle cx="1884.8" cy="340.5" r="4"/><circle cx="1882.8" cy="341.4" r="4"/><circle cx="1901.4" cy="337.9" r="4"/><circle cx="1911" cy="339.5" r="4"/><circle cx="1901.4" cy="338.9" r="4"/><circle cx="1905.3" cy="337.2" r="4"/><circle cx="1911" cy="336.1" r="4"/><circle cx="1914.4" cy="337.8" r="4"/><circle cx="1912.2" cy="340.8" r="4"/><circle cx="1906.4" cy="340" r="4"/><circle cx="1902" cy="340.8" r="4"/><circle cx="1854.1" cy="367.8" r="4"/><circle cx="1863.1" cy="366.1" r="4"/><circle cx="1869.9" cy="367.9" r="4"/><circle cx="1874.4" cy="369.4" r="4"/><circle cx="1882.6" cy="367.2" r="4"/><circle cx="1823.1" cy="373.3" r="4"/><circle cx="1834.8" cy="375.7" r="4"/><circle cx="1842.4" cy="377.8" r="4"/><circle cx="1848.8" cy="374.9" r="4"/><circle cx="1856.2" cy="374.3" r="4"/><circle cx="1865.3" cy="377.8" r="4"/><circle cx="1872.8" cy="376.7" r="4"/><circle cx="1889.7" cy="375.7" r="4"/><circle cx="1806.6" cy="382.1" r="4"/><circle cx="1813.7" cy="381.2" r="4"/><circle cx="1821.2" cy="381" r="4"/><circle cx="1830.2" cy="383.9" r="4"/><circle cx="1834.4" cy="383.2" r="4"/><circle cx="1842.8" cy="384.6" r="4"/><circle cx="1851.2" cy="380.5" r="4"/><circle cx="1862.8" cy="382.9" r="4"/><circle cx="1866.4" cy="382.2" r="4"/><circle cx="1878.4" cy="380.7" r="4"/><circle cx="1800.5" cy="388.8" r="4"/><circle cx="1806.6" cy="388.7" r="4"/><circle cx="1816.9" cy="389.9" r="4"/><circle cx="1825" cy="387.6" r="4"/><circle cx="1833.3" cy="388.2" r="4"/><circle cx="1850.2" cy="387.2" r="4"/><circle cx="1857.1" cy="388.5" r="4"/><circle cx="1864.6" cy="390.2" r="4"/><circle cx="1874.3" cy="386.8" r="4"/><circle cx="1806.7" cy="394.5" r="4"/><circle cx="1812.6" cy="394.9" r="4"/><circle cx="1822.4" cy="395.2" r="4"/><circle cx="1827.5" cy="398.7" r="4"/><circle cx="1816.3" cy="401.9" r="4"/><circle cx="1823.4" cy="403.4" r="4"/><circle cx="1832.8" cy="402.6" r="4"/><circle cx="1818.9" cy="409.5" r="4"/><circle cx="1830.1" cy="409.9" r="4"/><circle cx="1822.1" cy="375.6" r="4"/><circle cx="1827" cy="373.1" r="4"/><circle cx="1836" cy="377.1" r="4"/><circle cx="1840.6" cy="380.8" r="4"/><circle cx="1843.7" cy="379.2" r="4"/><circle cx="1848.2" cy="371.4" r="4"/><circle cx="1856.4" cy="367.6" r="4"/><circle cx="1867.4" cy="367" r="4"/><circle cx="1878.6" cy="366.6" r="4"/><circle cx="1889.9" cy="366.3" r="4"/><circle cx="1889.8" cy="370.4" r="4"/><circle cx="1886.4" cy="377.8" r="4"/><circle cx="1879.8" cy="376.8" r="4"/><circle cx="1875.4" cy="378.9" r="4"/><circle cx="1876.4" cy="383" r="4"/><circle cx="1873.1" cy="390.1" r="4"/><circle cx="1862.1" cy="390.8" r="4"/><circle cx="1853.2" cy="388.5" r="4"/><circle cx="1844.4" cy="387" r="4"/><circle cx="1842" cy="385.1" r="4"/><circle cx="1839.1" cy="385.4" r="4"/><circle cx="1837" cy="388.1" r="4"/><circle cx="1835.6" cy="397.2" r="4"/><circle cx="1835.2" cy="405.9" r="4"/><circle cx="1831.2" cy="410.5" r="4"/><circle cx="1821" cy="411" r="4"/><circle cx="1817.1" cy="404.9" r="4"/><circle cx="1817.5" cy="397.7" r="4"/><circle cx="1813.3" cy="395.9" r="4"/><circle cx="1805.7" cy="391.1" r="4"/><circle cx="1798" cy="388.1" r="4"/><circle cx="1796.9" cy="383" r="4"/><circle cx="1802.5" cy="379.9" r="4"/><circle cx="1809.1" cy="377" r="4"/><circle cx="1817.8" cy="378.3" r="4"/><circle cx="1787.6" cy="398.2" r="4"/><circle cx="1790.4" cy="403.6" r="4"/><circle cx="1771.8" cy="412.6" r="4"/><circle cx="1777.4" cy="411.7" r="4"/><circle cx="1788.1" cy="409.6" r="4"/><circle cx="1792.3" cy="410.1" r="4"/><circle cx="1789.3" cy="419" r="4"/><circle cx="1793.8" cy="423.4" r="4"/><circle cx="1770.2" cy="407.9" r="4"/><circle cx="1775.3" cy="405.7" r="4"/><circle cx="1782.2" cy="409.8" r="4"/><circle cx="1784" cy="407.4" r="4"/><circle cx="1785.4" cy="396.4" r="4"/><circle cx="1788.7" cy="400.6" r="4"/><circle cx="1794" cy="402.9" r="4"/><circle cx="1794.3" cy="408.2" r="4"/><circle cx="1797.6" cy="413.3" r="4"/><circle cx="1797.1" cy="419.6" r="4"/><circle cx="1792.6" cy="424.1" r="4"/><circle cx="1786.3" cy="423.6" r="4"/><circle cx="1783.1" cy="417.1" r="4"/><circle cx="1781.8" cy="412.9" r="4"/><circle cx="1775.5" cy="414.7" r="4"/><circle cx="1771.4" cy="411.5" r="4"/><circle cx="1816.6" cy="418.7" r="4"/><circle cx="1815.5" cy="422.1" r="4"/><circle cx="1817.8" cy="420.6" r="4"/><circle cx="1819.8" cy="423.5" r="4"/><circle cx="1822.4" cy="425.5" r="4"/><circle cx="1819.8" cy="426" r="4"/><circle cx="1817.9" cy="424" r="4"/><circle cx="1709.3" cy="421.2" r="4"/><circle cx="1715.2" cy="422.4" r="4"/><circle cx="1720.8" cy="421.6" r="4"/><circle cx="1725.8" cy="422" r="4"/><circle cx="1705.7" cy="427" r="4"/><circle cx="1711.9" cy="428.2" r="4"/><circle cx="1716" cy="428.2" r="4"/><circle cx="1721.4" cy="427.6" r="4"/><circle cx="1729.5" cy="428.8" r="4"/><circle cx="1737.2" cy="428.6" r="4"/><circle cx="1701.4" cy="434.3" r="4"/><circle cx="1710" cy="431.6" r="4"/><circle cx="1715.5" cy="432.5" r="4"/><circle cx="1719.1" cy="433.1" r="4"/><circle cx="1726.1" cy="432.4" r="4"/><circle cx="1704.9" cy="437.4" r="4"/><circle cx="1712.3" cy="437.5" r="4"/><circle cx="1718.4" cy="436.6" r="4"/><circle cx="1724.8" cy="438.2" r="4"/><circle cx="1731.1" cy="439.7" r="4"/><circle cx="1703.9" cy="444" r="4"/><circle cx="1707.8" cy="445.3" r="4"/><circle cx="1716.4" cy="442.6" r="4"/><circle cx="1719" cy="443.5" r="4"/><circle cx="1727" cy="442.3" r="4"/><circle cx="1732.7" cy="443.9" r="4"/><circle cx="1739.6" cy="442.3" r="4"/><circle cx="1704" cy="449" r="4"/><circle cx="1712.4" cy="449.2" r="4"/><circle cx="1718.4" cy="447.9" r="4"/><circle cx="1721.5" cy="449.6" r="4"/><circle cx="1730" cy="447" r="4"/><circle cx="1733.7" cy="449.7" r="4"/><circle cx="1742.1" cy="447.7" r="4"/><circle cx="1706.5" cy="453.3" r="4"/><circle cx="1713.4" cy="452.2" r="4"/><circle cx="1720.5" cy="455.8" r="4"/><circle cx="1724.7" cy="454.8" r="4"/><circle cx="1732.9" cy="453.2" r="4"/><circle cx="1739" cy="455.2" r="4"/><circle cx="1711.9" cy="459" r="4"/><circle cx="1716.1" cy="458.9" r="4"/><circle cx="1724.2" cy="459.6" r="4"/><circle cx="1728.7" cy="458.4" r="4"/><circle cx="1734.1" cy="459.9" r="4"/><circle cx="1742.5" cy="458.2" r="4"/><circle cx="1707.1" cy="464.8" r="4"/><circle cx="1713.9" cy="464.2" r="4"/><circle cx="1718.6" cy="464.5" r="4"/><circle cx="1726.3" cy="463.4" r="4"/><circle cx="1732.9" cy="463.4" r="4"/><circle cx="1737.8" cy="462.9" r="4"/><circle cx="1706.9" cy="469.9" r="4"/><circle cx="1713" cy="469" r="4"/><circle cx="1718.5" cy="470.3" r="4"/><circle cx="1721.6" cy="471.3" r="4"/><circle cx="1729.4" cy="469" r="4"/><circle cx="1734.9" cy="468.8" r="4"/><circle cx="1742.5" cy="469.4" r="4"/><circle cx="1702.1" cy="474.6" r="4"/><circle cx="1709.1" cy="475.2" r="4"/><circle cx="1713.3" cy="475.2" r="4"/><circle cx="1722.3" cy="474.3" r="4"/><circle cx="1727.8" cy="476.2" r="4"/><circle cx="1732.2" cy="476.8" r="4"/><circle cx="1737.4" cy="473.8" r="4"/><circle cx="1705" cy="478.5" r="4"/><circle cx="1709.7" cy="479.5" r="4"/><circle cx="1717.3" cy="480.4" r="4"/><circle cx="1724.9" cy="480.3" r="4"/><circle cx="1729.5" cy="478.1" r="4"/><circle cx="1733.4" cy="480.1" r="4"/><circle cx="1705.5" cy="427.8" r="4"/><circle cx="1711.4" cy="423.9" r="4"/><circle cx="1715.7" cy="423.7" r="4"/><circle cx="1720" cy="423.4" r="4"/><circle cx="1724.2" cy="423" r="4"/><circle cx="1727.6" cy="425.7" r="4"/><circle cx="1730.9" cy="428.4" r="4"/><circle cx="1735.7" cy="431.2" r="4"/><circle cx="1730.5" cy="434.9" r="4"/><circle cx="1727.4" cy="439.4" r="4"/><circle cx="1730.4" cy="441" r="4"/><circle cx="1733.7" cy="442.5" r="4"/><circle cx="1740.9" cy="445.7" r="4"/><circle cx="1738.6" cy="451.3" r="4"/><circle cx="1742.1" cy="454.2" r="4"/><circle cx="1738" cy="458.7" r="4"/><circle cx="1738.6" cy="465.7" r="4"/><circle cx="1744.1" cy="469.3" r="4"/><circle cx="1743.3" cy="474.4" r="4"/><circle cx="1739.2" cy="475.9" r="4"/><circle cx="1735.2" cy="477.3" r="4"/><circle cx="1741.5" cy="481.9" r="4"/><circle cx="1737.1" cy="481.7" r="4"/><circle cx="1732.8" cy="481.6" r="4"/><circle cx="1728.6" cy="481.5" r="4"/><circle cx="1724.4" cy="481.4" r="4"/><circle cx="1720.1" cy="481.4" r="4"/><circle cx="1715.9" cy="481.5" r="4"/><circle cx="1711.6" cy="481.6" r="4"/><circle cx="1707.3" cy="481.7" r="4"/><circle cx="1703" cy="481.9" r="4"/><circle cx="1703.3" cy="475.5" r="4"/><circle cx="1703.6" cy="469.1" r="4"/><circle cx="1706.1" cy="462.7" r="4"/><circle cx="1709.8" cy="457.5" r="4"/><circle cx="1706.9" cy="451.3" r="4"/><circle cx="1705.7" cy="445.8" r="4"/><circle cx="1704.3" cy="440" r="4"/><circle cx="1702" cy="437.9" r="4"/><circle cx="1701.8" cy="433.9" r="4"/><circle cx="1704.8" cy="433" r="4"/><circle cx="1703.9" cy="433.1" r="4"/><circle cx="1711.4" cy="434.1" r="4"/><circle cx="1716.1" cy="432.9" r="4"/><circle cx="1721.8" cy="434.8" r="4"/><circle cx="1728.3" cy="435" r="4"/><circle cx="1733.4" cy="431.5" r="4"/><circle cx="1740.8" cy="433.2" r="4"/><circle cx="1748.1" cy="435" r="4"/><circle cx="1709" cy="438.5" r="4"/><circle cx="1713.1" cy="438" r="4"/><circle cx="1718.1" cy="439.5" r="4"/><circle cx="1724.3" cy="437.4" r="4"/><circle cx="1732.6" cy="439.2" r="4"/><circle cx="1704.8" cy="442.6" r="4"/><circle cx="1712.8" cy="444.9" r="4"/><circle cx="1716" cy="444.7" r="4"/><circle cx="1723.9" cy="442.3" r="4"/><circle cx="1730.3" cy="444.8" r="4"/><circle cx="1735" cy="445.7" r="4"/><circle cx="1739.5" cy="442" r="4"/><circle cx="1708.5" cy="448.6" r="4"/><circle cx="1712.6" cy="450.4" r="4"/><circle cx="1721.7" cy="449.3" r="4"/><circle cx="1725" cy="449.3" r="4"/><circle cx="1732.7" cy="449.2" r="4"/><circle cx="1739.3" cy="448" r="4"/><circle cx="1710.2" cy="455.2" r="4"/><circle cx="1716" cy="454.3" r="4"/><circle cx="1721.9" cy="455.5" r="4"/><circle cx="1727.7" cy="456" r="4"/><circle cx="1734.5" cy="453.4" r="4"/><circle cx="1739.3" cy="453.1" r="4"/><circle cx="1745.4" cy="453.2" r="4"/><circle cx="1713.9" cy="461" r="4"/><circle cx="1719.9" cy="458.9" r="4"/><circle cx="1726.8" cy="458" r="4"/><circle cx="1730.8" cy="459.6" r="4"/><circle cx="1739.4" cy="459.3" r="4"/><circle cx="1709.9" cy="466.1" r="4"/><circle cx="1715.9" cy="464" r="4"/><circle cx="1724.9" cy="464.2" r="4"/><circle cx="1730.9" cy="466" r="4"/><circle cx="1735" cy="464.5" r="4"/><circle cx="1739.2" cy="464.2" r="4"/><circle cx="1700.4" cy="471.2" r="4"/><circle cx="1709.9" cy="471.4" r="4"/><circle cx="1714.2" cy="470.6" r="4"/><circle cx="1719.5" cy="468" r="4"/><circle cx="1725.8" cy="470.9" r="4"/><circle cx="1730.5" cy="469.8" r="4"/><circle cx="1736.3" cy="468.4" r="4"/><circle cx="1745.5" cy="468" r="4"/><circle cx="1698.2" cy="476.8" r="4"/><circle cx="1704.9" cy="475.3" r="4"/><circle cx="1712.7" cy="475.7" r="4"/><circle cx="1715.6" cy="474.4" r="4"/><circle cx="1724.4" cy="474.3" r="4"/><circle cx="1727.5" cy="474.3" r="4"/><circle cx="1734.2" cy="475" r="4"/><circle cx="1739.7" cy="476.4" r="4"/><circle cx="1702.2" cy="479.2" r="4"/><circle cx="1708.7" cy="479.3" r="4"/><circle cx="1712.1" cy="478.3" r="4"/><circle cx="1718.2" cy="479.4" r="4"/><circle cx="1727" cy="480.2" r="4"/><circle cx="1731.6" cy="478.9" r="4"/><circle cx="1739.5" cy="482" r="4"/><circle cx="1742.6" cy="479.7" r="4"/><circle cx="1705.4" cy="483.5" r="4"/><circle cx="1709.1" cy="486.2" r="4"/><circle cx="1716.8" cy="484.9" r="4"/><circle cx="1724.5" cy="483.6" r="4"/><circle cx="1731" cy="487.1" r="4"/><circle cx="1735.1" cy="485.2" r="4"/><circle cx="1739.7" cy="486.1" r="4"/><circle cx="1702.8" cy="489" r="4"/><circle cx="1707.6" cy="492.5" r="4"/><circle cx="1712.9" cy="492.6" r="4"/><circle cx="1719.5" cy="491.7" r="4"/><circle cx="1727.5" cy="489.1" r="4"/><circle cx="1733.8" cy="489.3" r="4"/><circle cx="1737.2" cy="490.5" r="4"/><circle cx="1744" cy="492.5" r="4"/><circle cx="1748.7" cy="491.1" r="4"/><circle cx="1710.5" cy="497.4" r="4"/><circle cx="1717" cy="497.2" r="4"/><circle cx="1721.6" cy="495.4" r="4"/><circle cx="1730.1" cy="497.8" r="4"/><circle cx="1733.5" cy="496" r="4"/><circle cx="1741.9" cy="497.2" r="4"/><circle cx="1748.1" cy="495.5" r="4"/><circle cx="1718.8" cy="502.6" r="4"/><circle cx="1726.2" cy="502.2" r="4"/><circle cx="1733.5" cy="502" r="4"/><circle cx="1736.3" cy="501.7" r="4"/><circle cx="1743.5" cy="500.1" r="4"/><circle cx="1704" cy="508" r="4"/><circle cx="1712.8" cy="506.2" r="4"/><circle cx="1716" cy="507.9" r="4"/><circle cx="1721.3" cy="506.4" r="4"/><circle cx="1727.2" cy="507.7" r="4"/><circle cx="1736" cy="505.4" r="4"/><circle cx="1739.1" cy="504.6" r="4"/><circle cx="1703.9" cy="433.2" r="4"/><circle cx="1708.6" cy="433.3" r="4"/><circle cx="1713.4" cy="433.5" r="4"/><circle cx="1718.1" cy="433.6" r="4"/><circle cx="1722.8" cy="433.6" r="4"/><circle cx="1727.5" cy="433.6" r="4"/><circle cx="1731.9" cy="433.5" r="4"/><circle cx="1736.3" cy="433.4" r="4"/><circle cx="1740.8" cy="433.3" r="4"/><circle cx="1745.9" cy="434.8" r="4"/><circle cx="1751.1" cy="436.2" r="4"/><circle cx="1747.9" cy="439.6" r="4"/><circle cx="1742.6" cy="439.8" r="4"/><circle cx="1737.5" cy="440" r="4"/><circle cx="1732.4" cy="440.2" r="4"/><circle cx="1737.3" cy="443.3" r="4"/><circle cx="1742.3" cy="446.2" r="4"/><circle cx="1742.6" cy="451" r="4"/><circle cx="1742.9" cy="455.7" r="4"/><circle cx="1740.5" cy="459.4" r="4"/><circle cx="1738.1" cy="463" r="4"/><circle cx="1740.5" cy="466.2" r="4"/><circle cx="1743.1" cy="469.4" r="4"/><circle cx="1743.1" cy="474" r="4"/><circle cx="1739.9" cy="477.7" r="4"/><circle cx="1743.5" cy="481.7" r="4"/><circle cx="1746" cy="488.9" r="4"/><circle cx="1745.4" cy="496.2" r="4"/><circle cx="1743" cy="499.8" r="4"/><circle cx="1740.5" cy="503.5" r="4"/><circle cx="1736.5" cy="505" r="4"/><circle cx="1732.4" cy="506.5" r="4"/><circle cx="1727.4" cy="507.5" r="4"/><circle cx="1722.4" cy="508.6" r="4"/><circle cx="1717.3" cy="509.8" r="4"/><circle cx="1712.1" cy="511" r="4"/><circle cx="1708.1" cy="509.4" r="4"/><circle cx="1703.9" cy="508" r="4"/><circle cx="1705.2" cy="502.5" r="4"/><circle cx="1709.9" cy="501.2" r="4"/><circle cx="1714.5" cy="499.9" r="4"/><circle cx="1717.6" cy="495.4" r="4"/><circle cx="1713.2" cy="494.5" r="4"/><circle cx="1708.8" cy="493.7" r="4"/><circle cx="1702.8" cy="489.9" r="4"/><circle cx="1703.1" cy="483.8" r="4"/><circle cx="1701.2" cy="479" r="4"/><circle cx="1699.2" cy="474.1" r="4"/><circle cx="1703.5" cy="468.4" r="4"/><circle cx="1709.8" cy="464" r="4"/><circle cx="1710.4" cy="459.2" r="4"/><circle cx="1704.7" cy="452.6" r="4"/><circle cx="1705.4" cy="446.2" r="4"/><circle cx="1704.1" cy="439.8" r="4"/><circle cx="1720.6" cy="525.3" r="4"/><circle cx="1723.3" cy="524" r="4"/><circle cx="1732.3" cy="524.4" r="4"/><circle cx="1734.9" cy="526.2" r="4"/><circle cx="1741.3" cy="525.2" r="4"/><circle cx="1710.3" cy="529.6" r="4"/><circle cx="1717.6" cy="528.5" r="4"/><circle cx="1722.2" cy="528.3" r="4"/><circle cx="1729.7" cy="528.4" r="4"/><circle cx="1733.9" cy="531.1" r="4"/><circle cx="1741.3" cy="528.2" r="4"/><circle cx="1708.3" cy="536.4" r="4"/><circle cx="1712.1" cy="536" r="4"/><circle cx="1717.7" cy="533.6" r="4"/><circle cx="1723.5" cy="534.2" r="4"/><circle cx="1732.1" cy="534.8" r="4"/><circle cx="1738.8" cy="536.6" r="4"/><circle cx="1741.6" cy="534.7" r="4"/><circle cx="1708.1" cy="540.5" r="4"/><circle cx="1716.2" cy="540.5" r="4"/><circle cx="1720.2" cy="540.6" r="4"/><circle cx="1726.2" cy="541.6" r="4"/><circle cx="1733.6" cy="538.6" r="4"/><circle cx="1741.7" cy="542" r="4"/><circle cx="1706.1" cy="547.1" r="4"/><circle cx="1711.9" cy="545.5" r="4"/><circle cx="1719.1" cy="546.5" r="4"/><circle cx="1723.1" cy="543.5" r="4"/><circle cx="1729.4" cy="544.9" r="4"/><circle cx="1738" cy="546.3" r="4"/><circle cx="1741.2" cy="546.3" r="4"/><circle cx="1708.6" cy="548.7" r="4"/><circle cx="1715.7" cy="552.2" r="4"/><circle cx="1723.4" cy="550.3" r="4"/><circle cx="1729" cy="549.4" r="4"/><circle cx="1732.4" cy="552.4" r="4"/><circle cx="1740.5" cy="549.3" r="4"/><circle cx="1711" cy="554.5" r="4"/><circle cx="1720" cy="554.7" r="4"/><circle cx="1724.5" cy="555.5" r="4"/><circle cx="1730.7" cy="555" r="4"/><circle cx="1735.8" cy="557" r="4"/><circle cx="1717.2" cy="560.2" r="4"/><circle cx="1723" cy="560.2" r="4"/><circle cx="1727.4" cy="561.7" r="4"/><circle cx="1733.5" cy="561.1" r="4"/><circle cx="1737.9" cy="562.4" r="4"/><circle cx="1712.7" cy="566.7" r="4"/><circle cx="1720.5" cy="564.3" r="4"/><circle cx="1726.5" cy="566.5" r="4"/><circle cx="1729" cy="565.6" r="4"/><circle cx="1737.7" cy="564.6" r="4"/><circle cx="1710.1" cy="569.5" r="4"/><circle cx="1713.9" cy="573.2" r="4"/><circle cx="1720.5" cy="570.1" r="4"/><circle cx="1728.1" cy="569.4" r="4"/><circle cx="1734.7" cy="572.4" r="4"/><circle cx="1739.1" cy="571.8" r="4"/><circle cx="1711.9" cy="529.8" r="4"/><circle cx="1717.3" cy="527.8" r="4"/><circle cx="1722.7" cy="525.8" r="4"/><circle cx="1727.6" cy="525.4" r="4"/><circle cx="1732.6" cy="525" r="4"/><circle cx="1737.6" cy="524.5" r="4"/><circle cx="1741.5" cy="527.5" r="4"/><circle cx="1742.8" cy="532.2" r="4"/><circle cx="1744" cy="536.8" r="4"/><circle cx="1741.4" cy="543.1" r="4"/><circle cx="1742.2" cy="547.8" r="4"/><circle cx="1739.7" cy="552.4" r="4"/><circle cx="1738.1" cy="555.8" r="4"/><circle cx="1736.9" cy="559.3" r="4"/><circle cx="1739.5" cy="564.4" r="4"/><circle cx="1744.1" cy="570.8" r="4"/><circle cx="1742.3" cy="574.9" r="4"/><circle cx="1737.2" cy="575.1" r="4"/><circle cx="1732.4" cy="575.4" r="4"/><circle cx="1727.5" cy="575.3" r="4"/><circle cx="1722.8" cy="575.3" r="4"/><circle cx="1717.9" cy="575" r="4"/><circle cx="1713" cy="574.7" r="4"/><circle cx="1705.9" cy="572" r="4"/><circle cx="1709.3" cy="568.7" r="4"/><circle cx="1712.7" cy="565.4" r="4"/><circle cx="1712.2" cy="559.6" r="4"/><circle cx="1710.2" cy="556.1" r="4"/><circle cx="1709.2" cy="550.5" r="4"/><circle cx="1707.9" cy="546.7" r="4"/><circle cx="1706.5" cy="542.8" r="4"/><circle cx="1709.3" cy="536.9" r="4"/><circle cx="1709.1" cy="422.1" r="4"/><circle cx="1715" cy="420.8" r="4"/><circle cx="1721.7" cy="421.6" r="4"/><circle cx="1727.9" cy="421.9" r="4"/><circle cx="1706.4" cy="427" r="4"/><circle cx="1710" cy="427.6" r="4"/><circle cx="1715.9" cy="428" r="4"/><circle cx="1725.2" cy="425.4" r="4"/><circle cx="1730.7" cy="427.4" r="4"/><circle cx="1734.3" cy="427.2" r="4"/><circle cx="1695.3" cy="433.3" r="4"/><circle cx="1703.6" cy="433.6" r="4"/><circle cx="1707" cy="431" r="4"/><circle cx="1715.3" cy="432.1" r="4"/><circle cx="1719.5" cy="433.2" r="4"/><circle cx="1728.2" cy="430.9" r="4"/><circle cx="1731.4" cy="432.4" r="4"/><circle cx="1699.8" cy="436.5" r="4"/><circle cx="1703.9" cy="435.4" r="4"/><circle cx="1711.6" cy="437.8" r="4"/><circle cx="1717.5" cy="437.9" r="4"/><circle cx="1724" cy="438.4" r="4"/><circle cx="1730.4" cy="436.2" r="4"/><circle cx="1734.4" cy="435.2" r="4"/><circle cx="1704.3" cy="443.1" r="4"/><circle cx="1707.2" cy="442.7" r="4"/><circle cx="1713.3" cy="443.6" r="4"/><circle cx="1721.4" cy="443.1" r="4"/><circle cx="1727.2" cy="441.8" r="4"/><circle cx="1734.2" cy="443.9" r="4"/><circle cx="1737.8" cy="441.8" r="4"/><circle cx="1696.9" cy="434.3" r="4"/><circle cx="1701.4" cy="430.6" r="4"/><circle cx="1704.5" cy="427.9" r="4"/><circle cx="1707.3" cy="425.4" r="4"/><circle cx="1712.1" cy="424" r="4"/><circle cx="1716.4" cy="422.4" r="4"/><circle cx="1723.2" cy="421.2" r="4"/><circle cx="1727.3" cy="425.7" r="4"/><circle cx="1730.7" cy="427.2" r="4"/><circle cx="1734.3" cy="428.8" r="4"/><circle cx="1729.7" cy="432.5" r="4"/><circle cx="1732" cy="435.5" r="4"/><circle cx="1734.4" cy="438.8" r="4"/><circle cx="1741" cy="442" r="4"/><circle cx="1741.4" cy="448" r="4"/><circle cx="1736.9" cy="447.8" r="4"/><circle cx="1732.5" cy="447.4" r="4"/><circle cx="1728.3" cy="447.1" r="4"/><circle cx="1724.3" cy="446.7" r="4"/><circle cx="1720.5" cy="446.4" r="4"/><circle cx="1716.8" cy="446.4" r="4"/><circle cx="1713" cy="446.7" r="4"/><circle cx="1709" cy="447.1" r="4"/><circle cx="1704.7" cy="447.4" r="4"/><circle cx="1704.7" cy="442.5" r="4"/><circle cx="1704.5" cy="437.8" r="4"/><circle cx="1699.1" cy="437.1" r="4"/><circle cx="1770.9" cy="405.5" r="4"/><circle cx="1770.1" cy="409" r="4"/><circle cx="1772.1" cy="407.8" r="4"/><circle cx="1776.9" cy="407.5" r="4"/><circle cx="1777.2" cy="413.4" r="4"/><circle cx="1772.6" cy="412" r="4"/><circle cx="1770.2" cy="410.5" r="4"/><circle cx="1866.1" cy="63.3" r="4"/><circle cx="1994.7" cy="93.9" r="4"/><circle cx="1808.3" cy="181.1" r="4"/><circle cx="1823.9" cy="181.1" r="4"/><circle cx="1835" cy="178.9" r="4"/><circle cx="1907.8" cy="176.7" r="4"/><circle cx="1909.9" cy="176.6" r="4"/><circle cx="1917.2" cy="157.2" r="4"/><circle cx="1954.3" cy="251.4" r="4"/><circle cx="1874.4" cy="256.7" r="4"/><circle cx="1883.3" cy="253.9" r="4"/><circle cx="1901.1" cy="251.1" r="4"/><circle cx="1907.8" cy="251.1" r="4"/><circle cx="1822.8" cy="356.1" r="4"/><circle cx="1889.4" cy="365.6" r="4"/><circle cx="1906.7" cy="251.6" r="4"/><circle cx="1900.2" cy="251.6" r="4"/><circle cx="1883.2" cy="254" r="4"/><circle cx="1954.3" cy="252.4" r="4"/><circle cx="1982.6" cy="326.4" r="4"/><circle cx="1989.9" cy="329.2" r="4"/><circle cx="1982.6" cy="335.7" r="4"/><circle cx="1888.9" cy="365.6" r="4"/><circle cx="1897.8" cy="387.2" r="4"/><circle cx="1846.7" cy="405" r="4"/><circle cx="1816.7" cy="477.8" r="4"/><circle cx="1847.8" cy="477.2" r="4"/><circle cx="1858.9" cy="477.2" r="4"/><circle cx="1864.4" cy="475.6" r="4"/><circle cx="1870" cy="477.2" r="4"/><circle cx="1889.4" cy="474.4" r="4"/><circle cx="1745" cy="429.4" r="4"/><circle cx="1750" cy="433.9" r="4"/><circle cx="1697.8" cy="434.4" r="4"/><circle cx="1888.9" cy="366.6" r="4"/><circle cx="1887.3" cy="371.5" r="4"/><circle cx="1883.2" cy="373.1" r="4"/><circle cx="1888.1" cy="374.7" r="4"/><circle cx="1948.7" cy="417.9" r="4"/><circle cx="1951.1" cy="420.8" r="4"/><circle cx="1956" cy="420.8" r="4"/><circle cx="1959.2" cy="421.6" r="4"/><circle cx="1961.6" cy="418.7" r="4"/><circle cx="1966.5" cy="420.8" r="4"/><circle cx="1981.4" cy="417.9" r="4"/><circle cx="1628.9" cy="462.2" r="4"/><circle cx="1643.3" cy="462.2" r="4"/><circle cx="1654.4" cy="461.1" r="4"/><circle cx="1678.3" cy="457.2" r="4"/><circle cx="1683.3" cy="463.9" r="4"/><circle cx="1816.1" cy="478.3" r="4"/><circle cx="1787.8" cy="497.8" r="4"/><circle cx="1791.7" cy="499.4" r="4"/><circle cx="1742.8" cy="517.2" r="4"/><circle cx="1610.6" cy="519.4" r="4"/><circle cx="1697.8" cy="434.4" r="4"/><circle cx="1750" cy="433.9" r="4"/><circle cx="1644.4" cy="490.6" r="4"/><circle cx="1836.2" cy="495.4" r="4"/><circle cx="1850.7" cy="495" r="4"/><circle cx="1848.2" cy="499.6" r="4"/><circle cx="1862.7" cy="495.4" r="4"/><circle cx="1877.2" cy="497.8" r="4"/><circle cx="1886" cy="497.8" r="4"/><circle cx="1862.7" cy="505.3" r="4"/><circle cx="1853.1" cy="506.3" r="4"/><circle cx="1848.2" cy="575.3" r="4"/><circle cx="1346.1" cy="522.4" r="4"/><circle cx="1377.6" cy="517" r="4"/><circle cx="1380" cy="521.8" r="4"/><circle cx="1387.3" cy="522.4" r="4"/><circle cx="1390.9" cy="517" r="4"/><circle cx="1398.2" cy="522.4" r="4"/><circle cx="1403" cy="520" r="4"/><circle cx="1406.1" cy="523.6" r="4"/><circle cx="1419.4" cy="515.8" r="4"/><circle cx="1422.2" cy="516.1" r="4"/><circle cx="1430" cy="515" r="4"/><circle cx="1439.4" cy="515" r="4"/><circle cx="1463.9" cy="514.4" r="4"/><circle cx="1473.3" cy="513.3" r="4"/><circle cx="1483.3" cy="511.1" r="4"/><circle cx="1487.8" cy="514.4" r="4"/><circle cx="1480" cy="515.6" r="4"/><circle cx="1476.7" cy="523.3" r="4"/><circle cx="1485.6" cy="520" r="4"/><circle cx="1490" cy="521.7" r="4"/><circle cx="1501.7" cy="513.3" r="4"/><circle cx="1512.2" cy="513.9" r="4"/><circle cx="1532.8" cy="511.1" r="4"/><circle cx="1542.8" cy="511.1" r="4"/><circle cx="1546.1" cy="518.9" r="4"/><circle cx="1556.7" cy="512.2" r="4"/><circle cx="1564.4" cy="511.1" r="4"/><circle cx="1560" cy="520" r="4"/><circle cx="1564.4" cy="518.9" r="4"/><circle cx="1577.8" cy="512.2" r="4"/><circle cx="1585" cy="509.4" r="4"/><circle cx="1576.7" cy="518.9" r="4"/><circle cx="1586.7" cy="517.2" r="4"/><circle cx="1610.6" cy="520" r="4"/><circle cx="1627.8" cy="462.8" r="4"/><circle cx="1744.4" cy="428.9" r="4"/><circle cx="1750.6" cy="433.9" r="4"/><circle cx="1415.2" cy="577.6" r="4"/><circle cx="1417.6" cy="577.6" r="4"/><circle cx="1437" cy="577.6" r="4"/><circle cx="1500" cy="576.4" r="4"/><circle cx="1560.6" cy="576.4" r="4"/><circle cx="1571.5" cy="576.4" r="4"/></g>
</g>
</defs>
<use href="#tb"/>
<use href="#tb" transform="translate(-2.9,654.8)"/>
<use href="#tb" transform="translate(-5.6,1291.8)"/>
<use href="#to"/>
<use href="#to" transform="translate(-2.2,651)"/>
<use href="#to" transform="translate(-1.2,1291.7)"/>
<rect x="42" y="585" width="960.2" height="3.6" fill="#000"/>
<text x="82.8" y="624" class="yl">2013</text>
<text x="252.2" y="623" class="yl">2015</text>
<text x="420.2" y="623" class="yl">2017</text>
<text x="588.5" y="623" class="yl">2019</text>
<text x="759.5" y="624.2" class="yl">2021</text>
<text x="923.5" y="623" class="yl">2023</text>
<text x="35.7" y="49" class="pl">a</text>
<rect x="1061.5" y="584.8" width="966.7" height="3.6" fill="#000"/>
<text x="1119.5" y="627" class="yl">2013</text>
<text x="1284.5" y="625" class="yl">2015</text>
<text x="1446.5" y="623.8" class="yl">2017</text>
<text x="1613.5" y="625" class="yl">2019</text>
<text x="1776.5" y="625" class="yl">2021</text>
<text x="1941.5" y="623.8" class="yl">2023</text>
<text x="1048.5" y="49.2" class="pl">b</text>
<rect x="42.4" y="1238.1" width="960.1" height="3.6" fill="#000"/>
<text x="82.8" y="1277" class="yl">2013</text>
<text x="251.5" y="1277" class="yl">2015</text>
<text x="420.8" y="1277" class="yl">2017</text>
<text x="588.5" y="1276.2" class="yl">2019</text>
<text x="759.5" y="1278" class="yl">2021</text>
<text x="923.5" y="1276.2" class="yl">2023</text>
<text x="36" y="704" class="pl">c</text>
<rect x="1060.2" y="1235.8" width="967.3" height="3.6" fill="#000"/>
<text x="1118.5" y="1278" class="yl">2013</text>
<text x="1283.5" y="1277" class="yl">2015</text>
<text x="1445.2" y="1276.2" class="yl">2017</text>
<text x="1612.8" y="1276.2" class="yl">2019</text>
<text x="1775.8" y="1277" class="yl">2021</text>
<text x="1940.8" y="1275.5" class="yl">2023</text>
<text x="1047.9" y="702" class="pl">d</text>
<rect x="40" y="1879.1" width="959.9" height="3.6" fill="#000"/>
<text x="79.5" y="1918.2" class="yl">2013</text>
<text x="249.5" y="1918.2" class="yl">2015</text>
<text x="417.2" y="1918.2" class="yl">2017</text>
<text x="585.2" y="1917.5" class="yl">2019</text>
<text x="756.5" y="1919" class="yl">2021</text>
<text x="920.2" y="1917.5" class="yl">2023</text>
<text x="35.3" y="1349" class="pl">e</text>
<rect x="1061.2" y="1877.3" width="967.2" height="3.6" fill="#000"/>
<text x="1119.5" y="1919" class="yl">2013</text>
<text x="1284.5" y="1918.2" class="yl">2015</text>
<text x="1446.5" y="1917.5" class="yl">2017</text>
<text x="1613.5" y="1918.2" class="yl">2019</text>
<text x="1776.5" y="1918.2" class="yl">2021</text>
<text x="1941.5" y="1917.5" class="yl">2023</text>
<text x="1046" y="1349.9" class="pl">f</text>
<rect x="253.1" y="209.5" width="374.2" height="72.7" fill="#fff" stroke="#C00000" stroke-width="2"/>
<text x="268.7" y="242.1" fill="#C00000" class="b1">beth-1 2020-21 NH vaccine</text>
<text x="269.7" y="269.8" fill="#C00000" class="b2">A/Hong Kong/4380/2019</text>
<rect x="93.1" y="397.8" width="455" height="73.1" fill="#fff" stroke="#1A5663" stroke-width="2"/>
<text x="109.3" y="431.1" fill="#1A5663" class="b1" style="font-size:23.65px">WHO 2020-21 NH vaccine</text>
<text x="110.3" y="459.4" fill="#1A5663" class="b2" style="font-size:23.65px">A/Guangdong-Maonan/SWL1536/2019</text>
<rect x="1319.6" y="244.3" width="374.7" height="73.2" fill="#fff" stroke="#C00000" stroke-width="2"/>
<text x="1335.2" y="276.9" fill="#C00000" class="b1">beth-1 2020-21 NH vaccine</text>
<text x="1336.2" y="304.6" fill="#C00000" class="b2">A/Hong Kong/4435/2019</text>
<rect x="1166.6" y="355.4" width="374.4" height="72.4" fill="#fff" stroke="#1A5663" stroke-width="2"/>
<text x="1182.8" y="388.7" fill="#1A5663" class="b1" style="font-size:23.65px">WHO 2020-21 NH vaccine</text>
<text x="1183.8" y="417" fill="#1A5663" class="b2" style="font-size:23.65px">A/Hong Kong/2671/2019</text>
<rect x="253.6" y="890.7" width="375" height="72.4" fill="#fff" stroke="#1A5663" stroke-width="2"/>
<text x="269.8" y="924" fill="#1A5663" class="b1" style="font-size:23.65px">WHO 2021-22 NH vaccine</text>
<text x="270.8" y="952.3" fill="#1A5663" class="b2" style="font-size:23.65px">A/Victoria/2570/2019</text>
<rect x="171.4" y="1036.9" width="374.8" height="71.9" fill="#fff" stroke="#C00000" stroke-width="2"/>
<text x="187" y="1069.5" fill="#C00000" class="b1">beth-1 2021-22 NH vaccine</text>
<text x="188" y="1097.2" fill="#C00000" class="b2">A/NAGASAKI/8/2020</text>
<rect x="1329" y="877.7" width="374.7" height="72.2" fill="#fff" stroke="#C00000" stroke-width="2"/>
<text x="1344.6" y="910.3" fill="#C00000" class="b1">beth-1 2021-22 NH vaccine</text>
<text x="1345.6" y="938" fill="#C00000" class="b2">A/Bangladesh/0004/2020</text>
<rect x="1246.2" y="986.5" width="374.2" height="72.5" fill="#fff" stroke="#1A5663" stroke-width="2"/>
<text x="1262.4" y="1019.8" fill="#1A5663" class="b1" style="font-size:23.65px">WHO 2021-22 NH vaccine</text>
<text x="1263.4" y="1048.1" fill="#1A5663" class="b2" style="font-size:23.65px">A/Cambodia/e0826360/2020</text>
<rect x="362.6" y="1344.7" width="374.1" height="72.7" fill="#fff" stroke="#C00000" stroke-width="2"/>
<text x="378.2" y="1377.3" fill="#C00000" class="b1">beth-1 2022-23 NH vaccine</text>
<text x="379.2" y="1405" fill="#C00000" class="b2">A/Bangladesh/3210910005/2021</text>
<rect x="251.3" y="1522.9" width="374.1" height="71.9" fill="#fff" stroke="#1A5663" stroke-width="2"/>
<text x="267.5" y="1556.2" fill="#1A5663" class="b1" style="font-size:23.65px">WHO 2022-23 NH vaccine</text>
<text x="268.5" y="1584.5" fill="#1A5663" class="b2" style="font-size:23.65px">A/Victoria/2570/2019</text>
<rect x="1410.7" y="1315.1" width="374.2" height="72.4" fill="#fff" stroke="#C00000" stroke-width="2"/>
<text x="1426.3" y="1347.7" fill="#C00000" class="b1">beth-1 2022-23 NH vaccine</text>
<text x="1427.3" y="1375.4" fill="#C00000" class="b2">A/Arsal/5773/2021</text>
<rect x="1342.1" y="1426.1" width="375" height="72.2" fill="#fff" stroke="#1A5663" stroke-width="2"/>
<text x="1358.3" y="1459.4" fill="#1A5663" class="b1" style="font-size:23.65px">WHO 2022-23 NH vaccine</text>
<text x="1359.3" y="1487.7" fill="#1A5663" class="b2" style="font-size:23.65px">A/Darwin/6/2021</text>
<polygon points="654.3,507.3 645.8,515.8 637.9,507.9 646.4,499.4 637.9,490.9 645.8,483 654.3,491.5 662.8,483 670.7,490.9 662.2,499.4 670.7,507.9 662.8,515.8" fill="#2A8A99" stroke="#1B5863" stroke-width="2.6" stroke-linejoin="miter"/>
<polygon points="694.3,324.8 685.8,333.3 677.9,325.4 686.4,316.9 677.9,308.4 685.8,300.5 694.3,309 702.8,300.5 710.7,308.4 702.2,316.9 710.7,325.4 702.8,333.3" fill="#FF3B3F" stroke="#A00000" stroke-width="2.6" stroke-linejoin="miter"/>
<polygon points="1680.5,490.1 1672,498.6 1664.1,490.7 1672.6,482.2 1664.1,473.7 1672,465.8 1680.5,474.3 1689,465.8 1696.9,473.7 1688.4,482.2 1696.9,490.7 1689,498.6" fill="#2A8A99" stroke="#1B5863" stroke-width="2.6" stroke-linejoin="miter"/>
<polygon points="1712,492.3 1703.5,500.8 1695.6,492.9 1704.1,484.4 1695.6,475.9 1703.5,468 1712,476.5 1720.5,468 1728.4,475.9 1719.9,484.4 1728.4,492.9 1720.5,500.8" fill="#FF3B3F" stroke="#A00000" stroke-width="2.6" stroke-linejoin="miter"/>
<polygon points="692.5,978.9 684,987.4 676.1,979.5 684.6,971 676.1,962.5 684,954.6 692.5,963.1 701,954.6 708.9,962.5 700.4,971 708.9,979.5 701,987.4" fill="#2A8A99" stroke="#1B5863" stroke-width="2.6" stroke-linejoin="miter"/>
<polygon points="765.6,1112.8 757.1,1121.3 749.2,1113.4 757.7,1104.9 749.2,1096.4 757.1,1088.5 765.6,1097 774.1,1088.5 782,1096.4 773.5,1104.9 782,1113.4 774.1,1121.3" fill="#FF3B3F" stroke="#A00000" stroke-width="2.6" stroke-linejoin="miter"/>
<polygon points="1773.2,1067.9 1764.7,1076.4 1756.8,1068.5 1765.3,1060 1756.8,1051.5 1764.7,1043.6 1773.2,1052.1 1781.7,1043.6 1789.6,1051.5 1781.1,1060 1789.6,1068.5 1781.7,1076.4" fill="#2A8A99" stroke="#1B5863" stroke-width="2.6" stroke-linejoin="miter"/>
<polygon points="1788.4,1002.3 1779.9,1010.8 1772,1002.9 1780.5,994.4 1772,985.9 1779.9,978 1788.4,986.5 1796.9,978 1804.8,985.9 1796.3,994.4 1804.8,1002.9 1796.9,1010.8" fill="#FF3B3F" stroke="#A00000" stroke-width="2.6" stroke-linejoin="miter"/>
<polygon points="689.7,1619.7 681.2,1628.2 673.3,1620.3 681.8,1611.8 673.3,1603.3 681.2,1595.4 689.7,1603.9 698.2,1595.4 706.1,1603.3 697.6,1611.8 706.1,1620.3 698.2,1628.2" fill="#2A8A99" stroke="#1B5863" stroke-width="2.6" stroke-linejoin="miter"/>
<polygon points="842.8,1415.3 834.3,1423.8 826.4,1415.9 834.9,1407.4 826.4,1398.9 834.3,1391 842.8,1399.5 851.3,1391 859.2,1398.9 850.7,1407.4 859.2,1415.9 851.3,1423.8" fill="#FF3B3F" stroke="#A00000" stroke-width="2.6" stroke-linejoin="miter"/>
<polygon points="1828.3,1478.9 1819.8,1487.4 1811.9,1479.5 1820.4,1471 1811.9,1462.5 1819.8,1454.6 1828.3,1463.1 1836.8,1454.6 1844.7,1462.5 1836.2,1471 1844.7,1479.5 1836.8,1487.4" fill="#2A8A99" stroke="#1B5863" stroke-width="2.6" stroke-linejoin="miter"/>
<polygon points="1871.7,1342.6 1863.2,1351.1 1855.3,1343.2 1863.8,1334.7 1855.3,1326.2 1863.2,1318.3 1871.7,1326.8 1880.2,1318.3 1888.1,1326.2 1879.6,1334.7 1888.1,1343.2 1880.2,1351.1" fill="#FF3B3F" stroke="#A00000" stroke-width="2.6" stroke-linejoin="miter"/>
</svg></body></html>
